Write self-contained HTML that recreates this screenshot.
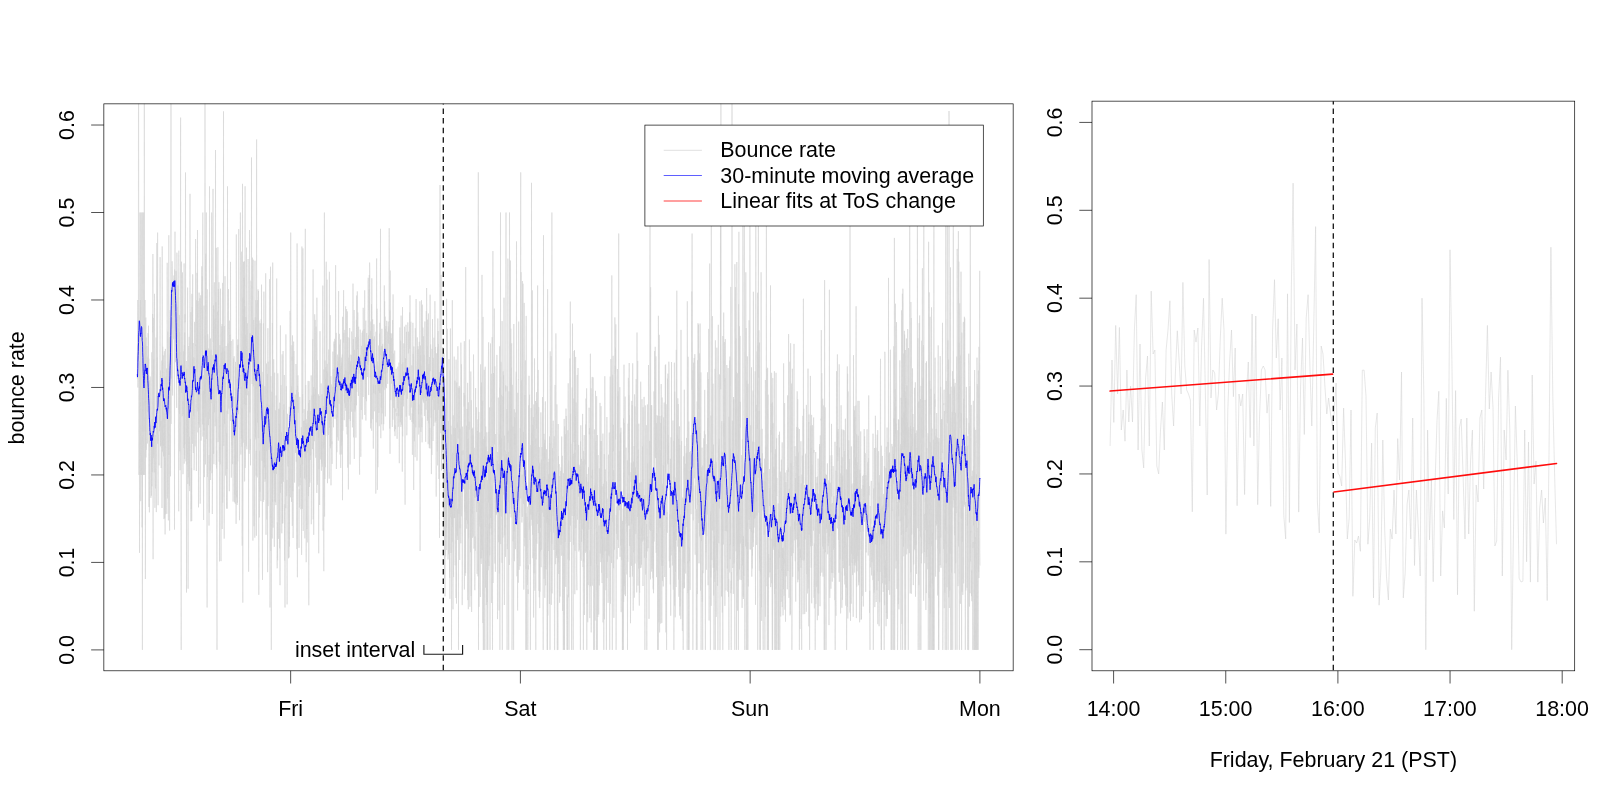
<!DOCTYPE html>
<html><head><meta charset="utf-8"><title>Bounce rate</title>
<style>
html,body{margin:0;padding:0;background:#fff;}
body{width:1600px;height:800px;overflow:hidden;}
svg{display:block;font-family:"Liberation Sans",sans-serif;fill:#000;will-change:transform;}
</style></head><body>
<svg width="1600" height="800" viewBox="0 0 1600 800">
<clipPath id="cl"><rect x="103.85" y="103.85" width="909.31" height="566.9499999999999"/></clipPath>
<clipPath id="cr"><rect x="1092.0" y="101.15" width="482.70000000000005" height="569.65"/></clipPath>
<g clip-path="url(#cl)">
<path d="M137.3 378.7L137.5 343.7L137.6 361.2L137.8 300.0L137.9 387.5L138.1 335.0L138.3 361.2L138.4 300.0L138.6 -224.9L138.7 212.5L138.9 474.9L139.1 431.2L139.2 387.5L139.4 361.2L139.5 552.8L139.7 387.5L139.9 212.5L140.0 431.2L140.2 474.9L140.3 387.5L140.5 300.0L140.7 501.2L140.8 212.5L141.0 361.2L141.1 387.5L141.3 431.2L141.5 474.9L141.6 431.2L141.8 212.5L141.9 361.2L142.1 527.4L142.2 387.5L142.4 649.9L142.6 387.5L142.7 212.5L142.9 431.2L143.0 361.2L143.2 387.5L143.4 474.9L143.5 387.5L143.7 212.5L143.8 431.2L144.0 474.9L144.2 300.0L144.3 -224.9L144.5 300.0L144.6 387.5L144.8 474.9L145.0 300.0L145.1 431.2L145.3 343.7L145.4 579.0L145.6 387.5L145.8 317.5L145.9 457.4L146.1 337.4L146.2 449.8L146.4 411.3L146.6 366.8L146.7 374.5L146.9 346.0L147.0 398.4L147.2 408.7L147.4 443.5L147.5 430.1L147.7 356.4L147.8 412.3L148.0 333.1L148.2 334.5L148.3 385.5L148.5 325.7L148.6 401.1L148.8 358.7L149.0 507.0L149.1 388.2L149.3 479.3L149.4 512.4L149.6 380.2L149.8 394.4L149.9 446.7L150.1 436.7L150.2 376.5L150.4 412.2L150.6 413.7L150.7 479.8L150.9 497.8L151.0 480.1L151.2 439.7L151.4 490.3L151.5 495.7L151.7 430.0L151.8 352.3L152.0 486.3L152.1 419.1L152.3 472.3L152.5 369.8L152.6 314.1L152.8 332.3L152.9 254.0L153.1 559.2L153.3 317.9L153.4 431.7L153.6 458.1L153.7 359.3L153.9 434.7L154.1 446.9L154.2 472.4L154.4 313.6L154.5 293.8L154.7 431.2L154.9 507.8L155.0 491.6L155.2 434.9L155.3 485.0L155.5 488.4L155.7 453.2L155.8 444.7L156.0 416.1L156.1 337.5L156.3 512.1L156.5 423.3L156.6 409.4L156.8 243.0L156.9 429.7L157.1 405.6L157.3 357.4L157.4 434.9L157.6 232.6L157.7 443.7L157.9 434.8L158.1 505.2L158.2 413.4L158.4 392.5L158.5 404.5L158.7 392.6L158.9 397.4L159.0 465.4L159.2 398.9L159.3 398.8L159.5 431.2L159.7 429.2L159.8 379.1L160.0 295.6L160.1 257.1L160.3 426.6L160.5 370.5L160.6 446.4L160.8 421.0L160.9 445.6L161.1 420.4L161.2 468.0L161.4 388.8L161.6 391.8L161.7 369.6L161.9 360.6L162.0 508.0L162.2 246.4L162.4 334.6L162.5 451.5L162.7 346.7L162.8 437.6L163.0 446.1L163.2 355.5L163.3 452.9L163.5 452.6L163.6 456.4L163.8 407.1L164.0 519.1L164.1 417.1L164.3 351.2L164.4 375.2L164.6 518.2L164.8 413.7L164.9 451.0L165.1 534.4L165.2 356.9L165.4 348.9L165.6 514.4L165.7 480.6L165.9 417.1L166.0 376.6L166.2 407.8L166.4 418.9L166.5 368.5L166.7 417.2L166.8 513.8L167.0 446.2L167.2 262.8L167.3 328.6L167.5 455.1L167.6 498.4L167.8 331.6L168.0 413.3L168.1 415.5L168.3 402.5L168.4 520.4L168.6 433.2L168.8 235.2L168.9 455.0L169.1 364.4L169.2 373.9L169.4 441.2L169.6 530.6L169.7 337.1L169.9 414.2L170.0 356.4L170.2 310.1L170.4 363.9L170.5 476.3L170.7 341.9L170.8 365.2L171.0 -224.9L171.1 423.9L171.3 323.0L171.5 378.6L171.6 317.6L171.8 326.6L171.9 327.4L172.1 261.3L172.3 268.4L172.4 291.2L172.6 395.5L172.7 289.5L172.9 295.4L173.1 307.3L173.2 286.9L173.4 280.5L173.5 279.8L173.7 339.4L173.9 275.5L174.0 276.8L174.2 309.4L174.3 289.2L174.5 529.6L174.7 269.5L174.8 316.6L175.0 231.7L175.1 312.4L175.3 339.7L175.5 362.2L175.6 319.7L175.8 338.9L175.9 297.8L176.1 270.9L176.3 278.5L176.4 314.0L176.6 404.0L176.7 407.9L176.9 252.7L177.1 282.5L177.2 332.8L177.4 337.1L177.5 306.8L177.7 379.1L177.9 307.4L178.0 285.4L178.2 363.0L178.3 328.6L178.5 448.5L178.7 511.3L178.8 250.7L179.0 351.7L179.1 409.8L179.3 315.2L179.5 414.1L179.6 332.2L179.8 451.5L179.9 352.0L180.1 470.2L180.2 406.2L180.4 300.4L180.6 117.6L180.7 279.6L180.9 325.0L181.0 522.4L181.2 649.9L181.4 336.2L181.5 261.7L181.7 393.0L181.8 363.6L182.0 383.4L182.2 416.3L182.3 406.1L182.5 272.4L182.6 343.9L182.8 458.9L183.0 474.2L183.1 400.9L183.3 414.3L183.4 380.4L183.6 351.5L183.8 363.3L183.9 447.9L184.1 263.4L184.2 463.6L184.4 344.9L184.6 458.8L184.7 332.6L184.9 444.1L185.0 314.3L185.2 322.3L185.4 315.7L185.5 172.5L185.7 358.0L185.8 453.7L186.0 461.3L186.2 395.6L186.3 361.0L186.5 592.5L186.6 391.2L186.8 368.9L187.0 464.6L187.1 403.8L187.3 432.7L187.4 419.7L187.6 287.6L187.8 484.0L187.9 388.3L188.1 588.7L188.2 419.3L188.4 477.4L188.6 396.0L188.7 346.1L188.9 370.1L189.0 407.1L189.2 336.8L189.4 485.9L189.5 436.7L189.7 491.1L189.8 363.9L190.0 193.8L190.1 284.2L190.3 338.8L190.5 408.9L190.6 368.1L190.8 312.2L190.9 521.3L191.1 449.5L191.3 401.8L191.4 509.0L191.6 467.9L191.7 521.1L191.9 293.8L192.1 403.2L192.2 307.1L192.4 443.9L192.5 325.4L192.7 274.3L192.9 390.0L193.0 348.8L193.2 343.1L193.3 453.0L193.5 384.5L193.7 416.1L193.8 357.1L194.0 367.7L194.1 470.2L194.3 459.1L194.5 409.0L194.6 321.9L194.8 356.8L194.9 383.5L195.1 446.4L195.3 444.1L195.4 425.8L195.6 239.0L195.7 346.0L195.9 344.5L196.1 378.6L196.2 403.9L196.4 471.0L196.5 382.8L196.7 300.2L196.9 371.9L197.0 272.8L197.2 411.4L197.3 396.3L197.5 230.0L197.7 395.0L197.8 432.4L198.0 416.5L198.1 301.2L198.3 322.5L198.5 507.3L198.6 380.4L198.8 424.3L198.9 420.3L199.1 292.7L199.2 335.1L199.4 427.6L199.6 397.8L199.7 368.3L199.9 298.2L200.0 307.3L200.2 503.6L200.4 404.1L200.5 367.1L200.7 295.3L200.8 416.6L201.0 440.6L201.2 432.4L201.3 352.8L201.5 307.4L201.6 291.5L201.8 266.3L202.0 334.3L202.1 355.2L202.3 276.3L202.4 424.5L202.6 323.7L202.8 212.5L202.9 436.6L203.1 391.3L203.2 408.9L203.4 375.2L203.6 520.0L203.7 390.7L203.9 430.8L204.0 305.6L204.2 340.6L204.4 477.1L204.5 411.1L204.7 364.6L204.8 403.2L205.0 -224.9L205.2 417.3L205.3 335.6L205.5 464.4L205.6 258.2L205.8 253.8L206.0 379.8L206.1 310.6L206.3 212.5L206.4 352.1L206.6 439.0L206.8 348.5L206.9 473.5L207.1 607.5L207.2 289.3L207.4 431.6L207.6 476.9L207.7 334.2L207.9 342.2L208.0 364.6L208.2 385.7L208.3 358.2L208.5 425.1L208.7 348.4L208.8 382.7L209.0 525.6L209.1 454.9L209.3 512.7L209.5 186.3L209.6 330.4L209.8 418.9L209.9 350.2L210.1 394.0L210.3 470.6L210.4 338.5L210.6 480.0L210.7 390.0L210.9 360.6L211.1 403.1L211.2 349.6L211.4 386.5L211.5 374.5L211.7 212.5L211.9 331.0L212.0 473.2L212.2 355.2L212.3 514.0L212.5 485.6L212.7 389.5L212.8 393.8L213.0 188.9L213.1 326.1L213.3 342.1L213.5 305.3L213.6 454.1L213.8 309.1L213.9 464.2L214.1 362.2L214.3 282.3L214.4 410.0L214.6 412.4L214.7 390.9L214.9 357.9L215.1 319.0L215.2 426.2L215.4 308.6L215.5 150.0L215.7 366.4L215.9 302.1L216.0 358.7L216.2 465.0L216.3 247.8L216.5 468.6L216.7 450.4L216.8 522.2L217.0 649.9L217.1 400.4L217.3 315.9L217.5 311.6L217.6 335.5L217.8 392.2L217.9 247.2L218.1 442.1L218.2 315.7L218.4 289.1L218.6 372.8L218.7 365.6L218.9 282.2L219.0 411.3L219.2 461.7L219.4 365.7L219.5 561.4L219.7 446.9L219.8 373.5L220.0 345.1L220.2 464.3L220.3 305.1L220.5 288.7L220.6 366.4L220.8 462.4L221.0 561.1L221.1 444.0L221.3 352.7L221.4 379.8L221.6 384.8L221.8 326.4L221.9 388.4L222.1 324.0L222.2 529.0L222.4 306.0L222.6 282.9L222.7 502.7L222.9 432.8L223.0 347.5L223.2 360.4L223.4 386.2L223.5 111.3L223.7 406.2L223.8 445.9L224.0 382.4L224.2 538.6L224.3 326.1L224.5 423.7L224.6 351.3L224.8 396.5L225.0 276.2L225.1 393.5L225.3 398.7L225.4 382.4L225.6 475.6L225.8 365.3L225.9 380.0L226.1 346.0L226.2 351.0L226.4 477.0L226.6 508.5L226.7 433.1L226.9 468.9L227.0 410.7L227.2 508.7L227.3 444.0L227.5 186.3L227.7 372.9L227.8 414.0L228.0 343.5L228.1 346.8L228.3 390.0L228.5 289.1L228.6 362.4L228.8 408.6L228.9 370.4L229.1 399.4L229.3 491.2L229.4 320.6L229.6 365.5L229.7 376.9L229.9 381.2L230.1 334.9L230.2 356.2L230.4 420.9L230.5 261.9L230.7 336.4L230.9 380.8L231.0 354.1L231.2 341.0L231.3 477.6L231.5 422.9L231.7 438.2L231.8 414.8L232.0 445.3L232.1 445.1L232.3 411.1L232.5 464.2L232.6 456.9L232.8 382.3L232.9 339.4L233.1 501.6L233.3 368.5L233.4 358.4L233.6 368.4L233.7 437.8L233.9 379.9L234.1 356.2L234.2 414.1L234.4 415.0L234.5 502.2L234.7 474.7L234.9 419.8L235.0 494.8L235.2 397.0L235.3 503.7L235.5 361.9L235.7 464.7L235.8 367.4L236.0 427.5L236.1 523.8L236.3 234.4L236.5 339.4L236.6 351.2L236.8 497.3L236.9 490.5L237.1 505.0L237.2 379.0L237.4 502.8L237.6 345.3L237.7 461.4L237.9 339.4L238.0 365.7L238.2 344.8L238.4 365.4L238.5 414.1L238.7 229.1L238.8 382.5L239.0 427.6L239.2 427.7L239.3 443.2L239.5 520.2L239.6 511.3L239.8 442.5L240.0 374.8L240.1 389.1L240.3 249.0L240.4 212.5L240.6 338.6L240.8 358.6L240.9 454.5L241.1 386.9L241.2 409.8L241.4 438.5L241.6 251.7L241.7 359.9L241.9 446.6L242.0 408.2L242.2 545.7L242.4 364.1L242.5 183.8L242.7 314.4L242.8 602.7L243.0 297.7L243.2 442.7L243.3 398.4L243.5 261.9L243.6 279.4L243.8 374.0L244.0 277.5L244.1 370.1L244.3 404.1L244.4 261.3L244.6 481.4L244.8 305.9L244.9 390.5L245.1 186.3L245.2 467.9L245.4 464.8L245.6 395.7L245.7 334.8L245.9 405.1L246.0 317.2L246.2 446.3L246.3 442.1L246.5 247.6L246.7 364.8L246.8 449.3L247.0 350.0L247.1 364.1L247.3 323.3L247.5 362.0L247.6 392.5L247.8 395.2L247.9 307.9L248.1 259.0L248.3 274.8L248.4 319.4L248.6 571.7L248.7 391.6L248.9 391.3L249.1 453.7L249.2 365.8L249.4 288.4L249.5 230.0L249.7 305.9L249.9 412.5L250.0 333.1L250.2 449.9L250.3 439.0L250.5 465.3L250.7 439.6L250.8 299.5L251.0 280.6L251.1 345.3L251.3 344.8L251.5 157.5L251.6 355.6L251.8 356.1L251.9 343.9L252.1 384.0L252.3 363.7L252.4 257.6L252.6 371.6L252.7 335.1L252.9 540.6L253.1 265.6L253.2 259.7L253.4 386.4L253.5 350.6L253.7 319.9L253.9 326.7L254.0 526.2L254.2 393.9L254.3 350.4L254.5 379.9L254.7 442.0L254.8 537.7L255.0 260.7L255.1 379.6L255.3 317.2L255.5 437.3L255.6 328.0L255.8 439.4L255.9 300.1L256.1 475.6L256.2 450.9L256.4 535.7L256.6 139.5L256.7 389.1L256.9 324.0L257.0 406.4L257.2 477.4L257.4 300.1L257.5 422.7L257.7 336.0L257.8 387.6L258.0 289.3L258.2 400.3L258.3 438.1L258.5 291.0L258.6 433.5L258.8 594.8L259.0 320.5L259.1 385.6L259.3 392.4L259.4 517.4L259.6 450.7L259.8 491.9L259.9 472.1L260.1 429.3L260.2 323.2L260.4 377.3L260.6 390.9L260.7 493.7L260.9 501.1L261.0 419.4L261.2 319.3L261.4 387.2L261.5 284.6L261.7 382.6L261.8 404.4L262.0 460.7L262.2 384.7L262.3 553.0L262.5 579.9L262.6 414.0L262.8 449.6L263.0 371.9L263.1 441.5L263.3 501.9L263.4 323.4L263.6 415.9L263.8 499.9L263.9 291.6L264.1 460.7L264.2 463.2L264.4 420.3L264.6 467.5L264.7 411.4L264.9 386.2L265.0 481.7L265.2 435.0L265.3 478.8L265.5 393.1L265.7 273.3L265.8 457.2L266.0 534.8L266.1 467.0L266.3 443.3L266.5 363.5L266.6 451.0L266.8 403.7L266.9 519.5L267.1 404.3L267.3 386.7L267.4 374.1L267.6 572.2L267.7 395.4L267.9 328.2L268.1 506.2L268.2 361.6L268.4 437.8L268.5 437.8L268.7 444.0L268.9 449.8L269.0 405.2L269.2 439.6L269.3 447.3L269.5 279.2L269.7 296.1L269.8 433.8L270.0 607.5L270.1 530.9L270.3 343.8L270.5 266.7L270.6 347.4L270.8 550.9L270.9 376.1L271.1 478.7L271.3 649.9L271.4 535.8L271.6 510.2L271.7 499.7L271.9 391.7L272.1 501.8L272.2 538.5L272.4 323.0L272.5 502.1L272.7 262.6L272.9 514.2L273.0 527.7L273.2 496.7L273.3 484.9L273.5 466.9L273.7 359.4L273.8 396.4L274.0 473.4L274.1 452.4L274.3 546.8L274.5 469.1L274.6 372.7L274.8 501.4L274.9 480.3L275.1 455.7L275.2 442.8L275.4 502.4L275.6 410.3L275.7 440.5L275.9 505.1L276.0 446.2L276.2 395.5L276.4 469.9L276.5 473.9L276.7 278.5L276.8 398.0L277.0 436.7L277.2 568.3L277.3 522.4L277.5 524.1L277.6 560.3L277.8 373.3L278.0 386.3L278.1 413.8L278.3 481.1L278.4 538.9L278.6 484.4L278.8 409.3L278.9 457.8L279.1 408.6L279.2 461.9L279.4 423.8L279.6 548.3L279.7 402.7L279.9 404.5L280.0 585.2L280.2 514.3L280.4 325.4L280.5 492.8L280.7 487.9L280.8 425.5L281.0 385.2L281.2 455.8L281.3 454.1L281.5 483.7L281.6 432.3L281.8 533.3L282.0 429.8L282.1 354.4L282.3 462.8L282.4 523.5L282.6 451.1L282.8 523.2L282.9 463.9L283.1 351.0L283.2 406.5L283.4 481.8L283.6 410.2L283.7 419.3L283.9 444.3L284.0 404.4L284.2 437.5L284.3 375.0L284.5 463.2L284.7 560.6L284.8 504.3L285.0 607.5L285.1 532.0L285.3 497.7L285.5 434.1L285.6 434.5L285.8 508.1L285.9 334.4L286.1 435.6L286.3 386.1L286.4 386.5L286.6 440.6L286.7 496.2L286.9 480.0L287.1 604.4L287.2 504.6L287.4 445.0L287.5 413.8L287.7 463.1L287.9 466.4L288.0 433.7L288.2 450.6L288.3 442.6L288.5 558.3L288.7 534.0L288.8 437.4L289.0 557.5L289.1 486.4L289.3 406.8L289.5 546.5L289.6 495.7L289.8 485.6L289.9 487.7L290.1 310.9L290.3 410.3L290.4 497.3L290.6 451.4L290.7 232.6L290.9 332.0L291.1 413.8L291.2 432.2L291.4 386.3L291.5 501.9L291.7 361.6L291.9 345.2L292.0 360.7L292.2 356.8L292.3 525.9L292.5 335.4L292.7 425.7L292.8 491.2L293.0 410.5L293.1 538.0L293.3 467.2L293.5 444.5L293.6 341.6L293.8 421.8L293.9 350.9L294.1 414.1L294.2 399.5L294.4 448.9L294.6 482.6L294.7 461.9L294.9 429.2L295.0 437.9L295.2 394.6L295.4 396.3L295.5 452.9L295.7 429.9L295.8 423.4L296.0 364.0L296.2 377.7L296.3 461.7L296.5 389.9L296.6 417.0L296.8 549.1L297.0 370.5L297.1 243.4L297.3 323.6L297.4 577.3L297.6 385.9L297.8 409.2L297.9 375.3L298.1 412.8L298.2 392.1L298.4 401.2L298.6 440.7L298.7 486.4L298.9 456.7L299.0 547.9L299.2 489.2L299.4 507.6L299.5 467.4L299.7 455.9L299.8 396.9L300.0 485.2L300.2 449.7L300.3 451.2L300.5 477.8L300.6 464.5L300.8 509.2L301.0 508.6L301.1 482.7L301.3 427.2L301.4 484.3L301.6 554.9L301.8 440.4L301.9 246.5L302.1 464.3L302.2 444.7L302.4 508.9L302.6 394.0L302.7 412.9L302.9 248.4L303.0 466.6L303.2 530.9L303.3 452.1L303.5 420.9L303.7 434.9L303.8 432.9L304.0 449.1L304.1 409.2L304.3 460.0L304.5 478.4L304.6 420.5L304.8 462.7L304.9 538.3L305.1 424.1L305.3 228.8L305.4 420.4L305.6 458.3L305.7 385.0L305.9 479.6L306.1 426.3L306.2 562.2L306.4 419.4L306.5 455.5L306.7 477.5L306.9 529.0L307.0 423.3L307.2 542.4L307.3 450.2L307.5 410.8L307.7 439.3L307.8 452.9L308.0 434.1L308.1 380.9L308.3 482.8L308.5 496.1L308.6 403.2L308.8 605.3L308.9 431.5L309.1 381.2L309.3 487.0L309.4 449.2L309.6 430.9L309.7 400.0L309.9 482.5L310.1 411.0L310.2 459.9L310.4 459.6L310.5 433.9L310.7 455.1L310.9 410.8L311.0 399.8L311.2 375.4L311.3 524.2L311.5 479.7L311.7 434.6L311.8 432.0L312.0 395.3L312.1 435.4L312.3 409.2L312.5 449.1L312.6 343.9L312.8 339.2L312.9 423.2L313.1 269.4L313.2 519.3L313.4 462.4L313.6 387.0L313.7 534.8L313.9 394.8L314.0 419.0L314.2 433.3L314.4 441.2L314.5 394.1L314.7 314.3L314.8 424.9L315.0 359.2L315.2 319.9L315.3 413.5L315.5 388.7L315.6 417.9L315.8 457.7L316.0 394.4L316.1 326.6L316.3 353.2L316.4 454.6L316.6 466.4L316.8 492.9L316.9 297.7L317.1 421.0L317.2 360.1L317.4 484.8L317.6 434.0L317.7 418.6L317.9 423.5L318.0 425.8L318.2 433.5L318.4 438.0L318.5 394.3L318.7 553.3L318.8 426.1L319.0 469.1L319.2 395.9L319.3 421.3L319.5 437.9L319.6 505.0L319.8 430.2L320.0 331.2L320.1 426.7L320.3 407.0L320.4 459.4L320.6 423.1L320.8 433.4L320.9 406.4L321.1 383.4L321.2 397.5L321.4 470.7L321.6 420.6L321.7 463.4L321.9 449.1L322.0 394.3L322.2 466.6L322.3 426.5L322.5 424.4L322.7 380.8L322.8 285.6L323.0 530.6L323.1 460.8L323.3 406.0L323.5 448.3L323.6 443.9L323.8 571.2L323.9 369.4L324.1 445.1L324.3 345.2L324.4 212.5L324.6 516.6L324.7 397.3L324.9 479.1L325.1 360.5L325.2 398.6L325.4 467.2L325.5 379.3L325.7 436.2L325.9 367.1L326.0 396.7L326.2 261.7L326.3 412.9L326.5 394.9L326.7 370.6L326.8 396.8L327.0 279.7L327.1 414.2L327.3 363.9L327.5 483.2L327.6 372.5L327.8 400.0L327.9 386.3L328.1 389.5L328.3 433.8L328.4 435.0L328.6 361.6L328.7 349.6L328.9 366.7L329.1 383.9L329.2 478.6L329.4 271.8L329.5 424.9L329.7 427.9L329.9 412.8L330.0 410.2L330.2 315.2L330.3 446.2L330.5 380.3L330.7 448.3L330.8 376.2L331.0 485.3L331.1 441.1L331.3 406.3L331.4 384.4L331.6 438.0L331.8 444.2L331.9 441.5L332.1 463.9L332.2 434.0L332.4 414.3L332.6 386.8L332.7 413.5L332.9 351.6L333.0 395.9L333.2 373.4L333.4 369.3L333.5 427.3L333.7 406.4L333.8 393.7L334.0 341.6L334.2 400.9L334.3 343.8L334.5 349.1L334.6 381.4L334.8 338.8L335.0 359.0L335.1 419.1L335.3 340.1L335.4 392.6L335.6 265.2L335.8 335.5L335.9 369.6L336.1 407.9L336.2 332.9L336.4 469.0L336.6 415.1L336.7 414.3L336.9 452.2L337.0 378.2L337.2 437.3L337.4 354.6L337.5 417.4L337.7 371.5L337.8 363.4L338.0 361.1L338.2 408.5L338.3 440.6L338.5 404.8L338.6 291.1L338.8 389.6L339.0 356.8L339.1 403.7L339.3 333.9L339.4 387.1L339.6 344.6L339.8 417.0L339.9 425.8L340.1 454.6L340.2 399.9L340.4 391.5L340.6 339.5L340.7 467.9L340.9 366.0L341.0 381.8L341.2 445.7L341.3 357.6L341.5 393.7L341.7 454.4L341.8 362.7L342.0 441.4L342.1 390.6L342.3 354.5L342.5 500.2L342.6 316.8L342.8 430.7L342.9 405.9L343.1 390.6L343.3 362.5L343.4 331.5L343.6 290.2L343.7 342.5L343.9 332.9L344.1 373.4L344.2 420.2L344.4 374.4L344.5 403.2L344.7 363.2L344.9 329.9L345.0 359.5L345.2 401.3L345.3 407.9L345.5 308.5L345.7 306.3L345.8 410.8L346.0 370.6L346.1 385.6L346.3 426.9L346.5 334.3L346.6 309.1L346.8 384.7L346.9 379.7L347.1 434.4L347.3 311.4L347.4 325.0L347.6 369.2L347.7 467.7L347.9 337.0L348.1 401.9L348.2 371.9L348.4 489.4L348.5 392.7L348.7 357.6L348.9 417.3L349.0 419.1L349.2 338.0L349.3 374.1L349.5 348.8L349.7 328.0L349.8 399.1L350.0 354.5L350.1 464.5L350.3 394.7L350.4 421.0L350.6 361.4L350.8 384.5L350.9 364.2L351.1 401.5L351.2 396.2L351.4 354.9L351.6 411.7L351.7 331.6L351.9 335.7L352.0 344.1L352.2 345.8L352.4 427.4L352.5 425.3L352.7 349.8L352.8 332.9L353.0 283.6L353.2 372.3L353.3 339.0L353.5 436.3L353.6 437.4L353.8 364.4L354.0 377.2L354.1 310.0L354.3 458.9L354.4 356.5L354.6 349.8L354.8 357.5L354.9 411.7L355.1 374.4L355.2 409.5L355.4 393.6L355.6 337.2L355.7 395.6L355.9 437.6L356.0 369.0L356.2 372.0L356.4 319.9L356.5 405.3L356.7 295.5L356.8 391.9L357.0 374.2L357.2 330.4L357.3 291.4L357.5 349.2L357.6 339.5L357.8 312.5L358.0 370.1L358.1 336.7L358.3 370.1L358.4 396.0L358.6 326.7L358.8 347.8L358.9 373.5L359.1 364.1L359.2 373.1L359.4 459.9L359.6 474.7L359.7 405.8L359.9 389.3L360.0 375.0L360.2 329.6L360.3 332.3L360.5 369.2L360.7 358.1L360.8 456.8L361.0 354.8L361.1 404.3L361.3 410.0L361.5 382.1L361.6 345.9L361.8 354.6L361.9 340.5L362.1 332.7L362.3 419.4L362.4 406.6L362.6 406.5L362.7 330.7L362.9 354.0L363.1 397.0L363.2 307.8L363.4 328.5L363.5 369.8L363.7 350.4L363.9 378.3L364.0 373.8L364.2 328.9L364.3 358.8L364.5 337.3L364.7 290.3L364.8 414.9L365.0 343.4L365.1 366.5L365.3 362.6L365.5 347.0L365.6 398.8L365.8 320.6L365.9 420.5L366.1 365.3L366.3 365.6L366.4 401.3L366.6 344.4L366.7 333.0L366.9 341.1L367.1 364.1L367.2 355.0L367.4 377.0L367.5 348.4L367.7 360.7L367.9 347.1L368.0 364.9L368.2 277.8L368.3 361.9L368.5 335.3L368.7 395.1L368.8 360.0L369.0 289.5L369.1 310.0L369.3 275.0L369.4 347.8L369.6 262.6L369.8 271.4L369.9 325.2L370.1 340.6L370.2 377.6L370.4 331.2L370.6 428.4L370.7 338.5L370.9 321.5L371.0 383.2L371.2 423.2L371.4 352.1L371.5 304.2L371.7 430.7L371.8 278.3L372.0 344.7L372.2 336.6L372.3 355.7L372.5 355.2L372.6 319.4L372.8 419.2L373.0 338.9L373.1 339.8L373.3 448.6L373.4 384.6L373.6 393.3L373.8 346.8L373.9 324.3L374.1 356.0L374.2 372.3L374.4 336.4L374.6 364.2L374.7 411.3L374.9 365.5L375.0 392.2L375.2 394.1L375.4 394.4L375.5 384.9L375.7 388.9L375.8 493.6L376.0 331.7L376.2 422.4L376.3 404.7L376.5 336.7L376.6 258.5L376.8 369.1L377.0 308.7L377.1 329.6L377.3 371.0L377.4 489.8L377.6 361.4L377.8 410.8L377.9 467.2L378.1 365.6L378.2 381.0L378.4 378.8L378.6 390.9L378.7 345.5L378.9 412.9L379.0 370.9L379.2 426.2L379.3 381.7L379.5 333.7L379.7 392.5L379.8 322.8L380.0 392.9L380.1 348.6L380.3 355.0L380.5 228.8L380.6 331.3L380.8 438.2L380.9 389.8L381.1 371.3L381.3 407.9L381.4 366.5L381.6 346.3L381.7 424.3L381.9 328.8L382.1 357.2L382.2 413.4L382.4 346.0L382.5 387.2L382.7 343.9L382.9 377.2L383.0 371.7L383.2 430.5L383.3 360.4L383.5 375.8L383.7 424.2L383.8 353.7L384.0 374.3L384.1 371.9L384.3 285.4L384.5 352.7L384.6 301.3L384.8 389.8L384.9 323.5L385.1 316.6L385.3 416.4L385.4 328.8L385.6 386.7L385.7 338.6L385.9 326.0L386.1 330.5L386.2 375.3L386.4 388.2L386.5 357.7L386.7 320.8L386.9 335.2L387.0 355.0L387.2 372.7L387.3 331.7L387.5 338.3L387.7 383.9L387.8 371.7L388.0 366.5L388.1 363.3L388.3 321.6L388.4 343.6L388.6 326.5L388.8 331.0L388.9 359.6L389.1 367.3L389.2 228.2L389.4 321.9L389.6 321.8L389.7 428.5L389.9 310.4L390.0 453.8L390.2 270.5L390.4 378.2L390.5 333.2L390.7 371.7L390.8 400.1L391.0 333.8L391.2 375.2L391.3 337.9L391.5 377.5L391.6 383.6L391.8 372.8L392.0 376.7L392.1 333.1L392.3 426.9L392.4 375.2L392.6 320.2L392.8 389.7L392.9 419.8L393.1 294.4L393.2 364.6L393.4 353.6L393.6 373.2L393.7 407.8L393.9 374.7L394.0 372.8L394.2 387.3L394.4 422.4L394.5 431.4L394.7 350.6L394.8 402.4L395.0 436.1L395.2 425.4L395.3 428.1L395.5 429.2L395.6 408.6L395.8 411.7L396.0 411.7L396.1 368.7L396.3 398.1L396.4 393.3L396.6 390.7L396.8 416.1L396.9 412.8L397.1 438.8L397.2 430.9L397.4 393.9L397.6 408.4L397.7 387.8L397.9 366.7L398.0 401.1L398.2 401.8L398.3 426.8L398.5 388.9L398.7 416.2L398.8 403.2L399.0 362.6L399.1 390.2L399.3 463.2L399.5 391.7L399.6 391.2L399.8 364.8L399.9 327.5L400.1 403.8L400.3 422.1L400.4 419.2L400.6 340.7L400.7 372.9L400.9 426.9L401.1 315.6L401.2 416.8L401.4 424.6L401.5 378.6L401.7 384.0L401.9 417.8L402.0 364.1L402.2 383.3L402.3 471.7L402.5 307.1L402.7 436.4L402.8 362.4L403.0 400.0L403.1 394.9L403.3 371.3L403.5 393.5L403.6 406.4L403.8 344.4L403.9 343.3L404.1 395.2L404.3 383.8L404.4 326.7L404.6 327.8L404.7 347.3L404.9 467.7L405.1 504.7L405.2 376.1L405.4 358.2L405.5 392.3L405.7 358.7L405.9 360.1L406.0 324.8L406.2 416.6L406.3 355.3L406.5 331.8L406.7 350.8L406.8 435.3L407.0 420.6L407.1 369.3L407.3 385.6L407.4 398.8L407.6 390.3L407.8 322.4L407.9 345.5L408.1 345.7L408.2 348.5L408.4 353.4L408.6 331.7L408.7 350.0L408.9 377.3L409.0 367.1L409.2 415.7L409.4 343.9L409.5 341.2L409.7 312.3L409.8 348.7L410.0 295.3L410.2 368.3L410.3 419.9L410.5 410.7L410.6 397.1L410.8 321.7L411.0 392.7L411.1 407.5L411.3 406.2L411.4 395.1L411.6 399.2L411.8 365.4L411.9 380.6L412.1 422.0L412.2 413.3L412.4 454.8L412.6 415.1L412.7 390.7L412.9 322.8L413.0 422.3L413.2 353.9L413.4 423.8L413.5 382.5L413.7 490.0L413.8 346.4L414.0 389.7L414.2 386.2L414.3 441.4L414.5 379.6L414.6 380.9L414.8 409.9L415.0 392.3L415.1 457.1L415.3 328.2L415.4 385.7L415.6 392.3L415.8 427.4L415.9 360.7L416.1 299.0L416.2 360.3L416.4 365.8L416.6 381.6L416.7 380.3L416.9 384.5L417.0 460.7L417.2 449.4L417.3 337.4L417.5 352.3L417.7 377.5L417.8 375.5L418.0 346.3L418.1 387.6L418.3 349.2L418.5 414.3L418.6 389.2L418.8 434.5L418.9 404.7L419.1 427.7L419.3 341.8L419.4 384.5L419.6 375.4L419.7 370.4L419.9 301.3L420.1 551.0L420.2 355.2L420.4 392.2L420.5 345.5L420.7 355.3L420.9 432.0L421.0 365.6L421.2 414.5L421.3 403.1L421.5 300.2L421.7 376.4L421.8 427.2L422.0 417.7L422.1 442.3L422.3 304.6L422.5 385.8L422.6 399.5L422.8 365.4L422.9 327.6L423.1 384.0L423.3 401.5L423.4 396.0L423.6 336.3L423.7 374.9L423.9 403.1L424.1 354.8L424.2 396.2L424.4 416.1L424.5 378.8L424.7 346.9L424.9 321.5L425.0 381.2L425.2 398.0L425.3 390.3L425.5 397.1L425.7 441.8L425.8 425.7L426.0 379.3L426.1 409.7L426.3 311.0L426.4 401.0L426.6 288.0L426.8 317.4L426.9 392.7L427.1 346.1L427.2 353.5L427.4 420.8L427.6 319.6L427.7 418.8L427.9 409.7L428.0 412.3L428.2 444.2L428.4 313.5L428.5 348.1L428.7 423.3L428.8 364.4L429.0 400.1L429.2 398.9L429.3 447.9L429.5 357.0L429.6 444.6L429.8 427.9L430.0 448.5L430.1 294.7L430.3 371.1L430.4 362.9L430.6 344.4L430.8 349.3L430.9 399.9L431.1 417.8L431.2 388.1L431.4 474.1L431.6 420.6L431.7 394.0L431.9 455.0L432.0 348.9L432.2 372.5L432.4 399.9L432.5 319.1L432.7 353.3L432.8 407.2L433.0 441.0L433.2 430.2L433.3 357.9L433.5 400.0L433.6 415.1L433.8 426.1L434.0 337.7L434.1 398.0L434.3 381.1L434.4 394.6L434.6 409.9L434.8 393.0L434.9 301.2L435.1 422.5L435.2 413.5L435.4 349.5L435.6 346.9L435.7 392.5L435.9 420.8L436.0 390.9L436.2 496.6L436.3 388.5L436.5 383.1L436.7 353.4L436.8 381.3L437.0 423.3L437.1 423.9L437.3 451.5L437.5 347.5L437.6 465.4L437.8 318.5L437.9 388.1L438.1 331.1L438.3 403.5L438.4 343.9L438.6 409.9L438.7 389.1L438.9 479.0L439.1 416.3L439.2 379.5L439.4 372.0L439.5 537.9L439.7 408.0L439.9 320.6L440.0 185.0L440.2 406.3L440.3 408.9L440.5 418.7L440.7 377.4L440.8 433.2L441.0 410.2L441.1 274.9L441.3 423.3L441.5 470.4L441.6 402.3L441.8 404.1L441.9 389.6L442.1 405.7L442.3 379.7L442.4 452.3L442.6 387.4L442.7 347.0L442.9 386.7L443.1 438.9L443.2 380.9L443.4 457.9L443.5 536.9L443.7 504.3L443.9 353.2L444.0 509.1L444.2 500.4L444.3 557.3L444.5 578.5L444.7 378.6L444.8 525.1L445.0 596.3L445.1 549.3L445.3 525.1L445.4 451.2L445.6 556.5L445.8 483.1L445.9 537.3L446.1 511.4L446.2 398.4L446.4 527.4L446.6 298.8L446.7 550.0L446.9 463.6L447.0 504.8L447.2 421.9L447.4 328.8L447.5 489.2L447.7 429.3L447.8 496.8L448.0 559.4L448.2 554.0L448.3 421.1L448.5 554.3L448.6 491.5L448.8 508.7L449.0 359.2L449.1 478.3L449.3 507.4L449.4 472.4L449.6 577.6L449.8 472.3L449.9 598.8L450.1 370.5L450.2 484.0L450.4 328.5L450.6 412.8L450.7 517.3L450.9 425.9L451.0 553.0L451.2 502.5L451.4 434.5L451.5 649.9L451.7 568.5L451.8 477.4L452.0 535.6L452.2 542.2L452.3 300.2L452.5 526.8L452.6 452.5L452.8 544.2L453.0 609.3L453.1 438.0L453.3 415.3L453.4 564.1L453.6 577.1L453.8 455.5L453.9 427.9L454.1 518.2L454.2 356.6L454.4 477.7L454.5 502.1L454.7 517.9L454.9 451.1L455.0 380.7L455.2 565.4L455.3 526.2L455.5 428.0L455.7 456.9L455.8 439.8L456.0 598.0L456.1 359.7L456.3 477.5L456.5 603.6L456.6 440.5L456.8 382.4L456.9 403.7L457.1 427.9L457.3 422.4L457.4 535.7L457.6 508.5L457.7 540.0L457.9 346.3L458.1 438.6L458.2 387.7L458.4 496.3L458.5 649.9L458.7 445.0L458.9 453.6L459.0 513.7L459.2 385.9L459.3 421.2L459.5 518.0L459.7 560.0L459.8 387.5L460.0 528.1L460.1 428.5L460.3 469.2L460.5 465.8L460.6 487.8L460.8 543.3L460.9 342.6L461.1 459.2L461.3 471.1L461.4 364.3L461.6 434.7L461.7 516.3L461.9 450.9L462.1 497.7L462.2 605.1L462.4 575.2L462.5 467.1L462.7 426.6L462.9 453.1L463.0 455.0L463.2 450.3L463.3 465.4L463.5 489.2L463.7 449.3L463.8 416.9L464.0 392.9L464.1 406.6L464.3 341.2L464.4 589.5L464.6 540.3L464.8 395.4L464.9 511.9L465.1 461.5L465.2 575.8L465.4 494.2L465.6 573.1L465.7 267.1L465.9 450.1L466.0 515.2L466.2 470.3L466.4 520.0L466.5 425.7L466.7 528.7L466.8 523.4L467.0 408.9L467.2 508.7L467.3 511.6L467.5 524.1L467.6 382.9L467.8 600.1L468.0 557.4L468.1 438.6L468.3 609.2L468.4 402.3L468.6 538.4L468.8 477.2L468.9 489.4L469.1 421.7L469.2 429.7L469.4 339.5L469.6 403.7L469.7 490.2L469.9 606.8L470.0 497.7L470.2 497.7L470.4 453.3L470.5 552.2L470.7 454.6L470.8 371.5L471.0 491.3L471.2 595.9L471.3 400.2L471.5 446.0L471.6 612.0L471.8 484.2L472.0 513.8L472.1 428.9L472.3 491.8L472.4 529.2L472.6 537.9L472.8 427.7L472.9 470.3L473.1 434.6L473.2 536.6L473.4 473.1L473.5 354.5L473.7 386.5L473.9 464.0L474.0 548.7L474.2 483.7L474.3 473.2L474.5 497.6L474.7 447.8L474.8 590.2L475.0 543.0L475.1 536.4L475.3 550.7L475.5 492.9L475.6 388.1L475.8 497.8L475.9 466.3L476.1 468.8L476.3 491.7L476.4 407.3L476.6 486.6L476.7 512.1L476.9 497.4L477.1 573.9L477.2 525.5L477.4 431.0L477.5 503.2L477.7 482.9L477.9 419.3L478.0 576.3L478.2 431.5L478.3 172.3L478.5 649.9L478.7 425.7L478.8 411.9L479.0 606.9L479.1 532.1L479.3 510.7L479.5 506.4L479.6 502.4L479.8 526.4L479.9 432.5L480.1 582.3L480.3 597.0L480.4 465.3L480.6 364.4L480.7 558.6L480.9 457.9L481.1 486.6L481.2 563.9L481.4 513.0L481.5 382.4L481.7 558.3L481.9 308.8L482.0 274.9L482.2 550.2L482.3 495.7L482.5 406.9L482.7 400.7L482.8 623.0L483.0 316.9L483.1 553.2L483.3 649.9L483.4 439.1L483.6 475.3L483.8 614.1L483.9 649.9L484.1 649.9L484.2 369.8L484.4 488.9L484.6 436.5L484.7 533.7L484.9 649.9L485.0 435.4L485.2 366.7L485.4 455.9L485.5 587.6L485.7 426.6L485.8 470.6L486.0 446.7L486.2 456.0L486.3 605.0L486.5 602.2L486.6 510.1L486.8 432.3L487.0 649.9L487.1 551.3L487.3 480.1L487.4 602.0L487.6 530.6L487.8 649.9L487.9 451.3L488.1 461.6L488.2 570.3L488.4 359.0L488.6 342.3L488.7 502.7L488.9 431.8L489.0 566.0L489.2 523.3L489.4 533.5L489.5 407.4L489.7 555.4L489.8 455.6L490.0 649.9L490.2 483.4L490.3 353.4L490.5 343.5L490.6 518.0L490.8 446.1L491.0 515.6L491.1 528.1L491.3 373.7L491.4 389.2L491.6 603.0L491.8 486.6L491.9 534.6L492.1 415.3L492.2 337.1L492.4 614.6L492.5 649.9L492.7 497.4L492.9 251.1L493.0 583.0L493.2 517.0L493.3 493.7L493.5 373.0L493.7 440.9L493.8 458.9L494.0 482.8L494.1 457.0L494.3 308.6L494.5 444.4L494.6 427.3L494.8 366.3L494.9 563.5L495.1 483.6L495.3 555.9L495.4 571.7L495.6 488.6L495.7 434.0L495.9 456.3L496.1 515.1L496.2 484.7L496.4 513.6L496.5 448.2L496.7 395.1L496.9 354.9L497.0 483.2L497.2 461.0L497.3 514.8L497.5 619.1L497.7 452.1L497.8 502.0L498.0 512.4L498.1 509.7L498.3 397.6L498.5 462.6L498.6 542.2L498.8 464.1L498.9 497.3L499.1 610.5L499.3 434.3L499.4 573.4L499.6 382.4L499.7 346.3L499.9 649.9L500.1 387.8L500.2 392.0L500.4 512.0L500.5 212.5L500.7 544.1L500.9 361.8L501.0 509.4L501.2 395.1L501.3 516.7L501.5 438.1L501.7 492.5L501.8 470.6L502.0 562.8L502.1 321.1L502.3 649.9L502.4 579.7L502.6 464.7L502.8 537.7L502.9 396.5L503.1 456.5L503.2 371.3L503.4 421.6L503.6 375.1L503.7 470.5L503.9 494.8L504.0 297.7L504.2 565.2L504.4 605.0L504.5 435.7L504.7 535.4L504.8 477.0L505.0 504.1L505.2 527.5L505.3 450.5L505.5 556.8L505.6 385.4L505.8 391.4L506.0 212.5L506.1 499.4L506.3 506.1L506.4 454.4L506.6 463.4L506.8 451.6L506.9 409.2L507.1 649.9L507.2 386.3L507.4 549.1L507.6 455.8L507.7 388.5L507.9 258.6L508.0 442.8L508.2 430.6L508.4 502.0L508.5 451.8L508.7 649.9L508.8 465.1L509.0 391.2L509.2 392.1L509.3 565.0L509.5 212.5L509.6 430.0L509.8 513.8L510.0 472.0L510.1 487.7L510.3 449.7L510.4 260.5L510.6 479.5L510.8 328.7L510.9 401.7L511.1 517.4L511.2 367.6L511.4 508.7L511.5 346.7L511.7 343.3L511.9 366.9L512.0 649.9L512.2 628.0L512.3 384.8L512.5 477.1L512.7 460.4L512.8 486.5L513.0 426.7L513.1 541.3L513.3 476.9L513.5 484.7L513.6 649.9L513.8 324.0L513.9 508.0L514.1 531.4L514.3 409.3L514.4 561.3L514.6 483.3L514.7 417.2L514.9 444.6L515.1 433.7L515.2 463.0L515.4 539.9L515.5 549.2L515.7 412.6L515.9 523.1L516.0 502.1L516.2 371.7L516.3 502.6L516.5 241.4L516.7 422.6L516.8 481.3L517.0 576.3L517.1 488.6L517.3 487.2L517.5 565.3L517.6 610.5L517.8 392.8L517.9 490.4L518.1 500.5L518.3 582.7L518.4 379.4L518.6 380.1L518.7 321.6L518.9 405.5L519.1 569.9L519.2 520.0L519.4 507.0L519.5 512.9L519.7 470.6L519.9 550.0L520.0 566.2L520.2 493.1L520.3 427.9L520.5 472.1L520.7 172.3L520.8 498.4L521.0 365.4L521.1 272.2L521.3 448.9L521.4 381.8L521.6 380.3L521.8 420.1L521.9 522.5L522.1 474.6L522.2 516.9L522.4 281.0L522.6 372.3L522.7 453.1L522.9 442.4L523.0 283.7L523.2 457.0L523.4 503.9L523.5 431.9L523.7 485.3L523.8 589.6L524.0 473.5L524.2 302.9L524.3 359.4L524.5 475.2L524.6 508.0L524.8 546.3L525.0 394.9L525.1 537.9L525.3 360.4L525.4 432.7L525.6 432.8L525.8 649.9L525.9 513.2L526.1 568.8L526.2 315.9L526.4 572.2L526.6 649.9L526.7 522.5L526.9 520.6L527.0 516.8L527.2 563.2L527.4 584.9L527.5 564.7L527.7 506.7L527.8 649.9L528.0 589.5L528.2 593.9L528.3 565.4L528.5 569.3L528.6 405.4L528.8 506.9L529.0 375.8L529.1 421.1L529.3 529.5L529.4 400.1L529.6 394.7L529.8 539.9L529.9 482.2L530.1 564.3L530.2 539.8L530.4 649.9L530.5 574.2L530.7 462.5L530.9 444.9L531.0 514.8L531.2 408.0L531.3 519.8L531.5 182.8L531.7 504.0L531.8 432.6L532.0 487.3L532.1 525.7L532.3 290.3L532.5 473.0L532.6 534.7L532.8 424.8L532.9 558.2L533.1 486.4L533.3 417.1L533.4 546.6L533.6 617.5L533.7 577.6L533.9 404.4L534.1 573.4L534.2 519.0L534.4 470.8L534.5 358.4L534.7 527.8L534.9 590.7L535.0 476.1L535.2 461.7L535.3 456.4L535.5 401.0L535.7 469.9L535.8 649.9L536.0 438.4L536.1 559.4L536.3 512.0L536.5 392.2L536.6 428.7L536.8 403.2L536.9 543.7L537.1 473.3L537.3 524.2L537.4 469.6L537.6 285.5L537.7 499.8L537.9 511.3L538.1 504.2L538.2 369.9L538.4 533.0L538.5 510.5L538.7 407.1L538.9 522.0L539.0 590.9L539.2 447.1L539.3 597.3L539.5 463.7L539.7 608.1L539.8 462.6L540.0 591.7L540.1 531.8L540.3 551.4L540.4 486.5L540.6 528.0L540.8 469.0L540.9 412.4L541.1 567.2L541.2 466.7L541.4 459.6L541.6 503.2L541.7 549.9L541.9 537.6L542.0 447.0L542.2 512.6L542.4 484.4L542.5 397.1L542.7 508.4L542.8 514.1L543.0 549.7L543.2 649.9L543.3 456.0L543.5 235.2L543.6 504.9L543.8 516.7L544.0 433.8L544.1 578.8L544.3 450.6L544.4 442.6L544.6 525.5L544.8 597.8L544.9 439.9L545.1 441.3L545.2 568.8L545.4 401.4L545.6 585.4L545.7 566.6L545.9 536.6L546.0 509.3L546.2 569.5L546.4 505.3L546.5 449.3L546.7 522.6L546.8 514.5L547.0 479.3L547.2 649.9L547.3 498.0L547.5 649.9L547.6 289.2L547.8 615.6L548.0 461.8L548.1 478.6L548.3 550.9L548.4 532.3L548.6 474.3L548.8 542.0L548.9 503.7L549.1 458.7L549.2 509.9L549.4 604.0L549.5 436.5L549.7 564.3L549.9 443.5L550.0 649.9L550.2 351.4L550.3 399.0L550.5 504.9L550.7 503.8L550.8 531.6L551.0 433.3L551.1 356.1L551.3 604.9L551.5 531.6L551.6 496.9L551.8 543.9L551.9 212.5L552.1 593.4L552.3 542.2L552.4 495.6L552.6 448.2L552.7 478.7L552.9 472.6L553.1 515.9L553.2 420.7L553.4 511.9L553.5 498.4L553.7 532.6L553.9 501.1L554.0 550.0L554.2 436.3L554.3 544.3L554.5 649.9L554.7 649.9L554.8 606.6L555.0 395.0L555.1 384.9L555.3 509.3L555.5 526.2L555.6 564.2L555.8 459.4L555.9 333.4L556.1 486.0L556.3 546.8L556.4 555.7L556.6 487.1L556.7 558.0L556.9 404.4L557.1 571.8L557.2 649.9L557.4 649.9L557.5 527.8L557.7 589.3L557.9 649.9L558.0 504.5L558.2 424.0L558.3 562.5L558.5 456.0L558.7 574.0L558.8 562.2L559.0 518.5L559.1 464.1L559.3 563.0L559.4 589.8L559.6 602.8L559.8 476.0L559.9 590.8L560.1 596.5L560.2 568.8L560.4 550.2L560.6 503.6L560.7 471.1L560.9 477.7L561.0 544.9L561.2 467.3L561.4 555.7L561.5 473.0L561.7 436.5L561.8 535.9L562.0 530.2L562.2 463.1L562.3 455.8L562.5 544.6L562.6 611.0L562.8 575.8L563.0 496.3L563.1 559.8L563.3 649.9L563.4 473.3L563.6 489.3L563.8 497.8L563.9 536.8L564.1 649.9L564.2 418.9L564.4 649.9L564.6 476.3L564.7 426.3L564.9 498.9L565.0 542.0L565.2 474.4L565.4 434.1L565.5 537.5L565.7 586.8L565.8 554.7L566.0 408.6L566.2 493.5L566.3 416.1L566.5 432.6L566.6 575.3L566.8 620.1L567.0 627.1L567.1 649.9L567.3 594.8L567.4 649.9L567.6 522.6L567.8 482.0L567.9 430.2L568.1 559.4L568.2 383.3L568.4 478.8L568.5 597.3L568.7 460.7L568.9 578.1L569.0 649.9L569.2 509.2L569.3 560.4L569.5 506.8L569.7 487.7L569.8 487.2L570.0 358.3L570.1 542.0L570.3 301.6L570.5 525.6L570.6 413.7L570.8 488.6L570.9 443.9L571.1 489.6L571.3 477.0L571.4 468.3L571.6 649.9L571.7 593.3L571.9 471.6L572.1 515.9L572.2 387.5L572.4 489.1L572.5 323.6L572.7 478.2L572.9 469.5L573.0 499.5L573.2 649.9L573.3 453.8L573.5 544.9L573.7 517.5L573.8 398.5L574.0 442.1L574.1 351.0L574.3 516.0L574.5 350.1L574.6 387.7L574.8 594.2L574.9 452.6L575.1 550.7L575.3 415.9L575.4 449.6L575.6 356.9L575.7 486.6L575.9 527.9L576.1 402.5L576.2 430.9L576.4 548.2L576.5 572.6L576.7 577.3L576.9 590.2L577.0 381.1L577.2 375.0L577.3 495.5L577.5 519.6L577.6 444.4L577.8 407.5L578.0 368.0L578.1 445.6L578.3 496.5L578.4 468.9L578.6 444.9L578.8 459.4L578.9 551.5L579.1 464.8L579.2 534.2L579.4 549.8L579.6 479.4L579.7 523.9L579.9 466.6L580.0 523.0L580.2 561.2L580.4 649.9L580.5 441.3L580.7 519.5L580.8 425.3L581.0 477.4L581.2 560.6L581.3 537.1L581.5 458.9L581.6 541.8L581.8 491.3L582.0 480.4L582.1 493.8L582.3 529.3L582.4 447.3L582.6 413.9L582.8 498.0L582.9 461.3L583.1 567.1L583.2 490.7L583.4 649.9L583.6 450.9L583.7 561.4L583.9 508.5L584.0 543.9L584.2 435.1L584.4 521.9L584.5 615.0L584.7 515.3L584.8 459.4L585.0 491.1L585.2 552.9L585.3 480.2L585.5 435.9L585.6 424.5L585.8 464.5L586.0 398.5L586.1 551.5L586.3 477.0L586.4 482.6L586.6 388.4L586.8 649.9L586.9 474.0L587.1 603.9L587.2 566.5L587.4 507.2L587.5 552.3L587.7 622.3L587.9 533.2L588.0 481.7L588.2 585.1L588.3 489.9L588.5 467.3L588.7 491.2L588.8 529.6L589.0 430.8L589.1 407.7L589.3 434.3L589.5 428.1L589.6 539.1L589.8 618.1L589.9 594.0L590.1 550.3L590.3 586.4L590.4 353.7L590.6 509.1L590.7 565.6L590.9 507.0L591.1 388.3L591.2 632.4L591.4 529.5L591.5 486.5L591.7 476.7L591.9 475.5L592.0 477.7L592.2 376.9L592.3 585.6L592.5 469.7L592.7 508.4L592.8 466.7L593.0 448.7L593.1 377.4L593.3 513.6L593.5 594.3L593.6 649.9L593.8 610.2L593.9 540.0L594.1 536.1L594.3 500.9L594.4 429.4L594.6 649.9L594.7 501.0L594.9 485.5L595.1 620.6L595.2 529.0L595.4 518.2L595.5 390.8L595.7 503.6L595.9 441.3L596.0 527.0L596.2 536.6L596.3 566.0L596.5 649.9L596.6 396.2L596.8 564.1L597.0 531.9L597.1 589.7L597.3 435.1L597.4 649.9L597.6 565.3L597.8 617.0L597.9 463.5L598.1 455.1L598.2 486.4L598.4 524.0L598.6 530.1L598.7 614.5L598.9 575.0L599.0 525.6L599.2 585.4L599.4 468.3L599.5 495.9L599.7 509.1L599.8 504.9L600.0 402.9L600.2 490.1L600.3 553.6L600.5 501.7L600.6 441.2L600.8 562.1L601.0 406.1L601.1 477.5L601.3 538.5L601.4 441.0L601.6 572.6L601.8 572.6L601.9 486.4L602.1 583.0L602.2 521.0L602.4 558.5L602.6 543.8L602.7 555.2L602.9 433.6L603.0 622.3L603.2 616.3L603.4 483.7L603.5 515.5L603.7 571.5L603.8 649.9L604.0 514.4L604.2 497.7L604.3 454.1L604.5 619.3L604.6 555.0L604.8 376.2L605.0 551.1L605.1 482.3L605.3 469.5L605.4 522.3L605.6 515.9L605.8 570.9L605.9 590.2L606.1 511.1L606.2 513.1L606.4 649.9L606.5 481.4L606.7 513.4L606.9 417.0L607.0 578.2L607.2 498.6L607.3 530.7L607.5 561.7L607.7 536.4L607.8 539.6L608.0 532.7L608.1 602.8L608.3 583.5L608.5 454.7L608.6 542.6L608.8 554.9L608.9 510.3L609.1 556.2L609.3 432.6L609.4 468.8L609.6 498.9L609.7 649.9L609.9 534.6L610.1 499.9L610.2 376.6L610.4 603.8L610.5 566.5L610.7 562.6L610.9 359.1L611.0 481.2L611.2 514.8L611.3 539.7L611.5 563.0L611.7 482.9L611.8 275.4L612.0 440.4L612.1 468.7L612.3 649.9L612.5 501.8L612.6 374.8L612.8 522.0L612.9 424.4L613.1 355.8L613.3 451.2L613.4 424.8L613.6 568.2L613.7 470.1L613.9 617.8L614.1 514.3L614.2 482.3L614.4 485.5L614.5 549.7L614.7 430.4L614.9 317.4L615.0 487.7L615.2 365.9L615.3 374.0L615.5 347.6L615.6 439.5L615.8 324.3L616.0 571.0L616.1 649.9L616.3 515.2L616.4 534.1L616.6 512.5L616.8 506.6L616.9 518.3L617.1 537.9L617.2 559.3L617.4 369.0L617.6 539.7L617.7 396.3L617.9 482.4L618.0 463.5L618.2 391.3L618.4 548.0L618.5 542.0L618.7 233.5L618.8 457.9L619.0 502.7L619.2 451.1L619.3 510.3L619.5 472.0L619.6 438.0L619.8 387.1L620.0 432.8L620.1 556.9L620.3 434.2L620.4 489.9L620.6 432.5L620.8 545.6L620.9 427.7L621.1 587.1L621.2 612.1L621.4 513.5L621.6 499.5L621.7 560.1L621.9 520.7L622.0 527.7L622.2 554.5L622.4 649.9L622.5 525.2L622.7 521.0L622.8 649.9L623.0 533.5L623.2 508.6L623.3 649.9L623.5 418.4L623.6 602.0L623.8 421.7L624.0 364.7L624.1 586.3L624.3 422.9L624.4 467.2L624.6 577.6L624.8 594.5L624.9 503.4L625.1 396.6L625.2 571.5L625.4 594.8L625.5 596.1L625.7 571.7L625.9 534.2L626.0 447.6L626.2 523.3L626.3 508.1L626.5 518.6L626.7 507.6L626.8 574.5L627.0 497.6L627.1 531.6L627.3 460.4L627.5 649.9L627.6 493.6L627.8 561.7L627.9 477.2L628.1 423.6L628.3 525.5L628.4 377.8L628.6 448.9L628.7 452.9L628.9 395.3L629.1 475.3L629.2 363.0L629.4 525.7L629.5 415.2L629.7 545.9L629.9 529.1L630.0 577.2L630.2 493.6L630.3 518.7L630.5 623.2L630.7 587.2L630.8 517.2L631.0 472.2L631.1 481.7L631.3 462.5L631.5 565.8L631.6 468.9L631.8 400.9L631.9 523.5L632.1 500.2L632.3 405.0L632.4 576.6L632.6 559.8L632.7 363.3L632.9 449.8L633.1 456.3L633.2 610.6L633.4 525.2L633.5 461.7L633.7 552.5L633.9 548.1L634.0 463.5L634.2 446.0L634.3 597.6L634.5 536.1L634.6 394.4L634.8 478.6L635.0 406.4L635.1 563.5L635.3 481.2L635.4 467.4L635.6 474.4L635.8 523.1L635.9 534.1L636.1 489.4L636.2 379.1L636.4 532.8L636.6 533.5L636.7 592.4L636.9 570.0L637.0 332.5L637.2 474.4L637.4 517.1L637.5 453.9L637.7 360.9L637.8 447.7L638.0 585.6L638.2 449.6L638.3 562.7L638.5 486.6L638.6 568.6L638.8 423.7L639.0 489.4L639.1 565.2L639.3 605.6L639.4 482.8L639.6 592.9L639.8 536.3L639.9 483.3L640.1 558.2L640.2 568.0L640.4 531.1L640.6 519.8L640.7 381.7L640.9 467.7L641.0 567.7L641.2 481.9L641.4 504.2L641.5 564.6L641.7 528.5L641.8 533.6L642.0 399.1L642.2 441.5L642.3 510.9L642.5 541.6L642.6 446.6L642.8 488.9L643.0 586.0L643.1 407.3L643.3 505.3L643.4 500.9L643.6 504.7L643.8 540.5L643.9 498.1L644.1 396.9L644.2 516.7L644.4 557.7L644.5 517.0L644.7 495.4L644.9 649.9L645.0 537.1L645.2 496.6L645.3 405.4L645.5 503.4L645.7 574.2L645.8 574.6L646.0 553.9L646.1 532.2L646.3 425.2L646.5 558.0L646.6 524.0L646.8 649.9L646.9 536.5L647.1 551.5L647.3 504.3L647.4 404.5L647.6 508.3L647.7 463.5L647.9 503.2L648.1 548.2L648.2 502.8L648.4 509.9L648.5 365.0L648.7 441.4L648.9 505.6L649.0 618.9L649.2 494.9L649.3 479.5L649.5 495.8L649.7 440.9L649.8 529.8L650.0 212.5L650.1 488.3L650.3 570.5L650.5 579.3L650.6 287.3L650.8 530.9L650.9 523.9L651.1 525.5L651.3 405.1L651.4 465.3L651.6 571.6L651.7 405.3L651.9 475.4L652.1 557.6L652.2 568.8L652.4 480.0L652.5 483.7L652.7 541.3L652.9 578.1L653.0 529.8L653.2 589.3L653.3 487.6L653.5 593.2L653.6 588.3L653.8 470.8L654.0 391.4L654.1 541.5L654.3 499.0L654.4 469.8L654.6 351.2L654.8 384.4L654.9 408.8L655.1 457.5L655.2 346.8L655.4 414.5L655.6 458.1L655.7 432.4L655.9 356.4L656.0 478.0L656.2 552.9L656.4 423.1L656.5 577.1L656.7 533.0L656.8 545.3L657.0 415.2L657.2 434.2L657.3 471.0L657.5 556.7L657.6 649.9L657.8 416.0L658.0 508.0L658.1 503.4L658.3 649.9L658.4 315.8L658.6 356.9L658.8 615.2L658.9 622.1L659.1 488.3L659.2 334.8L659.4 584.8L659.6 632.4L659.7 570.7L659.9 416.0L660.0 527.5L660.2 510.2L660.4 450.0L660.5 502.6L660.7 623.6L660.8 422.9L661.0 449.8L661.2 384.0L661.3 539.5L661.5 565.7L661.6 415.4L661.8 622.9L662.0 485.2L662.1 397.5L662.3 508.5L662.4 580.9L662.6 483.9L662.8 566.0L662.9 498.1L663.1 485.8L663.2 586.4L663.4 465.1L663.5 507.9L663.7 417.3L663.9 515.9L664.0 511.4L664.2 402.6L664.3 512.8L664.5 526.3L664.7 577.0L664.8 573.2L665.0 482.8L665.1 482.2L665.3 365.1L665.5 473.7L665.6 364.5L665.8 587.1L665.9 632.4L666.1 404.3L666.3 535.2L666.4 577.6L666.6 649.9L666.7 517.1L666.9 519.4L667.1 512.0L667.2 532.8L667.4 503.7L667.5 378.6L667.7 463.4L667.9 373.6L668.0 464.5L668.2 434.8L668.3 460.0L668.5 445.8L668.7 473.0L668.8 361.7L669.0 367.2L669.1 394.8L669.3 561.3L669.5 514.1L669.6 567.0L669.8 567.8L669.9 556.4L670.1 489.3L670.3 584.4L670.4 458.8L670.6 515.3L670.7 615.7L670.9 474.5L671.1 437.3L671.2 555.3L671.4 536.5L671.5 362.0L671.7 488.2L671.9 504.2L672.0 527.3L672.2 486.8L672.3 565.5L672.5 547.1L672.6 508.9L672.8 518.6L673.0 420.5L673.1 524.9L673.3 589.7L673.4 504.8L673.6 547.4L673.8 440.8L673.9 649.9L674.1 476.1L674.2 549.3L674.4 362.7L674.6 605.4L674.7 391.7L674.9 513.1L675.0 477.5L675.2 617.3L675.4 481.9L675.5 572.0L675.7 498.0L675.8 505.3L676.0 587.0L676.2 512.5L676.3 349.9L676.5 540.1L676.6 480.0L676.8 290.7L677.0 488.5L677.1 435.4L677.3 495.6L677.4 496.4L677.6 470.5L677.8 398.3L677.9 546.6L678.1 525.3L678.2 404.0L678.4 476.2L678.6 579.6L678.7 438.8L678.9 596.7L679.0 538.6L679.2 551.6L679.4 429.5L679.5 426.4L679.7 615.6L679.8 444.8L680.0 606.5L680.2 597.3L680.3 584.2L680.5 547.9L680.6 514.6L680.8 619.2L681.0 329.9L681.1 545.7L681.3 542.0L681.4 454.5L681.6 441.1L681.7 460.7L681.9 519.7L682.1 522.8L682.2 574.1L682.4 630.9L682.5 614.6L682.7 497.6L682.9 575.9L683.0 591.2L683.2 649.9L683.3 532.6L683.5 499.2L683.7 588.6L683.8 456.3L684.0 520.8L684.1 562.5L684.3 389.7L684.5 587.9L684.6 509.7L684.8 445.9L684.9 534.4L685.1 526.1L685.3 508.5L685.4 505.1L685.6 463.8L685.7 573.5L685.9 491.2L686.1 476.2L686.2 453.3L686.4 494.1L686.5 437.9L686.7 446.6L686.9 527.2L687.0 452.5L687.2 649.9L687.3 301.3L687.5 411.8L687.7 563.3L687.8 561.4L688.0 593.0L688.1 356.8L688.3 493.7L688.5 649.9L688.6 556.9L688.8 421.5L688.9 471.0L689.1 649.9L689.3 547.5L689.4 561.2L689.6 452.1L689.7 490.2L689.9 531.8L690.1 589.9L690.2 508.3L690.4 481.2L690.5 469.5L690.7 451.0L690.9 471.5L691.0 514.1L691.2 494.0L691.3 434.8L691.5 492.6L691.6 491.9L691.8 291.5L692.0 389.7L692.1 233.5L692.3 500.8L692.4 499.8L692.6 420.3L692.8 370.6L692.9 649.9L693.1 431.7L693.2 520.4L693.4 367.1L693.6 362.7L693.7 467.1L693.9 412.4L694.0 394.7L694.2 358.1L694.4 471.6L694.5 476.8L694.7 478.3L694.8 354.2L695.0 480.2L695.2 554.7L695.3 485.6L695.5 508.7L695.6 492.4L695.8 445.5L696.0 419.9L696.1 419.2L696.3 649.9L696.4 649.9L696.6 509.2L696.8 521.4L696.9 588.8L697.1 649.9L697.2 401.5L697.4 594.0L697.6 360.3L697.7 505.0L697.9 502.4L698.0 323.2L698.2 405.4L698.4 409.0L698.5 324.7L698.7 523.1L698.8 373.9L699.0 563.3L699.2 496.8L699.3 421.9L699.5 535.9L699.6 353.4L699.8 517.4L700.0 537.3L700.1 323.5L700.3 530.9L700.4 433.0L700.6 590.7L700.7 527.1L700.9 372.4L701.1 649.9L701.2 618.3L701.4 471.4L701.5 541.1L701.7 467.2L701.9 486.7L702.0 447.6L702.2 601.7L702.3 570.3L702.5 601.1L702.7 649.9L702.8 465.6L703.0 573.2L703.1 479.1L703.3 530.0L703.5 532.1L703.6 450.1L703.8 438.3L703.9 533.6L704.1 481.0L704.3 533.9L704.4 430.7L704.6 488.2L704.7 389.9L704.9 530.7L705.1 485.7L705.2 434.5L705.4 649.9L705.5 480.5L705.7 477.5L705.9 552.4L706.0 512.3L706.2 474.1L706.3 569.7L706.5 522.6L706.7 536.1L706.8 489.9L707.0 444.1L707.1 504.3L707.3 514.6L707.5 372.3L707.6 388.7L707.8 463.1L707.9 418.1L708.1 585.3L708.3 379.0L708.4 482.6L708.6 496.5L708.7 328.9L708.9 404.4L709.1 620.5L709.2 532.6L709.4 501.6L709.5 416.2L709.7 263.5L709.9 419.1L710.0 432.9L710.2 504.8L710.3 649.9L710.5 649.9L710.6 511.4L710.8 577.4L711.0 415.5L711.1 605.9L711.3 212.5L711.4 335.0L711.6 415.3L711.8 560.2L711.9 508.2L712.1 508.1L712.2 424.3L712.4 316.1L712.6 530.4L712.7 522.1L712.9 432.0L713.0 383.7L713.2 567.6L713.4 496.4L713.5 444.6L713.7 595.6L713.8 541.7L714.0 649.9L714.2 464.2L714.3 488.8L714.5 572.1L714.6 535.7L714.8 581.9L715.0 391.8L715.1 368.8L715.3 649.9L715.4 340.3L715.6 454.5L715.8 470.6L715.9 503.7L716.1 461.9L716.2 616.8L716.4 549.7L716.6 485.5L716.7 570.3L716.9 347.7L717.0 379.3L717.2 558.4L717.4 543.9L717.5 585.9L717.7 490.5L717.8 649.9L718.0 649.9L718.2 566.2L718.3 324.8L718.5 459.8L718.6 445.7L718.8 543.2L719.0 452.2L719.1 438.9L719.3 508.4L719.4 374.4L719.6 402.7L719.7 450.2L719.9 649.9L720.1 649.9L720.2 553.1L720.4 327.4L720.5 199.3L720.7 389.4L720.9 63.8L721.0 352.0L721.2 364.5L721.3 438.7L721.5 596.1L721.7 432.9L721.8 421.2L722.0 596.7L722.1 452.3L722.3 612.6L722.5 462.5L722.6 459.0L722.8 649.9L722.9 336.0L723.1 390.4L723.3 435.4L723.4 544.5L723.6 357.8L723.7 312.6L723.9 436.5L724.1 422.9L724.2 481.3L724.4 342.1L724.5 427.9L724.7 561.3L724.9 605.9L725.0 378.2L725.2 531.0L725.3 339.1L725.5 427.4L725.7 489.7L725.8 505.3L726.0 590.4L726.1 513.0L726.3 506.2L726.5 491.8L726.6 531.3L726.8 365.0L726.9 459.3L727.1 548.9L727.3 568.7L727.4 510.9L727.6 505.1L727.7 591.7L727.9 559.1L728.1 368.1L728.2 494.0L728.4 552.1L728.5 596.8L728.7 579.3L728.9 649.9L729.0 416.8L729.2 457.5L729.3 513.2L729.5 471.2L729.6 360.5L729.8 572.5L730.0 356.5L730.1 559.1L730.3 448.7L730.4 544.6L730.6 454.8L730.8 286.9L730.9 593.2L731.1 580.6L731.2 649.9L731.4 572.2L731.6 589.4L731.7 465.0L731.9 431.7L732.0 63.8L732.2 477.7L732.4 420.6L732.5 428.8L732.7 568.0L732.8 565.5L733.0 475.6L733.2 459.7L733.3 593.9L733.5 397.0L733.6 546.3L733.8 399.2L734.0 542.8L734.1 563.5L734.3 515.7L734.4 487.9L734.6 462.5L734.8 649.9L734.9 264.2L735.1 436.4L735.2 484.2L735.4 287.1L735.6 376.6L735.7 445.6L735.9 338.5L736.0 551.3L736.2 371.9L736.4 411.1L736.5 649.9L736.7 339.8L736.8 262.0L737.0 528.3L737.2 575.8L737.3 454.9L737.5 610.6L737.6 373.2L737.8 458.6L738.0 508.5L738.1 580.8L738.3 406.5L738.4 649.9L738.6 304.3L738.7 555.1L738.9 231.8L739.1 497.6L739.2 475.4L739.4 326.3L739.5 569.4L739.7 508.6L739.9 579.6L740.0 335.9L740.2 427.6L740.3 401.8L740.5 529.5L740.7 543.5L740.8 515.9L741.0 488.7L741.1 512.3L741.3 580.0L741.5 543.2L741.6 455.1L741.8 483.5L741.9 499.8L742.1 607.9L742.3 449.6L742.4 439.4L742.6 498.0L742.7 565.3L742.9 212.5L743.1 596.9L743.2 539.5L743.4 599.0L743.5 536.1L743.7 576.0L743.9 523.4L744.0 430.2L744.2 367.2L744.3 168.8L744.5 440.9L744.7 448.5L744.8 649.9L745.0 529.2L745.1 502.3L745.3 481.8L745.5 445.7L745.6 546.5L745.8 272.3L745.9 442.9L746.1 328.0L746.3 649.9L746.4 418.9L746.6 436.8L746.7 548.8L746.9 380.4L747.1 649.9L747.2 392.5L747.4 356.4L747.5 570.0L747.7 541.8L747.9 649.9L748.0 383.8L748.2 586.5L748.3 516.7L748.5 435.8L748.6 452.5L748.8 492.6L749.0 519.8L749.1 320.3L749.3 369.5L749.4 471.3L749.6 446.8L749.8 529.1L749.9 212.5L750.1 549.5L750.2 514.9L750.4 477.0L750.6 516.4L750.7 425.3L750.9 452.4L751.0 549.3L751.2 496.3L751.4 532.0L751.5 367.3L751.7 487.7L751.8 576.7L752.0 530.5L752.2 568.5L752.3 549.5L752.5 555.5L752.6 441.5L752.8 538.1L753.0 542.3L753.1 390.5L753.3 546.9L753.4 291.8L753.6 533.2L753.8 441.9L753.9 480.0L754.1 454.4L754.2 527.4L754.4 494.4L754.6 518.8L754.7 512.6L754.9 494.4L755.0 518.0L755.2 371.3L755.4 569.2L755.5 604.8L755.7 380.3L755.8 202.5L756.0 454.4L756.2 501.6L756.3 404.9L756.5 463.2L756.6 545.0L756.8 472.0L757.0 515.5L757.1 351.5L757.3 429.0L757.4 366.5L757.6 292.8L757.7 649.9L757.9 345.1L758.1 386.4L758.2 477.9L758.4 195.0L758.5 363.3L758.7 377.8L758.9 330.3L759.0 512.7L759.2 410.8L759.3 570.7L759.5 342.6L759.7 562.3L759.8 429.5L760.0 649.9L760.1 517.1L760.3 649.9L760.5 514.6L760.6 479.2L760.8 574.1L760.9 508.7L761.1 272.3L761.3 496.1L761.4 607.2L761.6 462.9L761.7 620.9L761.9 525.4L762.1 428.8L762.2 510.1L762.4 506.1L762.5 453.3L762.7 466.0L762.9 509.4L763.0 630.5L763.2 649.9L763.3 599.6L763.5 553.0L763.7 514.7L763.8 472.8L764.0 506.7L764.1 534.8L764.3 521.1L764.5 458.7L764.6 554.1L764.8 583.2L764.9 649.9L765.1 481.1L765.3 616.8L765.4 380.0L765.6 518.7L765.7 459.9L765.9 446.8L766.1 506.6L766.2 469.1L766.4 219.9L766.5 387.3L766.7 526.9L766.9 369.1L767.0 586.1L767.2 537.1L767.3 649.9L767.5 508.7L767.6 367.8L767.8 480.1L768.0 649.9L768.1 394.7L768.3 649.9L768.4 649.9L768.6 554.0L768.8 566.7L768.9 577.5L769.1 574.9L769.2 488.2L769.4 469.1L769.6 506.1L769.7 504.8L769.9 488.1L770.0 572.4L770.2 558.4L770.4 559.7L770.5 285.4L770.7 587.1L770.8 429.5L771.0 452.4L771.2 403.6L771.3 434.9L771.5 432.7L771.6 372.8L771.8 583.3L772.0 538.6L772.1 592.4L772.3 649.9L772.4 402.4L772.6 649.9L772.8 378.1L772.9 523.8L773.1 423.1L773.2 477.6L773.4 491.2L773.6 549.7L773.7 516.3L773.9 546.4L774.0 466.4L774.2 522.0L774.4 371.2L774.5 594.1L774.7 513.5L774.8 649.9L775.0 573.4L775.2 454.0L775.3 649.9L775.5 449.3L775.6 478.3L775.8 588.9L776.0 372.8L776.1 383.5L776.3 649.9L776.4 609.8L776.6 438.4L776.7 496.0L776.9 477.9L777.1 649.9L777.2 607.3L777.4 537.3L777.5 519.6L777.7 532.2L777.9 548.0L778.0 569.2L778.2 503.4L778.3 583.1L778.5 649.9L778.7 549.6L778.8 649.9L779.0 434.9L779.1 460.1L779.3 557.9L779.5 431.7L779.6 475.7L779.8 649.9L779.9 568.0L780.1 509.0L780.3 522.8L780.4 517.5L780.6 471.6L780.7 616.5L780.9 587.9L781.1 520.0L781.2 601.7L781.4 459.6L781.5 519.4L781.7 520.3L781.9 570.3L782.0 528.5L782.2 442.4L782.3 607.1L782.5 548.1L782.7 558.1L782.8 553.4L783.0 615.3L783.1 613.5L783.3 547.7L783.5 589.1L783.6 363.4L783.8 479.1L783.9 561.2L784.1 595.8L784.3 558.9L784.4 563.2L784.6 403.1L784.7 558.6L784.9 609.7L785.1 570.6L785.2 472.6L785.4 552.8L785.5 621.7L785.7 515.7L785.9 482.0L786.0 502.4L786.2 545.7L786.3 576.2L786.5 504.2L786.6 522.4L786.8 489.4L787.0 470.1L787.1 537.1L787.3 589.3L787.4 481.7L787.6 395.4L787.8 474.1L787.9 571.0L788.1 537.8L788.2 467.5L788.4 472.2L788.6 334.1L788.7 386.3L788.9 536.6L789.0 597.9L789.2 518.9L789.4 488.8L789.5 510.2L789.7 498.6L789.8 361.7L790.0 615.4L790.2 569.2L790.3 526.6L790.5 614.2L790.6 343.3L790.8 506.9L791.0 463.2L791.1 483.7L791.3 539.5L791.4 556.1L791.6 383.6L791.8 520.1L791.9 649.9L792.1 579.4L792.2 455.6L792.4 368.8L792.6 516.2L792.7 576.8L792.9 515.3L793.0 511.6L793.2 553.2L793.4 470.6L793.5 466.1L793.7 466.4L793.8 466.2L794.0 343.9L794.2 462.8L794.3 540.4L794.5 521.3L794.6 529.5L794.8 493.3L795.0 446.2L795.1 543.6L795.3 561.3L795.4 478.0L795.6 488.7L795.7 601.6L795.9 456.4L796.1 526.0L796.2 523.4L796.4 539.5L796.5 452.5L796.7 426.9L796.9 499.7L797.0 514.1L797.2 391.3L797.3 474.3L797.5 547.6L797.7 399.1L797.8 582.3L798.0 427.6L798.1 579.5L798.3 452.5L798.5 571.4L798.6 527.7L798.8 475.9L798.9 546.1L799.1 512.1L799.3 429.0L799.4 649.9L799.6 541.9L799.7 513.8L799.9 629.0L800.1 577.3L800.2 549.4L800.4 557.6L800.5 508.9L800.7 473.3L800.9 441.3L801.0 567.9L801.2 483.5L801.3 580.5L801.5 619.2L801.7 649.9L801.8 509.7L802.0 474.6L802.1 560.3L802.3 455.5L802.5 462.9L802.6 510.3L802.8 422.7L802.9 415.8L803.1 614.2L803.3 528.6L803.4 298.7L803.6 483.3L803.7 408.7L803.9 560.7L804.1 505.0L804.2 524.9L804.4 559.4L804.5 485.0L804.7 614.1L804.8 577.4L805.0 505.4L805.2 539.4L805.3 527.5L805.5 469.8L805.6 453.7L805.8 513.4L806.0 540.0L806.1 555.6L806.3 611.8L806.4 404.9L806.6 421.5L806.8 549.6L806.9 574.2L807.1 509.6L807.2 492.4L807.4 523.7L807.6 593.4L807.7 488.5L807.9 502.2L808.0 368.6L808.2 588.4L808.4 438.0L808.5 482.9L808.7 421.8L808.8 626.3L809.0 414.4L809.2 534.4L809.3 489.8L809.5 578.6L809.6 649.9L809.8 552.3L810.0 541.3L810.1 511.6L810.3 538.6L810.4 375.9L810.6 546.3L810.8 425.6L810.9 542.1L811.1 447.9L811.2 567.6L811.4 512.6L811.6 414.9L811.7 603.3L811.9 464.4L812.0 522.7L812.2 545.8L812.4 507.1L812.5 425.2L812.7 451.5L812.8 493.9L813.0 505.2L813.2 509.7L813.3 525.3L813.5 530.6L813.6 417.5L813.8 452.7L814.0 450.0L814.1 597.7L814.3 543.4L814.4 608.4L814.6 556.5L814.7 553.3L814.9 509.6L815.1 545.8L815.2 649.9L815.4 570.6L815.5 481.0L815.7 452.0L815.9 603.9L816.0 477.0L816.2 509.7L816.3 521.9L816.5 507.5L816.7 587.2L816.8 570.3L817.0 482.7L817.1 501.5L817.3 620.2L817.5 476.6L817.6 524.7L817.8 554.3L817.9 592.8L818.1 458.6L818.3 527.6L818.4 615.6L818.6 493.8L818.7 593.5L818.9 515.5L819.1 517.2L819.2 505.3L819.4 533.9L819.5 444.1L819.7 527.2L819.9 446.7L820.0 606.2L820.2 546.0L820.3 435.4L820.5 575.9L820.7 567.3L820.8 494.6L821.0 418.7L821.1 420.4L821.3 330.1L821.5 489.7L821.6 502.9L821.8 373.1L821.9 572.6L822.1 496.5L822.3 516.8L822.4 508.2L822.6 546.3L822.7 398.7L822.9 424.0L823.1 576.7L823.2 499.9L823.4 522.7L823.5 497.2L823.7 405.4L823.8 549.1L824.0 520.4L824.2 649.9L824.3 473.8L824.5 437.6L824.6 280.1L824.8 649.9L825.0 414.4L825.1 407.4L825.3 490.8L825.4 552.2L825.6 544.5L825.8 473.9L825.9 479.4L826.1 649.9L826.2 477.0L826.4 475.0L826.6 528.9L826.7 490.7L826.9 520.2L827.0 533.0L827.2 492.2L827.4 463.4L827.5 484.7L827.7 554.3L827.8 518.0L828.0 527.5L828.2 546.2L828.3 481.6L828.5 480.4L828.6 543.1L828.8 523.2L829.0 625.1L829.1 482.8L829.3 536.5L829.4 289.7L829.6 557.7L829.8 597.9L829.9 455.4L830.1 520.5L830.2 531.8L830.4 482.8L830.6 520.1L830.7 559.6L830.9 588.7L831.0 504.2L831.2 505.0L831.4 572.7L831.5 423.9L831.7 496.7L831.8 455.2L832.0 526.9L832.2 581.7L832.3 503.0L832.5 538.1L832.6 554.7L832.8 573.0L833.0 557.6L833.1 466.1L833.3 503.6L833.4 549.9L833.6 527.5L833.7 524.7L833.9 496.0L834.1 577.7L834.2 537.6L834.4 522.4L834.5 547.5L834.7 519.3L834.9 600.1L835.0 441.8L835.2 649.9L835.3 567.5L835.5 520.6L835.7 523.6L835.8 599.5L836.0 615.8L836.1 470.9L836.3 519.0L836.5 374.5L836.6 371.2L836.8 493.3L836.9 446.1L837.1 497.4L837.3 528.4L837.4 354.4L837.6 456.6L837.7 431.6L837.9 461.1L838.1 429.0L838.2 499.3L838.4 495.2L838.5 539.7L838.7 539.5L838.9 515.7L839.0 572.9L839.2 364.3L839.3 581.8L839.5 447.6L839.7 533.7L839.8 542.0L840.0 559.3L840.1 511.9L840.3 473.4L840.5 566.2L840.6 613.4L840.8 537.4L840.9 517.9L841.1 405.3L841.3 509.3L841.4 465.2L841.6 517.9L841.7 429.3L841.9 607.8L842.1 494.4L842.2 457.2L842.4 569.0L842.5 599.9L842.7 475.7L842.8 560.6L843.0 478.4L843.2 429.7L843.3 492.7L843.5 568.2L843.6 529.8L843.8 526.6L844.0 518.1L844.1 430.3L844.3 503.8L844.4 575.6L844.6 451.3L844.8 584.4L844.9 489.1L845.1 547.2L845.2 548.2L845.4 418.7L845.6 595.5L845.7 605.7L845.9 555.0L846.0 543.8L846.2 587.8L846.4 469.4L846.5 649.9L846.7 649.9L846.8 580.1L847.0 525.6L847.2 532.5L847.3 366.4L847.5 606.9L847.6 373.8L847.8 618.5L848.0 391.4L848.1 520.0L848.3 450.1L848.4 473.4L848.6 536.6L848.8 440.2L848.9 472.1L849.1 532.2L849.2 507.5L849.4 565.6L849.6 459.0L849.7 538.3L849.9 612.5L850.0 208.7L850.2 509.5L850.4 567.1L850.5 620.8L850.7 547.1L850.8 534.8L851.0 538.6L851.2 603.7L851.3 446.4L851.5 553.7L851.6 522.2L851.8 484.4L852.0 562.9L852.1 527.8L852.3 531.8L852.4 518.2L852.6 575.1L852.7 493.8L852.9 508.4L853.1 483.3L853.2 616.8L853.4 438.6L853.5 355.1L853.7 559.0L853.9 551.5L854.0 406.2L854.2 484.1L854.3 564.6L854.5 410.4L854.7 572.6L854.8 417.0L855.0 536.7L855.1 565.7L855.3 556.1L855.5 457.1L855.6 562.6L855.8 405.5L855.9 486.8L856.1 306.3L856.3 471.4L856.4 618.1L856.6 434.4L856.7 586.7L856.9 462.0L857.1 571.3L857.2 464.8L857.4 515.9L857.5 545.2L857.7 555.8L857.9 400.8L858.0 560.7L858.2 435.8L858.3 451.0L858.5 492.7L858.7 585.3L858.8 487.3L859.0 582.1L859.1 400.9L859.3 425.0L859.5 473.0L859.6 622.3L859.8 469.8L859.9 549.8L860.1 490.0L860.3 473.6L860.4 532.1L860.6 463.5L860.7 431.4L860.9 526.8L861.1 619.9L861.2 488.8L861.4 540.5L861.5 619.0L861.7 553.7L861.8 550.9L862.0 515.8L862.2 571.8L862.3 596.1L862.5 549.8L862.6 549.4L862.8 475.9L863.0 531.8L863.1 485.0L863.3 606.5L863.4 514.2L863.6 518.2L863.8 474.8L863.9 496.8L864.1 484.6L864.2 429.1L864.4 521.9L864.6 436.4L864.7 453.8L864.9 513.9L865.0 490.1L865.2 453.2L865.4 496.8L865.5 507.1L865.7 591.9L865.8 544.2L866.0 475.2L866.2 552.4L866.3 510.9L866.5 529.2L866.6 527.6L866.8 453.3L867.0 431.0L867.1 429.3L867.3 529.1L867.4 505.5L867.6 520.8L867.8 462.1L867.9 510.7L868.1 523.2L868.2 555.5L868.4 458.1L868.6 520.2L868.7 395.4L868.9 467.8L869.0 495.3L869.2 486.2L869.4 550.2L869.5 612.8L869.7 590.7L869.8 619.0L870.0 649.9L870.2 506.0L870.3 567.3L870.5 542.7L870.6 518.7L870.8 523.7L871.0 523.4L871.1 486.7L871.3 480.9L871.4 533.7L871.6 575.4L871.7 549.4L871.9 527.5L872.1 562.3L872.2 557.1L872.4 527.0L872.5 545.0L872.7 530.4L872.9 580.2L873.0 433.7L873.2 500.1L873.3 649.9L873.5 566.3L873.7 488.5L873.8 511.9L874.0 592.6L874.1 570.4L874.3 589.7L874.5 448.0L874.6 595.3L874.8 607.1L874.9 604.0L875.1 573.0L875.3 510.1L875.4 415.8L875.6 471.3L875.7 544.3L875.9 447.7L876.1 582.0L876.2 602.0L876.4 532.8L876.5 545.2L876.7 583.5L876.9 590.3L877.0 584.6L877.2 434.7L877.3 572.3L877.5 547.8L877.7 430.1L877.8 624.2L878.0 514.8L878.1 576.2L878.3 581.1L878.5 540.0L878.6 451.2L878.8 535.7L878.9 482.6L879.1 626.2L879.3 590.1L879.4 585.5L879.6 475.2L879.7 602.2L879.9 496.8L880.1 571.8L880.2 500.2L880.4 379.7L880.5 358.8L880.7 478.6L880.8 520.2L881.0 508.9L881.2 649.9L881.3 445.7L881.5 649.9L881.6 522.4L881.8 544.7L882.0 506.4L882.1 529.4L882.3 455.9L882.4 567.4L882.6 583.2L882.8 528.5L882.9 543.8L883.1 504.6L883.2 592.0L883.4 493.9L883.6 514.2L883.7 566.3L883.9 569.2L884.0 589.6L884.2 649.9L884.4 466.0L884.5 605.2L884.7 452.4L884.8 351.8L885.0 355.2L885.2 578.0L885.3 560.7L885.5 573.0L885.6 584.6L885.8 571.7L886.0 467.8L886.1 626.3L886.3 446.7L886.4 613.3L886.6 493.3L886.8 525.9L886.9 618.9L887.1 427.5L887.2 502.4L887.4 618.8L887.6 549.9L887.7 490.6L887.9 539.3L888.0 442.2L888.2 507.1L888.4 500.9L888.5 277.9L888.7 590.1L888.8 553.2L889.0 453.1L889.2 476.0L889.3 581.3L889.5 452.5L889.6 594.8L889.8 594.7L890.0 520.6L890.1 448.6L890.3 421.8L890.4 349.7L890.6 418.9L890.7 446.1L890.9 507.2L891.1 649.9L891.2 564.2L891.4 499.3L891.5 473.5L891.7 649.9L891.9 443.9L892.0 511.1L892.2 468.6L892.3 499.0L892.5 481.1L892.7 446.5L892.8 585.4L893.0 649.9L893.1 478.4L893.3 481.8L893.5 454.0L893.6 484.2L893.8 346.3L893.9 649.9L894.1 418.5L894.3 459.2L894.4 237.9L894.6 649.9L894.7 649.9L894.9 566.9L895.1 389.1L895.2 446.8L895.4 303.7L895.5 433.8L895.7 406.5L895.9 561.0L896.0 568.5L896.2 423.6L896.3 560.7L896.5 322.1L896.7 344.3L896.8 502.7L897.0 588.9L897.1 535.0L897.3 502.1L897.5 649.9L897.6 649.9L897.8 626.5L897.9 430.1L898.1 478.6L898.3 604.1L898.4 419.3L898.6 516.2L898.7 420.1L898.9 609.3L899.1 521.6L899.2 484.0L899.4 471.9L899.5 502.4L899.7 423.6L899.8 360.3L900.0 521.1L900.2 479.1L900.3 461.3L900.5 491.5L900.6 444.2L900.8 649.9L901.0 444.1L901.1 397.8L901.3 401.4L901.4 535.0L901.6 310.4L901.8 623.8L901.9 417.6L902.1 449.9L902.2 392.1L902.4 293.8L902.6 649.9L902.7 601.0L902.9 288.7L903.0 302.7L903.2 533.8L903.4 353.5L903.5 546.7L903.7 531.4L903.8 556.3L904.0 412.9L904.2 461.7L904.3 330.8L904.5 449.2L904.6 334.6L904.8 649.9L905.0 391.6L905.1 515.6L905.3 453.7L905.4 350.0L905.6 649.9L905.8 397.9L905.9 456.7L906.1 531.8L906.2 389.6L906.4 338.5L906.6 463.2L906.7 554.4L906.9 385.5L907.0 527.7L907.2 422.3L907.4 505.1L907.5 442.7L907.7 329.1L907.8 548.7L908.0 476.6L908.2 491.6L908.3 649.9L908.5 348.0L908.6 481.7L908.8 427.1L909.0 459.7L909.1 477.0L909.3 502.2L909.4 553.2L909.6 329.2L909.7 212.5L909.9 380.5L910.1 470.4L910.2 593.3L910.4 432.6L910.5 425.9L910.7 572.3L910.9 302.0L911.0 496.2L911.2 318.0L911.3 593.8L911.5 446.2L911.7 534.5L911.8 434.4L912.0 458.4L912.1 428.7L912.3 446.0L912.5 368.4L912.6 470.2L912.8 447.6L912.9 414.0L913.1 496.6L913.3 585.1L913.4 464.3L913.6 505.0L913.7 564.4L913.9 427.1L914.1 433.7L914.2 537.7L914.4 470.6L914.5 387.8L914.7 548.9L914.9 434.0L915.0 550.3L915.2 477.0L915.3 382.3L915.5 596.7L915.7 433.0L915.8 469.8L916.0 544.6L916.1 459.6L916.3 514.7L916.5 573.9L916.6 474.2L916.8 430.4L916.9 455.2L917.1 448.1L917.3 478.8L917.4 180.4L917.6 475.3L917.7 528.2L917.9 338.2L918.1 559.2L918.2 649.9L918.4 578.9L918.5 541.5L918.7 401.4L918.8 585.2L919.0 389.2L919.2 323.1L919.3 491.4L919.5 422.3L919.6 315.5L919.8 649.9L920.0 458.5L920.1 502.9L920.3 512.1L920.4 536.7L920.6 399.1L920.8 409.6L920.9 649.9L921.1 385.8L921.2 514.0L921.4 563.4L921.6 433.9L921.7 340.7L921.9 553.3L922.0 547.7L922.2 524.6L922.4 268.2L922.5 468.0L922.7 489.3L922.8 493.7L923.0 378.6L923.2 406.6L923.3 437.6L923.5 345.0L923.6 600.7L923.8 195.0L924.0 459.5L924.1 476.7L924.3 552.0L924.4 513.9L924.6 552.4L924.8 563.2L924.9 432.5L925.1 400.0L925.2 501.5L925.4 498.1L925.6 530.1L925.7 465.4L925.9 610.0L926.0 362.9L926.2 456.7L926.4 593.1L926.5 361.3L926.7 557.0L926.8 448.0L927.0 490.9L927.2 507.4L927.3 549.3L927.5 545.5L927.6 491.4L927.8 569.3L927.9 498.9L928.1 433.2L928.3 649.9L928.4 590.2L928.6 241.8L928.7 372.2L928.9 598.0L929.1 542.7L929.2 292.4L929.4 481.5L929.5 649.9L929.7 380.8L929.9 414.3L930.0 316.8L930.2 613.6L930.3 442.5L930.5 545.8L930.7 649.9L930.8 436.3L931.0 388.7L931.1 496.1L931.3 649.9L931.5 307.3L931.6 346.1L931.8 441.7L931.9 546.1L932.1 428.7L932.3 583.6L932.4 532.3L932.6 649.9L932.7 457.4L932.9 464.8L933.1 649.9L933.2 597.6L933.4 439.7L933.5 649.9L933.7 485.3L933.9 205.3L934.0 547.6L934.2 649.9L934.3 399.5L934.5 393.8L934.7 498.2L934.8 399.1L935.0 406.6L935.1 357.7L935.3 505.5L935.5 521.5L935.6 576.6L935.8 435.8L935.9 539.7L936.1 428.8L936.3 464.7L936.4 525.5L936.6 507.2L936.7 413.0L936.9 474.8L937.1 524.2L937.2 479.5L937.4 437.6L937.5 583.2L937.7 595.5L937.8 492.2L938.0 548.5L938.2 345.4L938.3 455.6L938.5 649.9L938.6 441.8L938.8 649.9L939.0 438.1L939.1 571.9L939.3 488.9L939.4 531.1L939.6 552.1L939.8 553.4L939.9 483.3L940.1 565.2L940.2 356.1L940.4 524.8L940.6 386.8L940.7 537.7L940.9 458.0L941.0 567.8L941.2 483.9L941.4 455.5L941.5 419.3L941.7 486.4L941.8 491.0L942.0 419.2L942.2 453.1L942.3 380.4L942.5 322.8L942.6 444.8L942.8 649.9L943.0 616.0L943.1 570.1L943.3 483.1L943.4 539.9L943.6 549.1L943.8 403.4L943.9 404.8L944.1 389.7L944.2 608.1L944.4 411.0L944.6 492.4L944.7 576.7L944.9 592.6L945.0 509.6L945.2 649.9L945.4 477.0L945.5 530.6L945.7 365.4L945.8 212.2L946.0 563.3L946.2 381.0L946.3 649.9L946.5 649.9L946.6 598.6L946.8 512.1L946.9 497.8L947.1 587.2L947.3 212.5L947.4 423.3L947.6 400.0L947.7 372.7L947.9 340.4L948.1 649.9L948.2 413.4L948.4 403.4L948.5 359.7L948.7 597.4L948.9 444.7L949.0 111.0L949.2 319.7L949.3 608.0L949.5 475.1L949.7 590.8L949.8 546.5L950.0 394.1L950.1 553.9L950.3 319.4L950.5 267.4L950.6 420.1L950.8 649.9L950.9 474.2L951.1 386.7L951.3 649.9L951.4 438.5L951.6 572.6L951.7 567.4L951.9 423.5L952.1 412.3L952.2 450.4L952.4 432.5L952.5 371.2L952.7 649.9L952.9 453.9L953.0 507.7L953.2 494.0L953.3 192.1L953.5 489.4L953.7 500.4L953.8 378.8L954.0 435.5L954.1 459.2L954.3 461.3L954.5 535.2L954.6 386.5L954.8 524.6L954.9 573.3L955.1 382.9L955.3 649.9L955.4 412.8L955.6 529.8L955.7 563.2L955.9 438.3L956.1 513.1L956.2 442.1L956.4 458.8L956.5 442.0L956.7 446.3L956.8 356.5L957.0 649.9L957.2 248.9L957.3 328.4L957.5 466.7L957.6 474.7L957.8 485.2L958.0 586.1L958.1 551.5L958.3 483.8L958.4 231.1L958.6 546.3L958.8 261.6L958.9 410.5L959.1 342.7L959.2 565.8L959.4 649.9L959.6 392.4L959.7 303.3L959.9 361.5L960.0 428.1L960.2 355.4L960.4 603.8L960.5 467.4L960.7 454.3L960.8 474.6L961.0 271.7L961.2 518.5L961.3 413.3L961.5 497.6L961.6 649.9L961.8 332.6L962.0 591.8L962.1 459.0L962.3 541.8L962.4 524.1L962.6 500.9L962.8 594.8L962.9 450.9L963.1 442.9L963.2 324.2L963.4 321.9L963.6 583.4L963.7 398.6L963.9 487.3L964.0 506.7L964.2 383.3L964.4 316.8L964.5 504.7L964.7 318.3L964.8 363.8L965.0 390.5L965.2 436.6L965.3 649.9L965.5 571.6L965.6 501.9L965.8 531.0L965.9 590.4L966.1 518.8L966.3 477.9L966.4 386.9L966.6 494.1L966.7 418.1L966.9 474.2L967.1 587.7L967.2 454.8L967.4 525.9L967.5 445.9L967.7 649.9L967.9 435.9L968.0 463.3L968.2 562.8L968.3 581.9L968.5 649.9L968.7 649.9L968.8 353.7L969.0 433.9L969.1 422.8L969.3 602.3L969.5 606.5L969.6 519.0L969.8 386.1L969.9 403.0L970.1 593.3L970.3 212.5L970.4 483.9L970.6 561.5L970.7 530.9L970.9 532.6L971.1 430.1L971.2 404.9L971.4 519.6L971.5 596.2L971.7 570.6L971.9 601.2L972.0 476.2L972.2 488.5L972.3 470.7L972.5 600.1L972.7 649.9L972.8 649.9L973.0 542.0L973.1 547.9L973.3 400.8L973.5 525.3L973.6 466.5L973.8 649.9L973.9 649.9L974.1 570.0L974.3 427.4L974.4 649.9L974.6 370.0L974.7 463.7L974.9 530.3L975.1 649.9L975.2 537.0L975.4 649.9L975.5 446.3L975.7 429.9L975.8 511.8L976.0 569.7L976.2 649.9L976.3 649.9L976.5 474.1L976.6 649.9L976.8 428.5L977.0 357.6L977.1 521.5L977.3 384.1L977.4 549.4L977.6 649.9L977.8 561.8L977.9 527.9L978.1 649.9L978.2 577.7L978.4 370.5L978.6 572.3L978.7 497.0L978.9 578.0L979.0 346.8L979.2 468.9L979.4 495.5L979.5 459.1L979.7 270.8L979.8 548.1L980.0 565.6" fill="none" stroke="#d3d3d3" stroke-width="0.56" stroke-linejoin="round"/>
<path d="M137.3 374.2L137.5 377.1L137.6 375.6L137.8 368.7L137.9 362.1L138.1 355.4L138.3 351.3L138.4 346.0L138.6 342.4L138.7 332.4L138.9 330.7L139.1 324.9L139.2 320.8L139.4 320.8L139.5 321.3L139.7 324.0L139.9 327.8L140.0 329.8L140.2 331.7L140.3 335.7L140.5 336.6L140.7 333.0L140.8 334.0L141.0 332.7L141.1 329.0L141.3 327.7L141.5 326.5L141.6 326.9L141.8 327.9L141.9 331.9L142.1 337.6L142.2 340.6L142.4 341.8L142.6 346.2L142.7 352.8L142.9 357.4L143.0 363.8L143.2 371.3L143.4 375.5L143.5 378.8L143.7 384.9L143.8 386.6L144.0 388.0L144.2 383.6L144.3 380.3L144.5 376.9L144.6 371.0L144.8 369.6L145.0 368.7L145.1 364.5L145.3 365.0L145.4 363.9L145.6 365.1L145.8 367.3L145.9 371.1L146.1 369.7L146.2 373.2L146.4 374.0L146.6 369.0L146.7 369.5L146.9 368.0L147.0 369.4L147.2 367.9L147.4 369.9L147.5 374.1L147.7 375.5L147.8 380.3L148.0 383.1L148.2 387.4L148.3 389.2L148.5 394.3L148.6 398.3L148.8 400.9L149.0 405.4L149.1 411.0L149.3 418.3L149.4 418.0L149.6 423.1L149.8 427.8L149.9 431.2L150.1 431.3L150.2 435.1L150.4 433.1L150.6 436.1L150.7 440.7L150.9 437.6L151.0 437.5L151.2 435.1L151.4 436.7L151.5 441.5L151.7 446.8L151.8 441.7L152.0 438.3L152.1 438.0L152.3 440.2L152.5 440.3L152.6 437.2L152.8 436.4L152.9 435.0L153.1 433.5L153.3 431.0L153.4 431.7L153.6 432.3L153.7 431.7L153.9 430.8L154.1 427.5L154.2 425.9L154.4 428.3L154.5 426.7L154.7 422.1L154.9 423.9L155.0 424.0L155.2 427.6L155.3 425.5L155.5 422.0L155.7 416.7L155.8 418.0L156.0 423.1L156.1 420.1L156.3 417.5L156.5 417.5L156.6 414.1L156.8 412.7L156.9 410.7L157.1 409.5L157.3 410.4L157.4 409.0L157.6 410.1L157.7 407.6L157.9 407.2L158.1 401.0L158.2 396.3L158.4 396.9L158.5 393.8L158.7 393.4L158.9 393.1L159.0 394.8L159.2 395.7L159.3 397.1L159.5 396.2L159.7 394.3L159.8 392.6L160.0 391.6L160.1 389.5L160.3 389.2L160.5 389.9L160.6 390.9L160.8 390.0L160.9 384.8L161.1 384.1L161.2 384.2L161.4 386.0L161.6 386.2L161.7 382.5L161.9 378.1L162.0 380.4L162.2 380.0L162.4 384.3L162.5 389.7L162.7 387.7L162.8 389.1L163.0 390.8L163.2 393.7L163.3 397.1L163.5 399.7L163.6 401.1L163.8 398.6L164.0 399.4L164.1 398.6L164.3 399.9L164.4 399.8L164.6 401.9L164.8 404.5L164.9 405.7L165.1 406.8L165.2 407.0L165.4 406.0L165.6 405.8L165.7 405.2L165.9 406.6L166.0 407.3L166.2 409.4L166.4 407.7L166.5 411.8L166.7 411.9L166.8 412.2L167.0 414.2L167.2 415.3L167.3 418.2L167.5 418.9L167.6 413.9L167.8 408.6L168.0 408.7L168.1 405.3L168.3 399.3L168.4 395.8L168.6 388.0L168.8 389.2L168.9 386.8L169.1 388.6L169.2 390.4L169.4 386.9L169.6 385.8L169.7 381.5L169.9 375.9L170.0 370.1L170.2 365.3L170.4 359.0L170.5 352.9L170.7 343.0L170.8 335.3L171.0 324.0L171.1 316.4L171.3 305.5L171.5 293.3L171.6 290.2L171.8 291.6L171.9 291.4L172.1 287.5L172.3 286.9L172.4 283.6L172.6 283.3L172.7 285.5L172.9 282.1L173.1 285.3L173.2 285.7L173.4 286.7L173.5 285.3L173.7 283.3L173.9 281.1L174.0 282.5L174.2 286.1L174.3 285.3L174.5 286.7L174.7 284.6L174.8 280.5L175.0 283.9L175.1 288.2L175.3 291.1L175.5 295.7L175.6 300.6L175.8 303.6L175.9 311.6L176.1 322.2L176.3 332.9L176.4 343.3L176.6 352.3L176.7 358.2L176.9 358.6L177.1 361.8L177.2 365.2L177.4 367.9L177.5 371.1L177.7 369.6L177.9 370.7L178.0 374.9L178.2 376.2L178.3 374.6L178.5 375.3L178.7 378.2L178.8 379.3L179.0 378.5L179.1 382.8L179.3 380.2L179.5 382.1L179.6 383.2L179.8 381.2L179.9 385.4L180.1 385.6L180.2 380.9L180.4 380.3L180.6 376.8L180.7 370.0L180.9 366.2L181.0 365.6L181.2 369.2L181.4 371.2L181.5 372.4L181.7 374.3L181.8 374.5L182.0 378.4L182.2 378.2L182.3 377.9L182.5 378.3L182.6 374.8L182.8 372.4L183.0 375.5L183.1 376.0L183.3 375.4L183.4 375.9L183.6 374.6L183.8 375.2L183.9 373.8L184.1 375.0L184.2 371.9L184.4 377.6L184.6 378.9L184.7 377.9L184.9 380.0L185.0 380.5L185.2 382.8L185.4 381.9L185.5 384.1L185.7 392.6L185.8 389.8L186.0 391.2L186.2 390.6L186.3 391.3L186.5 387.7L186.6 385.6L186.8 387.4L187.0 387.1L187.1 392.1L187.3 391.5L187.4 392.8L187.6 400.8L187.8 399.7L187.9 398.7L188.1 399.8L188.2 400.9L188.4 404.1L188.6 404.9L188.7 404.2L188.9 405.8L189.0 413.4L189.2 417.9L189.4 412.7L189.5 413.1L189.7 411.5L189.8 412.3L190.0 409.7L190.1 411.5L190.3 410.7L190.5 409.3L190.6 406.1L190.8 402.5L190.9 400.0L191.1 400.0L191.3 398.4L191.4 395.7L191.6 397.0L191.7 395.9L191.9 395.3L192.1 392.9L192.2 390.7L192.4 388.8L192.5 381.3L192.7 382.2L192.9 381.8L193.0 380.0L193.2 381.1L193.3 379.9L193.5 378.3L193.7 370.2L193.8 367.1L194.0 366.3L194.1 368.9L194.3 371.9L194.5 373.3L194.6 371.7L194.8 369.0L194.9 373.4L195.1 377.3L195.3 383.8L195.4 387.4L195.6 389.9L195.7 387.0L195.9 388.8L196.1 388.7L196.2 390.4L196.4 392.2L196.5 391.7L196.7 390.9L196.9 389.4L197.0 389.3L197.2 388.8L197.3 385.5L197.5 382.0L197.7 386.2L197.8 386.5L198.0 389.5L198.1 390.8L198.3 389.6L198.5 388.7L198.6 390.0L198.8 391.9L198.9 394.3L199.1 391.2L199.2 388.1L199.4 386.4L199.6 388.7L199.7 381.8L199.9 381.2L200.0 378.1L200.2 378.4L200.4 376.8L200.5 376.5L200.7 379.4L200.8 379.1L201.0 379.1L201.2 379.1L201.3 376.5L201.5 377.5L201.6 375.0L201.8 371.0L202.0 369.0L202.1 366.0L202.3 365.3L202.4 362.3L202.6 357.7L202.8 358.0L202.9 357.1L203.1 357.3L203.2 355.6L203.4 356.2L203.6 357.2L203.7 358.7L203.9 363.9L204.0 367.3L204.2 367.1L204.4 367.9L204.5 363.9L204.7 364.1L204.8 361.4L205.0 358.1L205.2 357.4L205.3 356.4L205.5 351.2L205.6 351.7L205.8 355.4L206.0 350.4L206.1 353.7L206.3 350.9L206.4 352.7L206.6 356.0L206.8 356.0L206.9 363.5L207.1 368.9L207.2 371.0L207.4 370.9L207.6 367.0L207.7 366.3L207.9 368.6L208.0 363.9L208.2 362.3L208.3 363.6L208.5 367.9L208.7 373.2L208.8 373.8L209.0 373.4L209.1 375.4L209.3 375.6L209.5 376.4L209.6 380.2L209.8 385.8L209.9 388.1L210.1 389.5L210.3 391.9L210.4 388.6L210.6 390.2L210.7 389.4L210.9 397.5L211.1 399.3L211.2 395.6L211.4 391.2L211.5 380.9L211.7 378.7L211.9 379.3L212.0 374.3L212.2 374.4L212.3 373.8L212.5 367.9L212.7 368.2L212.8 369.8L213.0 368.8L213.1 367.0L213.3 367.9L213.5 364.5L213.6 365.6L213.8 369.5L213.9 368.0L214.1 372.3L214.3 372.6L214.4 367.0L214.6 366.1L214.7 363.0L214.9 363.2L215.1 359.8L215.2 361.3L215.4 358.7L215.5 358.5L215.7 356.1L215.9 354.5L216.0 356.5L216.2 355.7L216.3 356.0L216.5 356.1L216.7 362.2L216.8 367.8L217.0 371.2L217.1 375.3L217.3 375.7L217.5 376.7L217.6 378.1L217.8 382.1L217.9 385.9L218.1 385.7L218.2 388.0L218.4 390.3L218.6 391.1L218.7 394.1L218.9 393.4L219.0 393.3L219.2 393.2L219.4 392.2L219.5 393.5L219.7 390.1L219.8 393.1L220.0 390.6L220.2 392.5L220.3 391.6L220.5 395.5L220.6 401.6L220.8 407.1L221.0 412.2L221.1 406.7L221.3 401.8L221.4 398.0L221.6 393.3L221.8 394.0L221.9 392.2L222.1 390.4L222.2 390.0L222.4 385.7L222.6 381.7L222.7 377.6L222.9 377.1L223.0 376.7L223.2 377.1L223.4 378.9L223.5 374.8L223.7 372.4L223.8 371.5L224.0 366.9L224.2 365.0L224.3 366.4L224.5 367.6L224.6 368.9L224.8 367.3L225.0 364.5L225.1 365.2L225.3 363.3L225.4 365.1L225.6 369.3L225.8 369.1L225.9 368.6L226.1 369.4L226.2 372.0L226.4 373.1L226.6 373.0L226.7 373.9L226.9 370.0L227.0 368.3L227.2 369.5L227.3 369.5L227.5 369.7L227.7 369.6L227.8 369.7L228.0 371.5L228.1 370.8L228.3 372.6L228.5 377.9L228.6 378.3L228.8 382.1L228.9 383.2L229.1 381.2L229.3 381.3L229.4 379.6L229.6 383.0L229.7 381.8L229.9 385.7L230.1 388.1L230.2 383.6L230.4 386.6L230.5 391.1L230.7 390.7L230.9 395.3L231.0 393.4L231.2 397.4L231.3 397.0L231.5 401.0L231.7 400.0L231.8 396.3L232.0 399.8L232.1 407.6L232.3 408.3L232.5 411.6L232.6 412.8L232.8 412.9L232.9 415.8L233.1 421.3L233.3 419.8L233.4 422.0L233.6 424.0L233.7 421.3L233.9 426.4L234.1 432.0L234.2 430.4L234.4 435.3L234.5 434.8L234.7 430.8L234.9 431.1L235.0 427.7L235.2 425.5L235.3 426.5L235.5 426.6L235.7 426.5L235.8 421.0L236.0 416.0L236.1 417.9L236.3 415.5L236.5 415.5L236.6 412.5L236.8 411.3L236.9 407.7L237.1 409.9L237.2 405.5L237.4 403.0L237.6 400.4L237.7 400.7L237.9 394.9L238.0 392.3L238.2 389.2L238.4 388.0L238.5 386.8L238.7 383.0L238.8 381.0L239.0 377.5L239.2 376.1L239.3 372.9L239.5 368.3L239.6 366.1L239.8 364.4L240.0 367.9L240.1 365.3L240.3 364.8L240.4 367.0L240.6 360.7L240.8 356.0L240.9 352.2L241.1 351.0L241.2 357.1L241.4 358.3L241.6 360.7L241.7 359.4L241.9 355.4L242.0 352.6L242.2 358.4L242.4 362.2L242.5 362.0L242.7 367.2L242.8 364.7L243.0 367.8L243.2 372.0L243.3 370.3L243.5 368.4L243.6 370.6L243.8 368.7L244.0 372.9L244.1 372.2L244.3 376.0L244.4 378.7L244.6 380.0L244.8 380.5L244.9 380.8L245.1 376.6L245.2 375.8L245.4 374.7L245.6 376.2L245.7 372.8L245.9 377.5L246.0 378.0L246.2 376.6L246.3 381.5L246.5 386.8L246.7 388.3L246.8 385.8L247.0 383.3L247.1 379.4L247.3 376.7L247.5 378.5L247.6 377.1L247.8 374.8L247.9 373.2L248.1 370.4L248.3 369.6L248.4 368.8L248.6 365.2L248.7 362.2L248.9 364.4L249.1 362.3L249.2 358.7L249.4 360.7L249.5 358.0L249.7 353.2L249.9 355.2L250.0 354.8L250.2 355.9L250.3 359.3L250.5 360.9L250.7 361.4L250.8 359.9L251.0 354.6L251.1 353.8L251.3 348.0L251.5 342.1L251.6 342.3L251.8 337.1L251.9 339.9L252.1 341.9L252.3 340.0L252.4 335.5L252.6 336.2L252.7 338.6L252.9 342.4L253.1 343.6L253.2 347.0L253.4 351.2L253.5 350.1L253.7 355.6L253.9 357.8L254.0 359.1L254.2 361.3L254.3 367.7L254.5 371.6L254.7 369.1L254.8 371.3L255.0 372.6L255.1 374.3L255.3 375.5L255.5 374.2L255.6 378.6L255.8 378.5L255.9 379.6L256.1 380.2L256.2 380.3L256.4 381.1L256.6 380.4L256.7 377.2L256.9 373.0L257.0 369.9L257.2 370.4L257.4 370.2L257.5 370.8L257.7 369.5L257.8 368.4L258.0 368.9L258.2 364.1L258.3 367.6L258.5 365.2L258.6 365.5L258.8 371.1L259.0 373.5L259.1 375.5L259.3 376.1L259.4 373.8L259.6 376.2L259.8 381.2L259.9 381.1L260.1 386.2L260.2 384.8L260.4 384.6L260.6 388.4L260.7 392.0L260.9 397.9L261.0 400.3L261.2 402.3L261.4 402.3L261.5 404.2L261.7 408.2L261.8 410.5L262.0 416.9L262.2 420.8L262.3 420.9L262.5 431.1L262.6 432.1L262.8 432.5L263.0 438.8L263.1 444.2L263.3 444.0L263.4 438.3L263.6 433.4L263.8 433.7L263.9 431.2L264.1 427.2L264.2 425.2L264.4 427.1L264.6 422.9L264.7 420.8L264.9 416.1L265.0 419.7L265.2 423.4L265.3 424.5L265.5 423.3L265.7 423.4L265.8 417.7L266.0 418.2L266.1 415.0L266.3 411.6L266.5 409.8L266.6 408.8L266.8 410.0L266.9 411.2L267.1 410.7L267.3 407.4L267.4 408.6L267.6 409.4L267.7 414.1L267.9 413.7L268.1 408.6L268.2 409.0L268.4 415.6L268.5 418.3L268.7 419.3L268.9 422.8L269.0 425.4L269.2 428.8L269.3 430.2L269.5 432.9L269.7 435.9L269.8 436.9L270.0 436.7L270.1 438.7L270.3 441.9L270.5 444.4L270.6 446.0L270.8 446.8L270.9 452.7L271.1 453.1L271.3 455.3L271.4 458.8L271.6 457.8L271.7 457.8L271.9 459.8L272.1 463.9L272.2 464.9L272.4 466.2L272.5 467.1L272.7 464.8L272.9 469.0L273.0 470.2L273.2 468.0L273.3 469.8L273.5 467.3L273.7 467.1L273.8 468.7L274.0 466.4L274.1 468.5L274.3 463.8L274.5 462.9L274.6 462.7L274.8 464.4L274.9 464.9L275.1 464.4L275.2 464.3L275.4 464.0L275.6 466.9L275.7 465.8L275.9 467.0L276.0 466.4L276.2 464.9L276.4 462.5L276.5 465.5L276.7 461.8L276.8 460.1L277.0 458.3L277.2 457.7L277.3 457.2L277.5 456.8L277.6 457.5L277.8 452.7L278.0 451.8L278.1 448.2L278.3 447.7L278.4 444.0L278.6 442.7L278.8 444.4L278.9 449.5L279.1 453.3L279.2 456.2L279.4 461.6L279.6 459.9L279.7 453.3L279.9 451.1L280.0 448.7L280.2 450.0L280.4 452.9L280.5 446.8L280.7 449.1L280.8 450.3L281.0 451.2L281.2 451.4L281.3 456.6L281.5 456.7L281.6 456.0L281.8 456.2L282.0 451.1L282.1 451.4L282.3 449.9L282.4 449.7L282.6 449.4L282.8 445.6L282.9 447.7L283.1 445.1L283.2 448.3L283.4 445.8L283.6 448.3L283.7 448.6L283.9 450.7L284.0 451.1L284.2 447.9L284.3 446.7L284.5 447.6L284.7 450.0L284.8 447.3L285.0 442.7L285.1 440.5L285.3 439.7L285.5 437.9L285.6 436.0L285.8 437.6L285.9 439.3L286.1 440.8L286.3 437.9L286.4 437.1L286.6 436.1L286.7 432.0L286.9 435.2L287.1 436.1L287.2 435.3L287.4 438.8L287.5 440.7L287.7 443.2L287.9 444.3L288.0 443.5L288.2 438.3L288.3 435.3L288.5 435.5L288.7 431.4L288.8 429.1L289.0 427.5L289.1 427.7L289.3 427.6L289.5 426.4L289.6 422.2L289.8 420.6L289.9 418.7L290.1 415.0L290.3 415.2L290.4 413.1L290.6 408.6L290.7 409.2L290.9 406.3L291.1 406.0L291.2 401.4L291.4 401.0L291.5 399.2L291.7 397.2L291.9 392.9L292.0 397.9L292.2 397.2L292.3 397.6L292.5 399.8L292.7 400.0L292.8 402.2L293.0 399.8L293.1 401.6L293.3 402.7L293.5 406.3L293.6 409.0L293.8 407.6L293.9 406.2L294.1 407.3L294.2 413.4L294.4 418.9L294.6 424.1L294.7 423.2L294.9 420.3L295.0 422.6L295.2 425.8L295.4 428.8L295.5 433.5L295.7 436.2L295.8 436.3L296.0 436.4L296.2 438.9L296.3 440.1L296.5 439.8L296.6 445.0L296.8 443.6L297.0 443.1L297.1 440.0L297.3 438.2L297.4 439.2L297.6 441.7L297.8 444.0L297.9 446.7L298.1 448.3L298.2 445.3L298.4 439.7L298.6 447.8L298.7 452.0L298.9 454.5L299.0 452.5L299.2 450.4L299.4 455.3L299.5 450.2L299.7 451.0L299.8 453.7L300.0 454.5L300.2 455.5L300.3 453.6L300.5 457.2L300.6 452.9L300.8 447.6L301.0 446.5L301.1 448.5L301.3 447.1L301.4 447.8L301.6 443.7L301.8 438.2L301.9 439.6L302.1 441.7L302.2 444.0L302.4 441.3L302.6 437.2L302.7 435.6L302.9 436.6L303.0 440.0L303.2 443.0L303.3 441.1L303.5 442.8L303.7 443.8L303.8 445.0L304.0 445.7L304.1 445.7L304.3 447.7L304.5 448.5L304.6 450.2L304.8 449.5L304.9 451.4L305.1 451.1L305.3 445.6L305.4 446.4L305.6 445.2L305.7 446.9L305.9 446.1L306.1 445.4L306.2 445.0L306.4 444.5L306.5 443.3L306.7 438.9L306.9 443.1L307.0 439.0L307.2 437.6L307.3 438.2L307.5 437.5L307.7 437.0L307.8 436.9L308.0 437.8L308.1 436.6L308.3 442.0L308.5 438.0L308.6 436.8L308.8 434.7L308.9 432.5L309.1 432.8L309.3 435.5L309.4 432.6L309.6 429.0L309.7 428.5L309.9 427.8L310.1 430.7L310.2 431.3L310.4 430.1L310.5 427.8L310.7 427.0L310.9 427.5L311.0 426.4L311.2 428.3L311.3 429.4L311.5 430.2L311.7 430.6L311.8 434.9L312.0 435.1L312.1 435.8L312.3 432.9L312.5 428.8L312.6 426.8L312.8 426.1L312.9 424.5L313.1 422.9L313.2 423.6L313.4 422.7L313.6 419.0L313.7 416.7L313.9 413.5L314.0 412.6L314.2 408.8L314.4 409.8L314.5 413.8L314.7 415.8L314.8 415.4L315.0 415.4L315.2 417.5L315.3 420.3L315.5 423.9L315.6 424.2L315.8 421.3L316.0 425.4L316.1 426.9L316.3 428.9L316.4 430.3L316.6 428.1L316.8 428.7L316.9 428.4L317.1 430.0L317.2 429.0L317.4 419.9L317.6 417.0L317.7 415.2L317.9 415.5L318.0 414.7L318.2 419.2L318.4 420.8L318.5 422.1L318.7 423.0L318.8 418.3L319.0 419.5L319.2 420.6L319.3 418.2L319.5 417.1L319.6 415.1L319.8 411.3L320.0 408.3L320.1 408.0L320.3 410.1L320.4 411.2L320.6 414.6L320.8 412.0L320.9 413.2L321.1 411.2L321.2 411.8L321.4 414.6L321.6 416.1L321.7 416.8L321.9 418.0L322.0 422.8L322.2 421.2L322.3 424.6L322.5 422.3L322.7 422.7L322.8 425.4L323.0 425.3L323.1 428.1L323.3 432.3L323.5 431.9L323.6 434.3L323.8 434.7L323.9 428.8L324.1 426.9L324.3 423.4L324.4 424.5L324.6 420.0L324.7 421.1L324.9 416.5L325.1 417.6L325.2 415.6L325.4 412.7L325.5 411.2L325.7 410.1L325.9 411.5L326.0 413.9L326.2 411.2L326.3 406.4L326.5 398.5L326.7 396.5L326.8 397.9L327.0 398.4L327.1 397.8L327.3 395.8L327.5 392.9L327.6 391.5L327.8 392.1L327.9 387.6L328.1 389.1L328.3 385.7L328.4 388.5L328.6 390.4L328.7 392.7L328.9 392.9L329.1 392.6L329.2 394.6L329.4 394.6L329.5 403.0L329.7 404.0L329.9 404.2L330.0 404.5L330.2 403.7L330.3 400.2L330.5 402.2L330.7 405.4L330.8 404.1L331.0 406.2L331.1 404.7L331.3 406.0L331.4 408.2L331.6 410.4L331.8 412.3L331.9 411.1L332.1 413.4L332.2 412.7L332.4 413.8L332.6 416.3L332.7 416.3L332.9 414.6L333.0 416.4L333.2 412.5L333.4 409.9L333.5 406.6L333.7 407.1L333.8 404.8L334.0 397.3L334.2 396.8L334.3 399.2L334.5 401.1L334.6 397.2L334.8 394.6L335.0 393.1L335.1 392.8L335.3 391.3L335.4 387.1L335.6 387.2L335.8 387.1L335.9 382.5L336.1 380.0L336.2 378.6L336.4 376.7L336.6 376.7L336.7 376.7L336.9 376.1L337.0 373.6L337.2 368.2L337.4 367.6L337.5 368.9L337.7 373.5L337.8 373.2L338.0 372.3L338.2 375.3L338.3 378.5L338.5 379.8L338.6 382.1L338.8 380.7L339.0 382.5L339.1 381.9L339.3 383.2L339.4 384.7L339.6 385.2L339.8 382.0L339.9 381.6L340.1 383.6L340.2 384.3L340.4 384.2L340.6 385.6L340.7 387.4L340.9 390.0L341.0 389.0L341.2 389.9L341.3 390.3L341.5 388.9L341.7 385.5L341.8 385.4L342.0 383.5L342.1 388.3L342.3 387.7L342.5 386.4L342.6 384.9L342.8 388.6L342.9 386.2L343.1 385.2L343.3 382.9L343.4 382.1L343.6 381.5L343.7 383.6L343.9 379.6L344.1 379.0L344.2 383.0L344.4 381.9L344.5 382.1L344.7 381.6L344.9 377.5L345.0 379.7L345.2 384.9L345.3 385.8L345.5 382.9L345.7 384.4L345.8 385.0L346.0 388.0L346.1 390.4L346.3 389.4L346.5 389.8L346.6 384.7L346.8 386.9L346.9 387.1L347.1 389.8L347.3 393.1L347.4 392.8L347.6 393.0L347.7 391.8L347.9 387.9L348.1 388.9L348.2 390.3L348.4 389.1L348.5 392.5L348.7 393.6L348.9 395.4L349.0 394.3L349.2 390.6L349.3 393.4L349.5 395.7L349.7 394.7L349.8 393.1L350.0 391.2L350.1 390.2L350.3 388.6L350.4 383.4L350.6 385.8L350.8 383.4L350.9 383.6L351.1 383.4L351.2 383.9L351.4 379.8L351.6 382.2L351.7 384.1L351.9 385.8L352.0 388.3L352.2 385.2L352.4 376.9L352.5 377.2L352.7 379.9L352.8 383.1L353.0 382.1L353.2 381.7L353.3 381.8L353.5 377.4L353.6 375.7L353.8 373.9L354.0 377.8L354.1 376.8L354.3 381.1L354.4 381.4L354.6 377.0L354.8 382.5L354.9 380.5L355.1 381.5L355.2 383.9L355.4 380.9L355.6 377.1L355.7 378.6L355.9 377.7L356.0 374.2L356.2 370.7L356.4 368.1L356.5 368.7L356.7 366.0L356.8 364.8L357.0 366.2L357.2 366.2L357.3 366.8L357.5 366.9L357.6 361.1L357.8 363.1L358.0 363.6L358.1 363.4L358.3 361.6L358.4 358.3L358.6 356.6L358.8 357.5L358.9 357.3L359.1 357.6L359.2 357.7L359.4 360.6L359.6 361.1L359.7 361.9L359.9 365.9L360.0 365.7L360.2 367.6L360.3 365.5L360.5 367.0L360.7 368.5L360.8 370.1L361.0 370.1L361.1 368.1L361.3 368.4L361.5 368.1L361.6 371.6L361.8 374.5L361.9 372.3L362.1 374.7L362.3 374.1L362.4 375.8L362.6 375.7L362.7 373.2L362.9 376.9L363.1 379.5L363.2 378.3L363.4 375.2L363.5 374.1L363.7 370.7L363.9 369.0L364.0 369.0L364.2 370.6L364.3 368.2L364.5 369.4L364.7 369.9L364.8 366.2L365.0 359.5L365.1 358.5L365.3 356.9L365.5 360.1L365.6 360.8L365.8 359.7L365.9 360.8L366.1 355.4L366.3 354.3L366.4 352.2L366.6 355.4L366.7 355.9L366.9 347.6L367.1 350.2L367.2 347.4L367.4 349.0L367.5 348.0L367.7 347.6L367.9 348.4L368.0 347.9L368.2 344.6L368.3 347.0L368.5 346.6L368.7 344.9L368.8 344.9L369.0 341.5L369.1 344.6L369.3 344.1L369.4 343.9L369.6 343.7L369.8 340.3L369.9 339.2L370.1 341.7L370.2 344.5L370.4 349.6L370.6 352.1L370.7 350.4L370.9 352.3L371.0 354.6L371.2 357.8L371.4 359.5L371.5 357.5L371.7 361.2L371.8 359.7L372.0 360.6L372.2 355.9L372.3 356.2L372.5 353.5L372.6 355.2L372.8 359.6L373.0 363.1L373.1 361.0L373.3 359.3L373.4 357.9L373.6 360.6L373.8 362.6L373.9 363.4L374.1 364.4L374.2 365.9L374.4 368.2L374.6 373.4L374.7 374.7L374.9 377.0L375.0 374.5L375.2 373.1L375.4 373.1L375.5 371.8L375.7 374.1L375.8 377.7L376.0 377.7L376.2 377.2L376.3 376.2L376.5 376.8L376.6 375.8L376.8 377.0L377.0 377.8L377.1 378.0L377.3 379.3L377.4 378.5L377.6 378.1L377.8 381.7L377.9 381.4L378.1 383.5L378.2 383.9L378.4 383.2L378.6 383.1L378.7 381.8L378.9 382.7L379.0 381.8L379.2 380.5L379.3 382.8L379.5 381.8L379.7 383.9L379.8 383.0L380.0 383.1L380.1 378.9L380.3 376.3L380.5 379.8L380.6 379.3L380.8 379.7L380.9 378.0L381.1 377.7L381.3 373.5L381.4 370.3L381.6 370.5L381.7 371.8L381.9 370.7L382.1 370.2L382.2 369.1L382.4 368.9L382.5 366.9L382.7 364.3L382.9 365.2L383.0 361.9L383.2 360.6L383.3 359.7L383.5 357.8L383.7 358.8L383.8 357.6L384.0 356.9L384.1 353.9L384.3 351.2L384.5 351.5L384.6 351.3L384.8 348.9L384.9 350.0L385.1 350.3L385.3 350.6L385.4 354.5L385.6 353.7L385.7 354.9L385.9 356.2L386.1 356.0L386.2 354.0L386.4 356.3L386.5 358.0L386.7 359.2L386.9 360.7L387.0 361.9L387.2 361.9L387.3 364.9L387.5 362.8L387.7 364.9L387.8 363.7L388.0 364.8L388.1 367.0L388.3 366.1L388.4 364.8L388.6 365.1L388.8 363.2L388.9 361.1L389.1 359.2L389.2 361.7L389.4 363.9L389.6 365.6L389.7 363.5L389.9 365.0L390.0 362.8L390.2 364.8L390.4 362.8L390.5 368.3L390.7 365.2L390.8 368.3L391.0 370.2L391.2 366.1L391.3 366.4L391.5 370.5L391.6 374.5L391.8 372.2L392.0 371.5L392.1 369.1L392.3 367.5L392.4 367.3L392.6 372.3L392.8 373.0L392.9 372.7L393.1 372.1L393.2 374.5L393.4 377.5L393.6 376.6L393.7 380.8L393.9 379.0L394.0 379.2L394.2 381.0L394.4 385.4L394.5 385.0L394.7 385.5L394.8 388.3L395.0 389.4L395.2 390.9L395.3 392.1L395.5 391.0L395.6 391.7L395.8 393.5L396.0 393.0L396.1 396.5L396.3 391.6L396.4 388.4L396.6 390.9L396.8 391.0L396.9 388.9L397.1 388.6L397.2 389.9L397.4 387.6L397.6 388.8L397.7 389.1L397.9 389.6L398.0 390.4L398.2 394.1L398.3 393.2L398.5 393.8L398.7 396.9L398.8 394.5L399.0 390.4L399.1 391.4L399.3 390.2L399.5 389.0L399.6 388.4L399.8 385.0L399.9 391.3L400.1 389.0L400.3 388.6L400.4 385.8L400.6 385.3L400.7 389.7L400.9 390.1L401.1 392.2L401.2 391.1L401.4 394.5L401.5 393.9L401.7 389.9L401.9 390.8L402.0 388.9L402.2 389.9L402.3 390.4L402.5 390.5L402.7 389.9L402.8 386.7L403.0 382.3L403.1 384.4L403.3 384.2L403.5 384.8L403.6 383.5L403.8 378.3L403.9 376.2L404.1 380.6L404.3 380.0L404.4 380.3L404.6 377.4L404.7 376.7L404.9 376.8L405.1 377.0L405.2 377.3L405.4 375.9L405.5 374.1L405.7 373.4L405.9 373.4L406.0 372.5L406.2 375.6L406.3 375.2L406.5 375.1L406.7 373.4L406.8 375.5L407.0 373.5L407.1 369.8L407.3 367.6L407.4 369.5L407.6 368.7L407.8 373.6L407.9 375.1L408.1 373.1L408.2 374.2L408.4 379.5L408.6 378.5L408.7 376.6L408.9 378.5L409.0 382.2L409.2 385.4L409.4 384.6L409.5 384.6L409.7 384.8L409.8 387.5L410.0 392.5L410.2 390.5L410.3 392.1L410.5 389.7L410.6 390.1L410.8 387.2L411.0 384.8L411.1 385.5L411.3 383.4L411.4 387.4L411.6 387.7L411.8 389.0L411.9 389.1L412.1 388.8L412.2 389.7L412.4 392.8L412.6 400.6L412.7 397.4L412.9 397.9L413.0 397.4L413.2 395.0L413.4 396.9L413.5 395.6L413.7 396.1L413.8 400.1L414.0 395.8L414.2 395.5L414.3 395.6L414.5 391.9L414.6 392.4L414.8 391.9L415.0 389.8L415.1 392.3L415.3 388.8L415.4 390.2L415.6 389.4L415.8 386.9L415.9 386.8L416.1 386.2L416.2 388.1L416.4 384.1L416.6 382.6L416.7 380.9L416.9 383.9L417.0 380.7L417.2 382.2L417.3 377.1L417.5 377.4L417.7 378.0L417.8 379.1L418.0 377.8L418.1 373.3L418.3 369.7L418.5 373.0L418.6 375.6L418.8 376.1L418.9 380.1L419.1 379.2L419.3 378.9L419.4 377.4L419.6 381.1L419.7 386.4L419.9 385.0L420.1 386.4L420.2 389.0L420.4 395.0L420.5 390.6L420.7 392.0L420.9 392.7L421.0 387.9L421.2 388.1L421.3 387.3L421.5 387.7L421.7 385.1L421.8 384.5L422.0 382.0L422.1 382.5L422.3 381.8L422.5 379.5L422.6 374.9L422.8 377.6L422.9 378.8L423.1 379.2L423.3 376.1L423.4 373.8L423.6 376.8L423.7 377.9L423.9 375.6L424.1 375.0L424.2 374.4L424.4 373.4L424.5 371.6L424.7 376.0L424.9 378.8L425.0 379.5L425.2 377.0L425.3 376.3L425.5 377.3L425.7 380.8L425.8 381.9L426.0 386.5L426.1 389.1L426.3 389.5L426.4 385.2L426.6 384.5L426.8 383.5L426.9 386.1L427.1 389.0L427.2 393.7L427.4 394.7L427.6 391.7L427.7 396.2L427.9 395.7L428.0 394.1L428.2 392.1L428.4 386.8L428.5 386.8L428.7 385.8L428.8 388.8L429.0 391.5L429.2 393.2L429.3 396.4L429.5 396.0L429.6 395.7L429.8 395.9L430.0 392.1L430.1 391.8L430.3 391.0L430.4 392.0L430.6 391.9L430.8 387.2L430.9 387.0L431.1 390.7L431.2 387.1L431.4 386.1L431.6 386.8L431.7 384.2L431.9 383.7L432.0 384.6L432.2 381.9L432.4 382.6L432.5 383.2L432.7 379.5L432.8 378.7L433.0 380.2L433.2 378.5L433.3 378.2L433.5 378.4L433.6 377.8L433.8 380.5L434.0 381.5L434.1 379.5L434.3 381.2L434.4 383.3L434.6 384.4L434.8 381.0L434.9 379.7L435.1 380.7L435.2 379.0L435.4 380.0L435.6 381.3L435.7 381.0L435.9 382.8L436.0 382.5L436.2 385.7L436.3 386.4L436.5 385.9L436.7 386.5L436.8 387.1L437.0 388.9L437.1 390.9L437.3 388.7L437.5 387.1L437.6 387.7L437.8 388.8L437.9 388.9L438.1 394.4L438.3 396.0L438.4 395.3L438.6 395.6L438.7 396.4L438.9 395.0L439.1 389.3L439.2 387.6L439.4 386.1L439.5 389.5L439.7 383.3L439.9 384.7L440.0 381.8L440.2 381.4L440.3 378.4L440.5 376.1L440.7 376.6L440.8 374.5L441.0 375.2L441.1 373.1L441.3 369.9L441.5 367.8L441.6 366.1L441.8 365.7L441.9 368.5L442.1 364.8L442.3 359.5L442.4 357.6L442.6 361.4L442.7 365.6L442.9 370.8L443.1 375.5L443.2 375.4L443.4 378.5L443.5 376.0L443.7 379.0L443.9 385.3L444.0 386.3L444.2 391.9L444.3 396.1L444.5 402.0L444.7 411.0L444.8 423.0L445.0 431.4L445.1 431.7L445.3 430.0L445.4 434.7L445.6 442.2L445.8 443.7L445.9 447.3L446.1 450.2L446.2 454.3L446.4 458.0L446.6 462.3L446.7 468.1L446.9 471.7L447.0 476.4L447.2 482.5L447.4 481.4L447.5 480.3L447.7 483.0L447.8 488.9L448.0 491.5L448.2 495.8L448.3 495.6L448.5 497.6L448.6 495.9L448.8 497.2L449.0 498.2L449.1 498.9L449.3 502.7L449.4 505.3L449.6 502.9L449.8 503.9L449.9 498.7L450.1 500.3L450.2 506.2L450.4 506.7L450.6 507.1L450.7 506.2L450.9 507.5L451.0 506.1L451.2 506.9L451.4 506.0L451.5 504.2L451.7 503.8L451.8 503.4L452.0 498.8L452.2 501.2L452.3 498.8L452.5 491.7L452.6 491.6L452.8 489.1L453.0 487.7L453.1 488.5L453.3 485.1L453.4 477.4L453.6 476.5L453.8 476.4L453.9 478.3L454.1 476.1L454.2 474.4L454.4 474.6L454.5 472.6L454.7 471.4L454.9 471.1L455.0 468.2L455.2 473.2L455.3 472.0L455.5 472.8L455.7 472.3L455.8 470.6L456.0 472.3L456.1 471.1L456.3 471.0L456.5 468.7L456.6 463.6L456.8 461.6L456.9 454.7L457.1 453.0L457.3 452.7L457.4 452.4L457.6 448.7L457.7 444.1L457.9 451.4L458.1 453.4L458.2 452.9L458.4 452.8L458.5 455.2L458.7 460.7L458.9 461.7L459.0 464.7L459.2 465.0L459.3 466.0L459.5 468.7L459.7 467.9L459.8 469.3L460.0 469.1L460.1 469.2L460.3 472.7L460.5 472.7L460.6 474.7L460.8 474.4L460.9 475.7L461.1 475.6L461.3 480.0L461.4 482.2L461.6 485.0L461.7 491.6L461.9 486.9L462.1 485.9L462.2 479.5L462.4 479.9L462.5 481.4L462.7 482.5L462.9 482.5L463.0 479.3L463.2 482.3L463.3 482.6L463.5 482.4L463.7 480.2L463.8 481.3L464.0 481.0L464.1 480.5L464.3 481.8L464.4 483.1L464.6 481.1L464.8 483.5L464.9 480.4L465.1 477.1L465.2 477.3L465.4 477.0L465.6 477.3L465.7 476.0L465.9 476.7L466.0 476.3L466.2 473.1L466.4 475.7L466.5 473.2L466.7 472.9L466.8 475.1L467.0 475.0L467.2 479.9L467.3 474.7L467.5 471.3L467.6 469.8L467.8 471.6L468.0 470.4L468.1 465.7L468.3 467.3L468.4 464.8L468.6 464.2L468.8 466.2L468.9 464.0L469.1 462.9L469.2 463.8L469.4 463.4L469.6 464.7L469.7 462.3L469.9 461.7L470.0 458.6L470.2 454.6L470.4 458.6L470.5 459.5L470.7 463.4L470.8 462.3L471.0 463.3L471.2 464.3L471.3 463.0L471.5 466.4L471.6 466.2L471.8 467.2L472.0 464.9L472.1 468.4L472.3 471.1L472.4 472.9L472.6 471.4L472.8 470.4L472.9 474.1L473.1 473.6L473.2 474.6L473.4 474.9L473.5 472.1L473.7 476.3L473.9 472.0L474.0 473.0L474.2 473.2L474.3 470.6L474.5 473.6L474.7 476.3L474.8 477.8L475.0 476.7L475.1 478.0L475.3 480.8L475.5 481.3L475.6 485.0L475.8 486.4L475.9 487.6L476.1 490.5L476.3 488.1L476.4 486.2L476.6 486.9L476.7 487.8L476.9 492.0L477.1 495.2L477.2 496.1L477.4 497.0L477.5 497.0L477.7 497.3L477.9 497.6L478.0 501.0L478.2 498.7L478.3 497.1L478.5 496.7L478.7 494.5L478.8 493.3L479.0 487.1L479.1 488.5L479.3 487.8L479.5 488.2L479.6 488.8L479.8 484.0L479.9 489.4L480.1 488.9L480.3 488.3L480.4 483.0L480.6 482.7L480.7 482.6L480.9 481.0L481.1 480.5L481.2 481.9L481.4 480.1L481.5 476.5L481.7 478.1L481.9 477.2L482.0 475.6L482.2 480.0L482.3 478.9L482.5 477.3L482.7 475.4L482.8 471.9L483.0 470.4L483.1 468.7L483.3 465.7L483.4 466.0L483.6 467.6L483.8 469.2L483.9 471.5L484.1 474.1L484.2 475.2L484.4 477.4L484.6 476.7L484.7 474.3L484.9 475.8L485.0 469.7L485.2 469.8L485.4 476.5L485.5 470.6L485.7 472.6L485.8 466.6L486.0 466.2L486.2 470.1L486.3 472.9L486.5 470.6L486.6 466.7L486.8 462.6L487.0 464.0L487.1 462.8L487.3 462.1L487.4 462.1L487.6 461.8L487.8 462.6L487.9 462.0L488.1 457.5L488.2 460.4L488.4 454.9L488.6 459.4L488.7 459.5L488.9 460.2L489.0 460.8L489.2 460.8L489.4 462.2L489.5 462.2L489.7 458.6L489.8 459.7L490.0 457.1L490.2 459.0L490.3 457.4L490.5 454.3L490.6 456.1L490.8 459.5L491.0 459.2L491.1 460.4L491.3 465.7L491.4 466.1L491.6 465.0L491.8 464.2L491.9 459.9L492.1 452.7L492.2 447.1L492.4 451.3L492.5 456.7L492.7 461.3L492.9 465.0L493.0 464.1L493.2 467.9L493.3 471.5L493.5 469.8L493.7 472.5L493.8 471.4L494.0 471.9L494.1 473.3L494.3 470.1L494.5 474.2L494.6 473.8L494.8 475.6L494.9 476.2L495.1 478.6L495.3 481.4L495.4 483.8L495.6 489.3L495.7 491.9L495.9 493.3L496.1 489.0L496.2 490.8L496.4 492.7L496.5 492.7L496.7 492.4L496.9 495.2L497.0 499.0L497.2 505.2L497.3 509.1L497.5 508.3L497.7 510.1L497.8 508.3L498.0 512.1L498.1 511.1L498.3 506.5L498.5 502.4L498.6 497.3L498.8 491.3L498.9 489.9L499.1 494.0L499.3 492.8L499.4 492.2L499.6 489.2L499.7 485.3L499.9 488.2L500.1 484.9L500.2 483.1L500.4 480.3L500.5 479.3L500.7 476.9L500.9 476.2L501.0 471.3L501.2 468.5L501.3 469.2L501.5 463.9L501.7 460.2L501.8 462.5L502.0 465.5L502.1 470.9L502.3 467.9L502.4 470.1L502.6 469.7L502.8 469.3L502.9 473.0L503.1 478.0L503.2 476.9L503.4 475.8L503.6 475.4L503.7 476.4L503.9 473.4L504.0 477.7L504.2 477.1L504.4 474.2L504.5 470.8L504.7 473.6L504.8 481.2L505.0 485.4L505.2 491.1L505.3 499.1L505.5 502.0L505.6 507.2L505.8 513.3L506.0 506.2L506.1 500.4L506.3 492.3L506.4 485.7L506.6 484.3L506.8 480.3L506.9 475.1L507.1 471.1L507.2 472.6L507.4 470.4L507.6 467.2L507.7 466.2L507.9 465.8L508.0 464.8L508.2 459.6L508.4 459.1L508.5 457.7L508.7 462.0L508.8 460.7L509.0 464.8L509.2 465.2L509.3 462.7L509.5 467.4L509.6 465.6L509.8 465.6L510.0 464.0L510.1 465.4L510.3 467.6L510.4 469.7L510.6 471.1L510.8 466.8L510.9 465.3L511.1 468.9L511.2 470.4L511.4 475.8L511.5 480.3L511.7 480.6L511.9 481.3L512.0 481.0L512.2 481.7L512.3 484.2L512.5 488.1L512.7 493.1L512.8 492.1L513.0 492.5L513.1 497.6L513.3 501.2L513.5 503.8L513.6 499.3L513.8 497.9L513.9 499.6L514.1 500.1L514.3 507.2L514.4 509.5L514.6 512.2L514.7 511.6L514.9 510.9L515.1 511.6L515.2 512.2L515.4 514.3L515.5 517.6L515.7 520.2L515.9 524.0L516.0 522.0L516.2 523.7L516.3 523.3L516.5 524.2L516.7 520.8L516.8 518.6L517.0 513.8L517.1 512.1L517.3 510.5L517.5 506.5L517.6 502.9L517.8 500.1L517.9 498.4L518.1 492.2L518.3 490.9L518.4 486.7L518.6 487.2L518.7 486.6L518.9 481.1L519.1 475.4L519.2 477.1L519.4 474.7L519.5 472.3L519.7 467.6L519.9 463.2L520.0 461.6L520.2 460.0L520.3 455.8L520.5 457.5L520.7 456.7L520.8 453.2L521.0 454.5L521.1 453.1L521.3 454.3L521.4 452.4L521.6 452.4L521.8 448.5L521.9 449.4L522.1 445.8L522.2 446.0L522.4 443.3L522.6 446.6L522.7 451.4L522.9 454.8L523.0 460.3L523.2 459.9L523.4 463.6L523.5 466.8L523.7 463.3L523.8 461.7L524.0 460.2L524.2 460.5L524.3 463.6L524.5 461.5L524.6 466.8L524.8 469.5L525.0 470.2L525.1 475.8L525.3 477.0L525.4 480.4L525.6 482.5L525.8 482.6L525.9 486.8L526.1 489.8L526.2 490.0L526.4 486.7L526.6 485.9L526.7 488.2L526.9 488.5L527.0 493.7L527.2 494.9L527.4 496.0L527.5 498.4L527.7 498.3L527.8 500.3L528.0 501.2L528.2 498.1L528.3 496.9L528.5 501.8L528.6 501.8L528.8 502.1L529.0 498.6L529.1 496.4L529.3 497.7L529.4 497.3L529.6 496.0L529.8 500.4L529.9 500.7L530.1 500.8L530.2 504.7L530.4 501.7L530.5 503.3L530.7 497.7L530.9 492.8L531.0 488.3L531.2 485.0L531.3 481.4L531.5 477.7L531.7 474.8L531.8 474.7L532.0 475.6L532.1 474.0L532.3 472.6L532.5 468.2L532.6 465.8L532.8 468.0L532.9 469.4L533.1 473.0L533.3 469.7L533.4 477.4L533.6 475.8L533.7 478.0L533.9 483.1L534.1 482.4L534.2 484.5L534.4 482.6L534.5 481.6L534.7 477.8L534.9 478.1L535.0 478.7L535.2 477.4L535.3 479.5L535.5 481.6L535.7 480.0L535.8 479.1L536.0 479.5L536.1 480.0L536.3 484.9L536.5 487.3L536.6 488.2L536.8 489.4L536.9 491.8L537.1 490.4L537.3 489.9L537.4 488.6L537.6 490.3L537.7 491.9L537.9 486.9L538.1 484.9L538.2 484.9L538.4 482.4L538.5 483.2L538.7 482.3L538.9 482.4L539.0 481.3L539.2 481.3L539.3 482.8L539.5 480.7L539.7 479.9L539.8 478.9L540.0 484.6L540.1 487.3L540.3 489.5L540.4 491.0L540.6 490.1L540.8 489.1L540.9 492.0L541.1 492.1L541.2 497.0L541.4 498.4L541.6 498.6L541.7 497.3L541.9 496.6L542.0 496.5L542.2 499.8L542.4 505.4L542.5 502.4L542.7 501.8L542.8 502.9L543.0 500.3L543.2 499.1L543.3 497.9L543.5 492.2L543.6 493.9L543.8 493.1L544.0 492.1L544.1 491.2L544.3 490.2L544.4 494.3L544.6 493.2L544.8 493.8L544.9 491.3L545.1 492.0L545.2 492.3L545.4 492.8L545.6 491.6L545.7 490.7L545.9 492.8L546.0 495.7L546.2 496.0L546.4 493.3L546.5 492.6L546.7 485.0L546.8 486.0L547.0 484.5L547.2 485.6L547.3 488.9L547.5 487.8L547.6 490.2L547.8 488.8L548.0 490.0L548.1 490.2L548.3 492.3L548.4 497.3L548.6 496.4L548.8 496.0L548.9 496.6L549.1 499.1L549.2 508.5L549.4 509.7L549.5 507.3L549.7 508.4L549.9 507.6L550.0 509.7L550.2 509.7L550.3 507.1L550.5 504.6L550.7 498.6L550.8 497.6L551.0 494.4L551.1 496.3L551.3 497.8L551.5 494.7L551.6 492.8L551.8 491.3L551.9 491.7L552.1 486.5L552.3 484.8L552.4 488.1L552.6 486.4L552.7 485.6L552.9 483.7L553.1 478.8L553.2 479.3L553.4 478.8L553.5 478.0L553.7 478.7L553.9 479.2L554.0 473.7L554.2 474.2L554.3 471.9L554.5 471.7L554.7 472.8L554.8 473.3L555.0 478.2L555.1 480.6L555.3 483.1L555.5 485.5L555.6 489.5L555.8 493.5L555.9 491.5L556.1 493.3L556.3 496.0L556.4 501.0L556.6 507.3L556.7 507.5L556.9 514.6L557.1 516.7L557.2 520.1L557.4 521.4L557.5 521.7L557.7 526.3L557.9 527.2L558.0 528.7L558.2 533.0L558.3 538.1L558.5 535.1L558.7 532.4L558.8 529.8L559.0 531.7L559.1 535.3L559.3 532.6L559.4 530.6L559.6 530.1L559.8 531.5L559.9 530.4L560.1 532.1L560.2 530.0L560.4 523.9L560.6 521.5L560.7 522.5L560.9 526.0L561.0 521.8L561.2 517.7L561.4 518.4L561.5 511.0L561.7 514.9L561.8 519.0L562.0 512.8L562.2 515.7L562.3 515.3L562.5 518.7L562.6 519.7L562.8 518.1L563.0 516.9L563.1 517.6L563.3 516.8L563.4 515.3L563.6 510.1L563.8 509.6L563.9 508.5L564.1 512.2L564.2 512.3L564.4 512.1L564.6 510.2L564.7 511.1L564.9 510.4L565.0 508.7L565.2 512.3L565.4 515.1L565.5 511.3L565.7 506.2L565.8 505.7L566.0 501.3L566.2 506.2L566.3 503.6L566.5 503.2L566.6 497.1L566.8 493.1L567.0 492.4L567.1 490.1L567.3 485.8L567.4 488.5L567.6 487.3L567.8 484.8L567.9 481.4L568.1 478.9L568.2 480.7L568.4 479.6L568.5 480.4L568.7 478.9L568.9 482.4L569.0 482.8L569.2 485.1L569.3 486.0L569.5 483.1L569.7 482.7L569.8 482.9L570.0 478.2L570.1 478.4L570.3 485.2L570.5 483.1L570.6 484.0L570.8 480.0L570.9 480.9L571.1 480.0L571.3 482.2L571.4 483.0L571.6 480.6L571.7 484.2L571.9 482.8L572.1 479.7L572.2 479.3L572.4 475.8L572.5 476.3L572.7 475.4L572.9 474.2L573.0 475.1L573.2 471.0L573.3 472.6L573.5 467.1L573.7 470.1L573.8 469.9L574.0 468.3L574.1 466.9L574.3 468.5L574.5 468.8L574.6 469.0L574.8 471.8L574.9 470.8L575.1 470.5L575.3 471.7L575.4 474.4L575.6 474.0L575.7 474.5L575.9 474.6L576.1 476.6L576.2 480.6L576.4 477.1L576.5 475.2L576.7 473.6L576.9 473.3L577.0 476.1L577.2 475.1L577.3 474.7L577.5 476.5L577.6 474.5L577.8 474.3L578.0 474.4L578.1 475.8L578.3 478.2L578.4 478.1L578.6 483.1L578.8 482.0L578.9 481.7L579.1 484.4L579.2 486.2L579.4 486.3L579.6 487.5L579.7 489.7L579.9 490.6L580.0 493.2L580.2 491.2L580.4 491.4L580.5 487.7L580.7 485.8L580.8 483.8L581.0 487.3L581.2 486.8L581.3 488.6L581.5 487.9L581.6 489.0L581.8 490.2L582.0 489.1L582.1 492.5L582.3 489.4L582.4 492.3L582.6 498.7L582.8 495.9L582.9 495.3L583.1 490.5L583.2 490.1L583.4 486.6L583.6 490.1L583.7 492.7L583.9 491.4L584.0 491.5L584.2 490.7L584.4 493.5L584.5 499.0L584.7 501.5L584.8 501.6L585.0 502.0L585.2 505.4L585.3 502.4L585.5 507.1L585.6 511.0L585.8 507.3L586.0 512.9L586.1 511.5L586.3 514.0L586.4 520.4L586.6 517.4L586.8 513.0L586.9 510.1L587.1 507.3L587.2 507.2L587.4 505.9L587.5 504.8L587.7 504.9L587.9 505.7L588.0 504.3L588.2 506.0L588.3 506.6L588.5 504.7L588.7 509.7L588.8 505.9L589.0 506.1L589.1 502.2L589.3 501.1L589.5 500.0L589.6 499.3L589.8 500.4L589.9 496.2L590.1 500.6L590.3 498.8L590.4 494.3L590.6 488.6L590.7 491.4L590.9 493.2L591.1 491.9L591.2 493.1L591.4 495.2L591.5 494.9L591.7 494.1L591.9 494.0L592.0 496.8L592.2 498.5L592.3 496.8L592.5 499.8L592.7 496.6L592.8 496.1L593.0 500.1L593.1 501.3L593.3 502.8L593.5 502.4L593.6 504.8L593.8 505.5L593.9 501.1L594.1 501.9L594.3 494.8L594.4 490.4L594.6 495.7L594.7 499.7L594.9 500.3L595.1 501.2L595.2 502.2L595.4 505.8L595.5 505.2L595.7 504.2L595.9 503.6L596.0 505.2L596.2 507.3L596.3 507.8L596.5 511.2L596.6 509.7L596.8 510.8L597.0 510.7L597.1 509.8L597.3 514.9L597.4 515.7L597.6 514.6L597.8 515.3L597.9 511.3L598.1 511.6L598.2 512.0L598.4 512.5L598.6 507.6L598.7 504.3L598.9 506.4L599.0 504.0L599.2 507.3L599.4 510.7L599.5 506.4L599.7 508.9L599.8 510.2L600.0 511.9L600.2 515.6L600.3 515.8L600.5 515.9L600.6 517.1L600.8 516.3L601.0 517.9L601.1 513.3L601.3 517.7L601.4 515.3L601.6 515.5L601.8 515.6L601.9 514.9L602.1 514.3L602.2 513.7L602.4 509.4L602.6 508.2L602.7 512.4L602.9 510.8L603.0 509.1L603.2 514.6L603.4 517.6L603.5 521.6L603.7 520.9L603.8 521.0L604.0 523.2L604.2 525.5L604.3 526.3L604.5 523.8L604.6 523.2L604.8 520.4L605.0 524.1L605.1 522.8L605.3 521.9L605.4 522.3L605.6 521.1L605.8 521.9L605.9 521.9L606.1 519.8L606.2 526.1L606.4 526.2L606.5 526.9L606.7 527.0L606.9 527.1L607.0 529.2L607.2 531.7L607.3 530.1L607.5 531.5L607.7 530.3L607.8 533.9L608.0 531.8L608.1 530.9L608.3 531.5L608.5 526.9L608.6 526.0L608.8 524.8L608.9 521.4L609.1 519.4L609.3 519.8L609.4 518.0L609.6 514.4L609.7 510.9L609.9 508.6L610.1 509.0L610.2 509.0L610.4 509.4L610.5 511.5L610.7 506.8L610.9 502.7L611.0 496.6L611.2 498.6L611.3 493.6L611.5 493.7L611.7 495.2L611.8 491.2L612.0 489.2L612.1 487.7L612.3 488.6L612.5 484.2L612.6 483.5L612.8 483.6L612.9 482.2L613.1 482.5L613.3 485.9L613.4 487.0L613.6 487.5L613.7 487.2L613.9 489.1L614.1 488.5L614.2 488.8L614.4 487.6L614.5 488.7L614.7 485.1L614.9 483.3L615.0 482.3L615.2 482.8L615.3 485.1L615.5 485.7L615.6 488.0L615.8 492.7L616.0 494.9L616.1 492.9L616.3 490.2L616.4 492.5L616.6 492.5L616.8 494.5L616.9 495.1L617.1 499.0L617.2 503.2L617.4 501.4L617.6 503.2L617.7 503.4L617.9 500.9L618.0 502.5L618.2 500.1L618.4 499.3L618.5 503.7L618.7 504.6L618.8 505.3L619.0 502.2L619.2 498.7L619.3 501.7L619.5 500.7L619.6 500.9L619.8 500.0L620.0 499.9L620.1 504.1L620.3 501.6L620.4 499.5L620.6 498.7L620.8 498.2L620.9 495.0L621.1 491.6L621.2 492.4L621.4 494.3L621.6 494.9L621.7 495.1L621.9 495.1L622.0 496.2L622.2 498.3L622.4 496.9L622.5 498.0L622.7 500.9L622.8 502.4L623.0 501.4L623.2 500.4L623.3 500.1L623.5 501.8L623.6 497.5L623.8 498.6L624.0 497.1L624.1 498.5L624.3 501.8L624.4 501.1L624.6 501.0L624.8 502.7L624.9 506.3L625.1 506.1L625.2 502.9L625.4 501.3L625.5 502.3L625.7 505.3L625.9 504.5L626.0 503.8L626.2 503.3L626.3 503.5L626.5 502.5L626.7 502.8L626.8 504.7L627.0 506.5L627.1 507.8L627.3 506.0L627.5 505.1L627.6 502.4L627.8 503.8L627.9 506.2L628.1 506.0L628.3 508.6L628.4 506.7L628.6 505.0L628.7 501.1L628.9 502.9L629.1 503.9L629.2 506.1L629.4 509.1L629.5 510.1L629.7 508.9L629.9 510.2L630.0 511.2L630.2 509.9L630.3 509.7L630.5 507.2L630.7 504.7L630.8 507.2L631.0 508.0L631.1 505.9L631.3 501.4L631.5 498.4L631.6 497.8L631.8 498.8L631.9 503.3L632.1 501.5L632.3 500.7L632.4 498.6L632.6 497.5L632.7 495.5L632.9 491.9L633.1 493.3L633.2 492.2L633.4 494.4L633.5 492.7L633.7 492.2L633.9 493.2L634.0 488.7L634.2 486.1L634.3 488.6L634.5 489.7L634.6 486.0L634.8 484.6L635.0 481.5L635.1 479.8L635.3 483.0L635.4 480.3L635.6 483.3L635.8 480.3L635.9 475.5L636.1 478.0L636.2 480.0L636.4 484.1L636.6 489.6L636.7 492.7L636.9 496.6L637.0 493.1L637.2 491.1L637.4 492.3L637.5 492.8L637.7 494.6L637.8 492.9L638.0 494.6L638.2 498.3L638.3 498.1L638.5 498.1L638.6 497.1L638.8 497.4L639.0 497.0L639.1 494.9L639.3 495.1L639.4 496.8L639.6 495.0L639.8 497.3L639.9 498.8L640.1 501.0L640.2 501.3L640.4 501.5L640.6 501.7L640.7 498.9L640.9 499.0L641.0 499.9L641.2 501.2L641.4 499.4L641.5 498.1L641.7 499.6L641.8 498.6L642.0 506.3L642.2 506.5L642.3 506.6L642.5 510.3L642.6 509.2L642.8 504.3L643.0 504.6L643.1 502.8L643.3 502.2L643.4 499.3L643.6 499.4L643.8 502.9L643.9 506.2L644.1 507.0L644.2 508.6L644.4 509.5L644.5 512.7L644.7 514.5L644.9 513.6L645.0 517.0L645.2 516.9L645.3 519.5L645.5 518.7L645.7 517.2L645.8 514.9L646.0 512.8L646.1 512.2L646.3 511.2L646.5 510.2L646.6 512.2L646.8 511.7L646.9 514.2L647.1 511.4L647.3 508.3L647.4 509.6L647.6 509.3L647.7 511.7L647.9 511.2L648.1 511.0L648.2 507.3L648.4 505.3L648.5 505.7L648.7 505.4L648.9 505.3L649.0 504.4L649.2 501.3L649.3 498.7L649.5 494.9L649.7 494.9L649.8 493.0L650.0 489.5L650.1 488.0L650.3 484.1L650.5 484.6L650.6 488.5L650.8 489.5L650.9 488.1L651.1 484.4L651.3 489.8L651.4 492.0L651.6 489.3L651.7 490.4L651.9 484.8L652.1 482.1L652.2 480.0L652.4 477.3L652.5 473.1L652.7 478.0L652.9 476.4L653.0 476.4L653.2 475.3L653.3 470.1L653.5 468.0L653.6 467.6L653.8 469.7L654.0 470.7L654.1 472.8L654.3 473.3L654.4 476.2L654.6 472.8L654.8 477.0L654.9 479.1L655.1 480.7L655.2 477.2L655.4 477.4L655.6 481.7L655.7 489.7L655.9 489.5L656.0 488.4L656.2 489.9L656.4 490.9L656.5 490.2L656.7 489.9L656.8 488.6L657.0 489.7L657.2 491.8L657.3 495.8L657.5 498.0L657.6 498.9L657.8 498.7L658.0 500.2L658.1 498.1L658.3 503.6L658.4 504.6L658.6 508.4L658.8 507.4L658.9 510.8L659.1 512.3L659.2 511.8L659.4 510.4L659.6 508.3L659.7 513.1L659.9 517.1L660.0 518.3L660.2 517.8L660.4 515.0L660.5 510.2L660.7 505.7L660.8 504.0L661.0 503.3L661.2 500.8L661.3 502.6L661.5 503.3L661.6 503.3L661.8 499.3L662.0 498.1L662.1 499.4L662.3 498.8L662.4 495.7L662.6 501.5L662.8 504.1L662.9 504.2L663.1 508.2L663.2 509.6L663.4 509.9L663.5 509.9L663.7 510.9L663.9 514.8L664.0 515.2L664.2 513.1L664.3 513.0L664.5 505.1L664.7 504.4L664.8 502.5L665.0 501.5L665.1 500.6L665.3 500.1L665.5 499.2L665.6 497.9L665.8 496.5L665.9 496.5L666.1 494.1L666.3 495.6L666.4 490.9L666.6 490.3L666.7 490.5L666.9 486.6L667.1 485.7L667.2 488.1L667.4 487.2L667.5 484.3L667.7 475.6L667.9 474.7L668.0 473.7L668.2 475.1L668.3 479.8L668.5 478.7L668.7 477.8L668.8 474.9L669.0 473.8L669.1 475.2L669.3 478.4L669.5 481.4L669.6 480.9L669.8 480.6L669.9 484.6L670.1 483.1L670.3 485.4L670.4 489.6L670.6 491.3L670.7 492.5L670.9 495.8L671.1 495.9L671.2 493.5L671.4 491.0L671.5 491.8L671.7 492.0L671.9 494.3L672.0 492.4L672.2 492.5L672.3 492.5L672.5 494.7L672.6 495.7L672.8 501.0L673.0 504.5L673.1 502.4L673.3 495.1L673.4 490.4L673.6 493.7L673.8 494.1L673.9 495.1L674.1 494.5L674.2 495.3L674.4 490.8L674.6 485.9L674.7 481.9L674.9 482.3L675.0 484.9L675.2 488.5L675.4 490.2L675.5 488.6L675.7 492.2L675.8 493.6L676.0 495.9L676.2 498.3L676.3 499.4L676.5 500.2L676.6 500.9L676.8 500.5L677.0 503.3L677.1 505.7L677.3 511.0L677.4 509.6L677.6 515.1L677.8 518.2L677.9 520.8L678.1 521.7L678.2 521.5L678.4 519.9L678.6 524.0L678.7 525.5L678.9 529.2L679.0 532.5L679.2 531.9L679.4 532.1L679.5 531.8L679.7 535.0L679.8 535.7L680.0 536.6L680.2 536.6L680.3 534.1L680.5 537.2L680.6 533.1L680.8 534.1L681.0 535.4L681.1 533.6L681.3 538.1L681.4 541.3L681.6 546.3L681.7 546.4L681.9 544.1L682.1 539.7L682.2 537.3L682.4 539.7L682.5 537.7L682.7 530.9L682.9 527.0L683.0 523.7L683.2 525.8L683.3 523.7L683.5 519.1L683.7 520.2L683.8 518.9L684.0 518.7L684.1 515.8L684.3 518.1L684.5 517.0L684.6 511.4L684.8 508.0L684.9 505.3L685.1 504.0L685.3 504.9L685.4 501.8L685.6 498.7L685.7 502.4L685.9 500.9L686.1 497.8L686.2 496.1L686.4 490.8L686.5 490.5L686.7 491.2L686.9 488.4L687.0 489.6L687.2 487.8L687.3 487.5L687.5 485.0L687.7 482.3L687.8 479.9L688.0 483.6L688.1 486.4L688.3 489.0L688.5 489.1L688.6 488.9L688.8 490.0L688.9 493.0L689.1 495.5L689.3 494.8L689.4 496.0L689.6 500.2L689.7 500.8L689.9 502.4L690.1 500.0L690.2 499.8L690.4 495.7L690.5 496.2L690.7 491.9L690.9 489.7L691.0 485.5L691.2 476.9L691.3 470.0L691.5 469.6L691.6 467.6L691.8 467.8L692.0 465.2L692.1 455.0L692.3 452.8L692.4 449.0L692.6 445.4L692.8 441.9L692.9 437.8L693.1 433.4L693.2 433.9L693.4 432.2L693.6 427.7L693.7 423.9L693.9 424.3L694.0 424.2L694.2 424.2L694.4 420.3L694.5 418.8L694.7 418.8L694.8 417.2L695.0 422.2L695.2 423.4L695.3 424.1L695.5 423.0L695.6 425.1L695.8 430.5L696.0 432.1L696.1 434.1L696.3 430.5L696.4 430.9L696.6 433.1L696.8 439.4L696.9 442.1L697.1 441.9L697.2 443.8L697.4 444.9L697.6 451.3L697.7 457.3L697.9 462.5L698.0 467.8L698.2 474.2L698.4 477.7L698.5 479.9L698.7 476.5L698.8 480.1L699.0 482.6L699.2 485.0L699.3 485.8L699.5 490.2L699.6 488.9L699.8 493.0L700.0 492.4L700.1 492.6L700.3 491.6L700.4 493.8L700.6 496.2L700.7 500.4L700.9 501.9L701.1 501.2L701.2 505.0L701.4 511.0L701.5 515.7L701.7 517.8L701.9 520.5L702.0 518.5L702.2 519.9L702.3 525.1L702.5 528.4L702.7 527.9L702.8 531.2L703.0 531.9L703.1 534.9L703.3 532.8L703.5 532.5L703.6 531.8L703.8 530.1L703.9 528.9L704.1 526.4L704.3 523.4L704.4 522.2L704.6 521.5L704.7 514.6L704.9 510.9L705.1 507.3L705.2 505.2L705.4 505.5L705.5 500.2L705.7 499.9L705.9 494.3L706.0 491.2L706.2 489.0L706.3 487.2L706.5 485.1L706.7 484.0L706.8 483.3L707.0 482.4L707.1 477.4L707.3 472.6L707.5 469.9L707.6 469.9L707.8 471.1L707.9 476.0L708.1 473.9L708.3 469.9L708.4 468.3L708.6 469.1L708.7 470.8L708.9 470.1L709.1 471.1L709.2 472.8L709.4 471.5L709.5 470.3L709.7 472.6L709.9 466.6L710.0 466.5L710.2 464.6L710.3 466.6L710.5 466.4L710.6 461.9L710.8 462.6L711.0 458.6L711.1 461.0L711.3 463.1L711.4 460.4L711.6 462.0L711.8 462.6L711.9 460.9L712.1 464.0L712.2 465.2L712.4 467.7L712.6 470.7L712.7 474.0L712.9 476.7L713.0 476.9L713.2 477.3L713.4 478.6L713.5 478.1L713.7 475.8L713.8 478.5L714.0 478.1L714.2 481.2L714.3 478.0L714.5 476.5L714.6 477.5L714.8 478.7L715.0 480.4L715.1 482.5L715.3 484.0L715.4 490.5L715.6 493.5L715.8 493.0L715.9 492.7L716.1 495.7L716.2 498.8L716.4 499.0L716.6 501.5L716.7 495.3L716.9 491.3L717.0 492.7L717.2 483.8L717.4 481.1L717.5 481.8L717.7 483.7L717.8 484.5L718.0 484.5L718.2 481.6L718.3 480.8L718.5 483.2L718.6 485.6L718.8 489.5L719.0 492.6L719.1 496.4L719.3 495.9L719.4 499.1L719.6 498.8L719.7 495.9L719.9 491.1L720.1 482.6L720.2 480.2L720.4 478.1L720.5 479.8L720.7 477.5L720.9 477.1L721.0 474.3L721.2 469.4L721.3 467.5L721.5 461.7L721.7 461.2L721.8 459.9L722.0 456.1L722.1 457.3L722.3 458.1L722.5 457.7L722.6 460.2L722.8 464.8L722.9 465.4L723.1 463.8L723.3 462.9L723.4 466.1L723.6 466.0L723.7 459.3L723.9 459.0L724.1 455.8L724.2 456.4L724.4 456.0L724.5 452.8L724.7 454.7L724.9 454.3L725.0 454.4L725.2 455.8L725.3 459.0L725.5 464.4L725.7 464.6L725.8 468.6L726.0 470.5L726.1 472.0L726.3 477.3L726.5 478.7L726.6 485.1L726.8 487.8L726.9 489.1L727.1 494.7L727.3 495.0L727.4 496.9L727.6 500.8L727.7 504.2L727.9 506.9L728.1 505.5L728.2 505.3L728.4 509.3L728.5 512.5L728.7 509.6L728.9 508.7L729.0 507.5L729.2 508.0L729.3 504.2L729.5 505.6L729.6 502.6L729.8 503.7L730.0 503.6L730.1 499.0L730.3 496.6L730.4 495.4L730.6 496.2L730.8 491.8L730.9 489.5L731.1 489.6L731.2 489.8L731.4 486.5L731.6 482.3L731.7 480.2L731.9 475.5L732.0 473.7L732.2 472.8L732.4 469.3L732.5 459.3L732.7 460.0L732.8 460.2L733.0 461.3L733.2 460.7L733.3 453.5L733.5 454.0L733.6 454.8L733.8 457.3L734.0 457.3L734.1 456.7L734.3 456.9L734.4 461.4L734.6 462.8L734.8 463.0L734.9 460.3L735.1 461.5L735.2 462.0L735.4 462.9L735.6 466.1L735.7 468.9L735.9 470.0L736.0 471.5L736.2 473.0L736.4 476.0L736.5 479.0L736.7 481.3L736.8 481.1L737.0 485.2L737.2 490.1L737.3 490.6L737.5 494.3L737.6 496.4L737.8 494.8L738.0 498.2L738.1 504.0L738.3 506.1L738.4 508.3L738.6 511.4L738.7 507.3L738.9 504.0L739.1 502.1L739.2 502.2L739.4 502.7L739.5 500.3L739.7 498.1L739.9 496.6L740.0 494.2L740.2 490.1L740.3 485.1L740.5 484.7L740.7 486.0L740.8 494.4L741.0 497.1L741.1 496.1L741.3 497.0L741.5 498.7L741.6 498.3L741.8 496.8L741.9 495.3L742.1 492.4L742.3 491.4L742.4 493.7L742.6 489.7L742.7 485.7L742.9 484.2L743.1 484.2L743.2 483.6L743.4 483.7L743.5 480.4L743.7 477.0L743.9 476.6L744.0 476.3L744.2 478.8L744.3 481.6L744.5 476.1L744.7 474.7L744.8 470.1L745.0 462.9L745.1 462.3L745.3 459.9L745.5 457.7L745.6 451.6L745.8 445.0L745.9 440.4L746.1 432.6L746.3 428.1L746.4 426.7L746.6 424.7L746.7 423.7L746.9 421.1L747.1 418.0L747.2 419.6L747.4 423.9L747.5 430.8L747.7 436.0L747.9 438.5L748.0 442.0L748.2 440.8L748.3 441.8L748.5 444.8L748.6 448.5L748.8 451.3L749.0 454.1L749.1 454.8L749.3 456.9L749.4 460.5L749.6 458.9L749.8 458.4L749.9 460.0L750.1 466.0L750.2 470.1L750.4 476.1L750.6 481.0L750.7 481.3L750.9 483.1L751.0 482.4L751.2 487.5L751.4 491.9L751.5 495.7L751.7 499.4L751.8 502.0L752.0 504.3L752.2 506.9L752.3 511.7L752.5 511.7L752.6 504.8L752.8 499.4L753.0 496.8L753.1 492.8L753.3 487.8L753.4 485.6L753.6 482.8L753.8 476.3L753.9 471.9L754.1 464.2L754.2 461.5L754.4 458.2L754.6 458.6L754.7 467.1L754.9 468.8L755.0 472.0L755.2 474.2L755.4 470.8L755.5 472.9L755.7 470.8L755.8 471.0L756.0 468.8L756.2 464.9L756.3 465.3L756.5 463.8L756.6 460.7L756.8 458.2L757.0 456.1L757.1 456.8L757.3 458.9L757.4 453.9L757.6 454.9L757.7 452.9L757.9 452.3L758.1 453.5L758.2 450.1L758.4 450.9L758.5 447.0L758.7 447.2L758.9 446.7L759.0 452.1L759.2 457.2L759.3 459.4L759.5 460.7L759.7 458.5L759.8 462.3L760.0 465.7L760.1 467.8L760.3 467.8L760.5 467.1L760.6 467.1L760.8 470.6L760.9 468.4L761.1 468.6L761.3 472.2L761.4 473.7L761.6 478.0L761.7 479.3L761.9 480.9L762.1 485.6L762.2 488.3L762.4 491.0L762.5 491.8L762.7 490.3L762.9 496.4L763.0 498.5L763.2 500.1L763.3 505.4L763.5 506.0L763.7 505.1L763.8 505.6L764.0 507.1L764.1 509.6L764.3 512.4L764.5 516.2L764.6 516.5L764.8 517.6L764.9 517.2L765.1 515.5L765.3 516.7L765.4 517.7L765.6 521.6L765.7 521.2L765.9 518.0L766.1 518.2L766.2 516.6L766.4 519.9L766.5 516.1L766.7 517.2L766.9 519.0L767.0 522.5L767.2 525.5L767.3 524.1L767.5 522.1L767.6 524.0L767.8 529.3L768.0 534.8L768.1 535.2L768.3 536.9L768.4 535.7L768.6 531.2L768.8 531.9L768.9 531.2L769.1 528.2L769.2 524.9L769.4 524.3L769.6 523.0L769.7 521.2L769.9 520.5L770.0 519.2L770.2 517.4L770.4 514.6L770.5 515.6L770.7 515.6L770.8 514.0L771.0 519.2L771.2 523.4L771.3 526.1L771.5 527.2L771.6 526.2L771.8 521.3L772.0 520.3L772.1 520.1L772.3 519.2L772.4 519.9L772.6 517.1L772.8 516.7L772.9 512.3L773.1 511.5L773.2 509.6L773.4 505.6L773.6 505.1L773.7 507.0L773.9 507.3L774.0 511.1L774.2 510.4L774.4 513.8L774.5 516.6L774.7 515.8L774.8 519.9L775.0 517.7L775.2 520.4L775.3 522.5L775.5 526.1L775.6 523.2L775.8 520.5L776.0 518.9L776.1 519.5L776.3 520.9L776.4 521.7L776.6 522.6L776.7 522.8L776.9 521.6L777.1 522.4L777.2 525.7L777.4 530.0L777.5 530.9L777.7 535.3L777.9 534.2L778.0 538.5L778.2 538.8L778.3 541.7L778.5 542.2L778.7 539.0L778.8 537.0L779.0 539.2L779.1 536.5L779.3 536.5L779.5 535.4L779.6 534.5L779.8 533.9L779.9 534.0L780.1 529.9L780.3 529.0L780.4 528.7L780.6 527.7L780.7 530.4L780.9 529.2L781.1 531.9L781.2 531.6L781.4 532.2L781.5 535.1L781.7 539.0L781.9 538.9L782.0 538.1L782.2 541.3L782.3 535.4L782.5 539.5L782.7 541.3L782.8 538.0L783.0 540.3L783.1 540.0L783.3 540.4L783.5 534.7L783.6 532.9L783.8 532.9L783.9 532.5L784.1 532.4L784.3 532.0L784.4 525.6L784.6 525.5L784.7 524.3L784.9 524.0L785.1 522.8L785.2 521.6L785.4 521.1L785.5 524.0L785.7 520.5L785.9 522.6L786.0 520.5L786.2 516.7L786.3 512.0L786.5 512.7L786.6 508.0L786.8 508.8L787.0 508.0L787.1 504.5L787.3 500.9L787.4 499.8L787.6 498.7L787.8 499.7L787.9 498.6L788.1 496.2L788.2 496.5L788.4 493.2L788.6 495.8L788.7 498.6L788.9 498.0L789.0 497.6L789.2 498.8L789.4 496.7L789.5 501.7L789.7 505.2L789.8 503.8L790.0 505.2L790.2 510.8L790.3 513.4L790.5 512.8L790.6 507.5L790.8 502.9L791.0 505.5L791.1 506.4L791.3 503.3L791.4 504.5L791.6 504.2L791.8 505.0L791.9 506.4L792.1 507.2L792.2 512.9L792.4 512.5L792.6 511.4L792.7 511.7L792.9 512.6L793.0 507.7L793.2 510.0L793.4 509.9L793.5 504.3L793.7 508.1L793.8 503.6L794.0 504.7L794.2 501.8L794.3 496.9L794.5 498.7L794.6 499.3L794.8 499.1L795.0 499.1L795.1 497.9L795.3 496.6L795.4 493.7L795.6 496.0L795.7 498.6L795.9 500.6L796.1 502.0L796.2 503.4L796.4 502.4L796.5 504.1L796.7 503.5L796.9 508.0L797.0 507.0L797.2 506.7L797.3 506.9L797.5 508.8L797.7 510.4L797.8 510.1L798.0 514.9L798.1 514.4L798.3 514.7L798.5 521.2L798.6 518.1L798.8 519.3L798.9 519.7L799.1 516.0L799.3 514.5L799.4 516.3L799.6 513.8L799.7 515.6L799.9 519.9L800.1 521.3L800.2 524.4L800.4 524.6L800.5 524.7L800.7 523.9L800.9 523.5L801.0 525.5L801.2 525.4L801.3 529.6L801.5 530.5L801.7 527.9L801.8 530.4L802.0 527.2L802.1 522.4L802.3 520.0L802.5 514.7L802.6 514.2L802.8 515.7L802.9 514.9L803.1 511.7L803.3 509.1L803.4 507.7L803.6 508.7L803.7 506.4L803.9 503.9L804.1 505.1L804.2 504.4L804.4 504.0L804.5 503.9L804.7 500.3L804.8 498.5L805.0 499.5L805.2 497.0L805.3 494.7L805.5 493.4L805.6 491.4L805.8 494.7L806.0 489.9L806.1 487.7L806.3 489.8L806.4 487.0L806.6 487.7L806.8 484.9L806.9 487.8L807.1 491.0L807.2 493.8L807.4 494.4L807.6 495.6L807.7 496.1L807.9 499.1L808.0 501.0L808.2 504.7L808.4 503.4L808.5 504.2L808.7 497.3L808.8 497.1L809.0 499.4L809.2 499.1L809.3 505.0L809.5 502.4L809.6 504.1L809.8 505.3L810.0 506.8L810.1 509.1L810.3 508.6L810.4 509.4L810.6 514.7L810.8 512.8L810.9 513.6L811.1 508.9L811.2 506.8L811.4 506.8L811.6 504.7L811.7 501.8L811.9 499.7L812.0 498.6L812.2 499.6L812.4 501.5L812.5 497.1L812.7 491.3L812.8 490.2L813.0 489.1L813.2 490.1L813.3 492.0L813.5 489.0L813.6 494.3L813.8 495.6L814.0 492.8L814.1 496.8L814.3 499.0L814.4 501.7L814.6 498.7L814.7 497.0L814.9 496.2L815.1 494.4L815.2 494.7L815.4 495.5L815.5 497.4L815.7 499.9L815.9 499.0L816.0 503.2L816.2 504.8L816.3 508.2L816.5 509.4L816.7 507.7L816.8 504.1L817.0 506.9L817.1 508.3L817.3 511.1L817.5 515.6L817.6 512.6L817.8 508.9L817.9 510.2L818.1 511.8L818.3 512.3L818.4 511.7L818.6 508.6L818.7 509.9L818.9 509.6L819.1 512.1L819.2 515.4L819.4 514.3L819.5 515.6L819.7 516.7L819.9 519.0L820.0 523.2L820.2 522.6L820.3 522.2L820.5 521.6L820.7 518.0L820.8 515.2L821.0 513.7L821.1 514.6L821.3 516.0L821.5 519.4L821.6 515.2L821.8 513.2L821.9 507.4L822.1 505.0L822.3 500.5L822.4 502.2L822.6 502.5L822.7 497.7L822.9 496.2L823.1 495.1L823.2 496.6L823.4 496.1L823.5 493.7L823.7 491.2L823.8 490.4L824.0 489.6L824.2 487.2L824.3 482.8L824.5 483.9L824.6 480.6L824.8 478.7L825.0 479.1L825.1 479.4L825.3 483.7L825.4 482.8L825.6 486.2L825.8 485.0L825.9 483.7L826.1 483.9L826.2 487.0L826.4 488.5L826.6 487.9L826.7 493.2L826.9 492.9L827.0 494.8L827.2 497.9L827.4 498.7L827.5 502.0L827.7 505.9L827.8 507.9L828.0 513.1L828.2 512.5L828.3 510.9L828.5 512.6L828.6 511.4L828.8 513.5L829.0 515.1L829.1 515.3L829.3 517.9L829.4 520.0L829.6 514.1L829.8 514.7L829.9 516.2L830.1 518.6L830.2 519.2L830.4 518.0L830.6 519.8L830.7 523.7L830.9 521.4L831.0 520.1L831.2 521.1L831.4 517.3L831.5 518.7L831.7 522.8L831.8 521.8L832.0 523.2L832.2 521.8L832.3 523.2L832.5 525.2L832.6 528.6L832.8 528.7L833.0 531.1L833.1 529.9L833.3 525.2L833.4 525.3L833.6 520.7L833.7 518.1L833.9 521.2L834.1 521.6L834.2 520.4L834.4 521.7L834.5 521.3L834.7 522.5L834.9 520.6L835.0 521.9L835.2 516.1L835.3 515.2L835.5 514.6L835.7 515.0L835.8 518.9L836.0 512.9L836.1 508.5L836.3 504.9L836.5 502.8L836.6 505.0L836.8 503.9L836.9 502.0L837.1 498.8L837.3 496.7L837.4 495.2L837.6 494.3L837.7 490.4L837.9 489.2L838.1 489.6L838.2 490.0L838.4 486.9L838.5 488.8L838.7 490.6L838.9 491.7L839.0 489.6L839.2 487.9L839.3 489.8L839.5 489.1L839.7 487.4L839.8 490.5L840.0 493.6L840.1 495.4L840.3 498.4L840.5 500.0L840.6 496.5L840.8 498.6L840.9 498.0L841.1 498.5L841.3 502.0L841.4 502.7L841.6 506.5L841.7 507.1L841.9 506.8L842.1 506.2L842.2 507.2L842.4 505.5L842.5 508.3L842.7 510.6L842.8 512.1L843.0 509.1L843.2 507.2L843.3 512.0L843.5 513.2L843.6 520.0L843.8 521.3L844.0 524.4L844.1 520.4L844.3 517.1L844.4 515.6L844.6 515.9L844.8 518.9L844.9 520.0L845.1 514.9L845.2 512.9L845.4 510.8L845.6 507.6L845.7 507.3L845.9 509.3L846.0 506.3L846.2 507.8L846.4 509.7L846.5 505.4L846.7 508.3L846.8 510.5L847.0 509.5L847.2 510.9L847.3 508.5L847.5 508.7L847.6 508.3L847.8 504.7L848.0 504.5L848.1 504.1L848.3 503.3L848.4 501.5L848.6 500.4L848.8 498.4L848.9 502.4L849.1 499.6L849.2 502.6L849.4 503.5L849.6 502.5L849.7 506.5L849.9 506.4L850.0 510.7L850.2 510.7L850.4 511.7L850.5 511.7L850.7 513.0L850.8 515.4L851.0 514.0L851.2 512.1L851.3 514.5L851.5 511.9L851.6 515.5L851.8 514.1L852.0 512.5L852.1 509.9L852.3 509.7L852.4 508.1L852.6 509.4L852.7 513.8L852.9 516.4L853.1 516.8L853.2 513.9L853.4 511.7L853.5 508.0L853.7 504.6L853.9 508.3L854.0 507.9L854.2 504.5L854.3 504.8L854.5 507.3L854.7 504.8L854.8 502.6L855.0 497.7L855.1 492.6L855.3 494.6L855.5 501.2L855.6 497.5L855.8 491.0L855.9 491.5L856.1 491.7L856.3 491.5L856.4 493.6L856.6 490.8L856.7 489.9L856.9 490.4L857.1 488.9L857.2 491.2L857.4 491.7L857.5 494.3L857.7 496.7L857.9 494.3L858.0 496.7L858.2 495.8L858.3 496.4L858.5 494.8L858.7 498.4L858.8 499.4L859.0 500.4L859.1 504.2L859.3 506.3L859.5 506.5L859.6 501.9L859.8 503.9L859.9 504.1L860.1 504.7L860.3 508.2L860.4 508.0L860.6 509.0L860.7 511.9L860.9 513.4L861.1 512.2L861.2 515.7L861.4 518.1L861.5 522.4L861.7 522.1L861.8 522.4L862.0 525.0L862.2 523.9L862.3 522.9L862.5 521.1L862.6 518.9L862.8 516.6L863.0 514.4L863.1 514.5L863.3 512.5L863.4 508.4L863.6 507.8L863.8 510.6L863.9 512.9L864.1 507.2L864.2 504.3L864.4 505.3L864.6 505.4L864.7 505.4L864.9 504.8L865.0 504.8L865.2 503.2L865.4 506.6L865.5 504.7L865.7 504.9L865.8 509.3L866.0 512.5L866.2 514.1L866.3 515.0L866.5 514.6L866.6 514.6L866.8 515.5L867.0 520.1L867.1 520.1L867.3 522.2L867.4 523.7L867.6 525.0L867.8 525.2L867.9 528.3L868.1 530.0L868.2 531.4L868.4 531.8L868.6 528.0L868.7 531.3L868.9 535.0L869.0 535.3L869.2 535.9L869.4 536.7L869.5 534.5L869.7 537.0L869.8 539.3L870.0 541.9L870.2 543.0L870.3 536.7L870.5 536.2L870.6 533.6L870.8 534.2L871.0 534.9L871.1 536.0L871.3 535.5L871.4 542.0L871.6 541.6L871.7 538.8L871.9 540.7L872.1 535.5L872.2 537.6L872.4 537.8L872.5 538.7L872.7 539.1L872.9 537.5L873.0 532.4L873.2 529.9L873.3 530.8L873.5 530.0L873.7 530.5L873.8 528.2L874.0 525.7L874.1 526.4L874.3 527.5L874.5 527.3L874.6 524.8L874.8 520.7L874.9 525.1L875.1 522.2L875.3 519.7L875.4 517.1L875.6 518.3L875.7 516.0L875.9 516.9L876.1 517.5L876.2 515.4L876.4 516.6L876.5 514.6L876.7 515.4L876.9 518.4L877.0 518.6L877.2 516.0L877.3 514.7L877.5 513.8L877.7 514.4L877.8 508.6L878.0 503.6L878.1 506.5L878.3 508.4L878.5 510.7L878.6 512.7L878.8 513.2L878.9 513.2L879.1 515.0L879.3 518.2L879.4 520.9L879.6 523.1L879.7 522.6L879.9 525.1L880.1 524.0L880.2 523.7L880.4 525.3L880.5 526.5L880.7 530.2L880.8 533.1L881.0 534.3L881.2 532.0L881.3 530.7L881.5 529.3L881.6 532.6L881.8 533.1L882.0 530.9L882.1 529.4L882.3 532.8L882.4 531.9L882.6 534.0L882.8 535.4L882.9 538.4L883.1 535.1L883.2 533.3L883.4 530.9L883.6 529.8L883.7 530.7L883.9 528.3L884.0 525.9L884.2 527.3L884.4 523.9L884.5 525.1L884.7 523.4L884.8 520.8L885.0 517.5L885.2 511.8L885.3 512.1L885.5 512.3L885.6 510.6L885.8 510.6L886.0 507.5L886.1 503.4L886.3 498.4L886.4 497.9L886.6 498.1L886.8 499.1L886.9 494.9L887.1 491.9L887.2 487.0L887.4 488.2L887.6 488.8L887.7 488.5L887.9 487.0L888.0 484.6L888.2 482.0L888.4 483.2L888.5 480.9L888.7 482.3L888.8 482.3L889.0 479.5L889.2 476.4L889.3 474.3L889.5 474.2L889.6 471.5L889.8 473.8L890.0 476.7L890.1 478.3L890.3 474.9L890.4 469.6L890.6 472.1L890.7 476.5L890.9 476.4L891.1 477.5L891.2 475.1L891.4 471.6L891.5 472.4L891.7 468.9L891.9 469.3L892.0 471.5L892.2 469.6L892.3 472.1L892.5 466.9L892.7 467.4L892.8 465.7L893.0 470.5L893.1 470.8L893.3 469.0L893.5 472.9L893.6 469.3L893.8 470.9L893.9 469.5L894.1 471.9L894.3 470.9L894.4 471.2L894.6 469.5L894.7 465.4L894.9 459.2L895.1 463.4L895.2 466.8L895.4 466.3L895.5 467.6L895.7 471.5L895.9 469.6L896.0 476.7L896.2 477.3L896.3 477.3L896.5 481.5L896.7 482.3L896.8 481.2L897.0 484.8L897.1 486.7L897.3 490.6L897.5 490.3L897.6 489.4L897.8 492.7L897.9 493.8L898.1 490.5L898.3 490.7L898.4 493.6L898.6 493.7L898.7 498.8L898.9 499.1L899.1 499.3L899.2 494.3L899.4 490.8L899.5 489.7L899.7 490.3L899.8 490.0L900.0 491.5L900.2 483.6L900.3 481.1L900.5 478.2L900.6 473.3L900.8 470.9L901.0 466.5L901.1 465.3L901.3 462.2L901.4 460.4L901.6 455.2L901.8 455.2L901.9 453.2L902.1 456.0L902.2 455.9L902.4 454.7L902.6 455.4L902.7 454.9L902.9 453.6L903.0 455.2L903.2 456.8L903.4 457.3L903.5 457.8L903.7 456.7L903.8 458.0L904.0 456.0L904.2 461.5L904.3 462.9L904.5 466.0L904.6 463.7L904.8 465.2L905.0 465.8L905.1 469.9L905.3 474.0L905.4 471.7L905.6 476.5L905.8 474.7L905.9 480.0L906.1 481.1L906.2 477.8L906.4 479.2L906.6 478.9L906.7 476.8L906.9 474.8L907.0 475.4L907.2 471.1L907.4 467.8L907.5 470.6L907.7 466.6L907.8 466.2L908.0 465.7L908.2 468.9L908.3 472.8L908.5 467.9L908.6 467.8L908.8 472.2L909.0 472.0L909.1 473.8L909.3 469.5L909.4 461.4L909.6 458.2L909.7 458.2L909.9 452.4L910.1 452.3L910.2 452.3L910.4 453.0L910.5 455.4L910.7 458.8L910.9 462.4L911.0 465.2L911.2 472.2L911.3 471.3L911.5 468.1L911.7 471.0L911.8 473.5L912.0 472.6L912.1 478.2L912.3 476.6L912.5 474.0L912.6 476.1L912.8 478.5L912.9 485.5L913.1 483.6L913.3 482.3L913.4 484.0L913.6 485.6L913.7 488.5L913.9 489.3L914.1 486.7L914.2 484.5L914.4 484.9L914.5 485.6L914.7 482.7L914.9 482.2L915.0 480.9L915.2 479.6L915.3 479.1L915.5 479.5L915.7 486.8L915.8 487.5L916.0 486.2L916.1 484.4L916.3 481.0L916.5 482.4L916.6 475.8L916.8 471.4L916.9 472.0L917.1 471.5L917.3 470.9L917.4 471.7L917.6 467.1L917.7 467.1L917.9 463.6L918.1 460.0L918.2 461.8L918.4 459.9L918.5 458.6L918.7 459.5L918.8 455.7L919.0 455.9L919.2 462.5L919.3 463.5L919.5 467.4L919.6 471.2L919.8 470.2L920.0 469.4L920.1 470.1L920.3 465.3L920.4 465.6L920.6 466.1L920.8 466.5L920.9 466.7L921.1 469.3L921.2 468.9L921.4 472.4L921.6 474.2L921.7 476.0L921.9 476.1L922.0 479.5L922.2 480.5L922.4 485.4L922.5 491.5L922.7 493.1L922.8 494.0L923.0 494.6L923.2 490.8L923.3 488.2L923.5 486.7L923.6 487.8L923.8 487.8L924.0 484.4L924.1 481.0L924.3 476.5L924.4 477.4L924.6 478.7L924.8 478.1L924.9 477.7L925.1 477.8L925.2 473.3L925.4 475.0L925.6 477.5L925.7 478.3L925.9 476.6L926.0 476.8L926.2 478.8L926.4 484.4L926.5 488.3L926.7 491.1L926.8 492.4L927.0 490.4L927.2 483.9L927.3 474.9L927.5 469.2L927.6 466.0L927.8 462.5L927.9 459.0L928.1 459.0L928.3 464.0L928.4 466.8L928.6 465.9L928.7 471.0L928.9 475.9L929.1 476.0L929.2 478.5L929.4 475.4L929.5 477.0L929.7 483.0L929.9 484.5L930.0 489.8L930.2 489.1L930.3 486.2L930.5 481.2L930.7 482.0L930.8 483.0L931.0 478.8L931.1 476.5L931.3 477.5L931.5 474.0L931.6 473.8L931.8 467.8L931.9 464.6L932.1 466.9L932.3 465.3L932.4 463.2L932.6 460.6L932.7 459.7L932.9 456.3L933.1 456.4L933.2 458.8L933.4 463.3L933.5 462.9L933.7 466.5L933.9 467.1L934.0 465.8L934.2 466.7L934.3 469.7L934.5 473.0L934.7 474.7L934.8 474.1L935.0 475.4L935.1 475.7L935.3 476.2L935.5 477.4L935.6 482.1L935.8 479.4L935.9 479.2L936.1 476.8L936.3 479.5L936.4 483.0L936.6 486.7L936.7 486.2L936.9 486.3L937.1 488.2L937.2 488.7L937.4 489.7L937.5 490.9L937.7 492.3L937.8 493.3L938.0 495.8L938.2 494.3L938.3 495.3L938.5 493.8L938.6 495.6L938.8 496.1L939.0 499.3L939.1 500.3L939.3 493.6L939.4 488.0L939.6 484.9L939.8 484.7L939.9 483.2L940.1 481.8L940.2 480.3L940.4 478.2L940.6 478.8L940.7 480.2L940.9 480.9L941.0 479.8L941.2 474.8L941.4 472.0L941.5 470.7L941.7 467.4L941.8 467.3L942.0 462.5L942.2 462.7L942.3 464.5L942.5 467.3L942.6 468.5L942.8 471.9L943.0 471.0L943.1 471.3L943.3 476.4L943.4 476.7L943.6 479.2L943.8 478.3L943.9 483.9L944.1 487.3L944.2 484.9L944.4 479.6L944.6 478.6L944.7 478.0L944.9 479.8L945.0 483.6L945.2 485.3L945.4 486.3L945.5 487.3L945.7 488.8L945.8 488.7L946.0 489.4L946.2 492.8L946.3 492.2L946.5 491.9L946.6 497.5L946.8 498.0L946.9 502.1L947.1 502.6L947.3 498.3L947.4 496.2L947.6 491.5L947.7 485.3L947.9 481.4L948.1 477.5L948.2 473.9L948.4 470.3L948.5 465.0L948.7 463.6L948.9 459.0L949.0 453.7L949.2 451.7L949.3 444.6L949.5 440.3L949.7 439.6L949.8 435.4L950.0 434.9L950.1 434.9L950.3 434.9L950.5 435.9L950.6 435.8L950.8 436.7L950.9 437.5L951.1 441.0L951.3 443.8L951.4 444.7L951.6 444.4L951.7 453.8L951.9 454.9L952.1 459.9L952.2 458.5L952.4 457.9L952.5 463.1L952.7 462.7L952.9 462.8L953.0 464.8L953.2 465.6L953.3 467.8L953.5 470.4L953.7 474.0L953.8 476.1L954.0 478.7L954.1 482.9L954.3 486.7L954.5 486.7L954.6 483.3L954.8 482.2L954.9 486.0L955.1 483.4L955.3 478.1L955.4 473.1L955.6 473.0L955.7 468.8L955.9 463.4L956.1 457.5L956.2 451.9L956.4 455.9L956.5 453.3L956.7 451.5L956.8 448.6L957.0 448.8L957.2 445.8L957.3 440.5L957.5 438.9L957.6 439.3L957.8 444.9L958.0 444.9L958.1 444.3L958.3 445.4L958.4 445.5L958.6 446.0L958.8 448.5L958.9 451.2L959.1 451.5L959.2 455.3L959.4 456.0L959.6 457.1L959.7 456.8L959.9 458.4L960.0 460.7L960.2 463.8L960.4 463.1L960.5 465.4L960.7 465.0L960.8 466.7L961.0 470.0L961.2 470.3L961.3 466.1L961.5 459.5L961.6 456.4L961.8 455.7L962.0 451.4L962.1 453.9L962.3 446.2L962.4 446.3L962.6 445.6L962.8 444.3L962.9 439.1L963.1 439.1L963.2 439.4L963.4 440.0L963.6 437.4L963.7 434.8L963.9 436.2L964.0 437.0L964.2 439.6L964.4 441.1L964.5 445.5L964.7 446.2L964.8 451.4L965.0 455.4L965.2 454.1L965.3 457.7L965.5 462.7L965.6 465.8L965.8 465.2L965.9 465.6L966.1 467.9L966.3 464.5L966.4 463.3L966.6 464.9L966.7 462.8L966.9 460.6L967.1 463.7L967.2 471.2L967.4 476.5L967.5 477.7L967.7 477.8L967.9 482.0L968.0 483.1L968.2 488.7L968.3 496.5L968.5 495.1L968.7 499.5L968.8 504.3L969.0 506.3L969.1 506.1L969.3 505.1L969.5 505.7L969.6 510.7L969.8 509.6L969.9 505.6L970.1 500.5L970.3 494.7L970.4 493.9L970.6 492.0L970.7 489.9L970.9 487.0L971.1 488.3L971.2 490.7L971.4 493.2L971.5 491.7L971.7 491.4L971.9 489.3L972.0 488.7L972.2 490.5L972.3 489.3L972.5 489.8L972.7 496.4L972.8 497.3L973.0 495.0L973.1 490.8L973.3 488.7L973.5 489.7L973.6 488.2L973.8 488.7L973.9 487.0L974.1 484.3L974.3 488.7L974.4 489.7L974.6 496.6L974.7 497.5L974.9 499.2L975.1 499.8L975.2 500.6L975.4 503.2L975.5 504.0L975.7 507.8L975.8 509.3L976.0 513.4L976.2 512.3L976.3 513.6L976.5 514.9L976.6 513.1L976.8 518.2L977.0 520.9L977.1 519.0L977.3 515.3L977.4 511.8L977.6 508.9L977.8 507.1L977.9 501.9L978.1 499.4L978.2 495.0L978.4 495.9L978.6 494.2L978.7 494.3L978.9 495.9L979.0 492.8L979.2 493.3L979.4 489.7L979.5 487.1L979.7 481.3L979.8 478.2L980.0 479.0" fill="none" stroke="#0000ff" stroke-width="0.85" stroke-linejoin="round"/>
</g>
<line x1="443.30" y1="670.35" x2="443.30" y2="103.85" stroke="#000" stroke-width="1.3" stroke-opacity="0.92" stroke-dasharray="5.5 4.092"/>
<rect x="103.85" y="103.85" width="909.31" height="566.95" fill="none" stroke="#000" stroke-width="0.68" stroke-opacity="1"/>
<line x1="91.15" y1="649.90" x2="103.85" y2="649.90" stroke="#000" stroke-width="0.68" stroke-opacity="1" />
<text x="74.30" y="649.90" text-anchor="middle" font-size="21.45" transform="rotate(-90 74.30 649.90)">0.0</text>
<line x1="91.15" y1="562.42" x2="103.85" y2="562.42" stroke="#000" stroke-width="0.68" stroke-opacity="1" />
<text x="74.30" y="562.42" text-anchor="middle" font-size="21.45" transform="rotate(-90 74.30 562.42)">0.1</text>
<line x1="91.15" y1="474.94" x2="103.85" y2="474.94" stroke="#000" stroke-width="0.68" stroke-opacity="1" />
<text x="74.30" y="474.94" text-anchor="middle" font-size="21.45" transform="rotate(-90 74.30 474.94)">0.2</text>
<line x1="91.15" y1="387.46" x2="103.85" y2="387.46" stroke="#000" stroke-width="0.68" stroke-opacity="1" />
<text x="74.30" y="387.46" text-anchor="middle" font-size="21.45" transform="rotate(-90 74.30 387.46)">0.3</text>
<line x1="91.15" y1="299.98" x2="103.85" y2="299.98" stroke="#000" stroke-width="0.68" stroke-opacity="1" />
<text x="74.30" y="299.98" text-anchor="middle" font-size="21.45" transform="rotate(-90 74.30 299.98)">0.4</text>
<line x1="91.15" y1="212.50" x2="103.85" y2="212.50" stroke="#000" stroke-width="0.68" stroke-opacity="1" />
<text x="74.30" y="212.50" text-anchor="middle" font-size="21.45" transform="rotate(-90 74.30 212.50)">0.5</text>
<line x1="91.15" y1="125.02" x2="103.85" y2="125.02" stroke="#000" stroke-width="0.68" stroke-opacity="1" />
<text x="74.30" y="125.02" text-anchor="middle" font-size="21.45" transform="rotate(-90 74.30 125.02)">0.6</text>
<text x="24.30" y="387.93" text-anchor="middle" font-size="21.45" transform="rotate(-90 24.30 387.93)">bounce rate</text>
<line x1="290.65" y1="670.80" x2="290.65" y2="683.50" stroke="#000" stroke-width="0.68" stroke-opacity="1" />
<text x="290.65" y="716.20" text-anchor="middle" font-size="21.45">Fri</text>
<line x1="520.40" y1="670.80" x2="520.40" y2="683.50" stroke="#000" stroke-width="0.68" stroke-opacity="1" />
<text x="520.40" y="716.20" text-anchor="middle" font-size="21.45">Sat</text>
<line x1="750.15" y1="670.80" x2="750.15" y2="683.50" stroke="#000" stroke-width="0.68" stroke-opacity="1" />
<text x="750.15" y="716.20" text-anchor="middle" font-size="21.45">Sun</text>
<line x1="979.90" y1="670.80" x2="979.90" y2="683.50" stroke="#000" stroke-width="0.68" stroke-opacity="1" />
<text x="979.90" y="716.20" text-anchor="middle" font-size="21.45">Mon</text>
<text x="415.30" y="657.30" text-anchor="end" font-size="21.45">inset interval</text>
<polyline points="423.9,644.9 423.9,654.2 462.6,654.2 462.6,644.9" fill="none" stroke="#000" stroke-width="1.15" stroke-opacity="0.9"/>
<rect x="644.9" y="125.1" width="338.40" height="100.90" fill="#fff" stroke="#000" stroke-width="0.68" stroke-opacity="1"/>
<line x1="663.70" y1="150.30" x2="701.90" y2="150.30" stroke="#d3d3d3" stroke-width="1.0" stroke-opacity="0.7" />
<line x1="663.70" y1="175.50" x2="701.90" y2="175.50" stroke="#0000ff" stroke-width="0.7" stroke-opacity="0.9" />
<line x1="663.70" y1="201.00" x2="701.90" y2="201.00" stroke="#ff0000" stroke-width="1.6" stroke-opacity="0.5" />
<text x="720.30" y="157.20" text-anchor="start" font-size="21.45">Bounce rate</text>
<text x="720.30" y="182.60" text-anchor="start" font-size="21.45">30-minute moving average</text>
<text x="720.30" y="208.20" text-anchor="start" font-size="21.45">Linear fits at ToS change</text>
<g clip-path="url(#cr)">
<path d="M1110.1 446.0L1112.0 360.0L1113.8 422.4L1115.7 325.4L1117.6 394.0L1119.4 327.4L1121.3 430.0L1123.2 410.0L1125.0 441.2L1126.9 370.0L1128.8 422.0L1130.6 386.0L1132.5 422.0L1134.4 330.0L1136.2 294.7L1138.1 450.0L1140.0 344.0L1141.9 450.0L1143.7 468.0L1145.6 378.0L1147.5 356.0L1149.3 446.0L1151.2 291.1L1153.1 354.0L1154.9 350.0L1156.8 466.0L1158.7 474.0L1160.5 430.0L1162.4 402.0L1164.3 450.0L1166.1 350.0L1168.0 330.0L1169.9 300.8L1171.7 394.0L1173.6 426.0L1175.5 370.0L1177.3 330.8L1179.2 362.0L1181.1 394.0L1182.9 282.4L1184.8 366.0L1186.7 390.0L1188.5 394.0L1190.4 400.0L1192.3 511.8L1194.2 330.0L1196.0 342.1L1197.9 328.0L1199.8 426.0L1201.6 346.0L1203.5 298.2L1205.4 394.0L1207.2 495.0L1209.1 259.5L1211.0 398.0L1212.8 370.0L1214.7 372.8L1216.6 410.0L1218.4 394.0L1220.3 338.0L1222.2 298.2L1224.0 330.0L1225.9 534.1L1227.8 410.0L1229.6 362.0L1231.5 330.0L1233.4 396.7L1235.2 348.0L1237.1 505.7L1239.0 394.0L1240.8 406.0L1242.7 394.0L1244.6 494.6L1246.4 394.0L1248.3 362.0L1250.2 437.6L1252.1 314.0L1253.9 446.0L1255.8 316.0L1257.7 504.7L1259.5 418.0L1261.4 370.0L1263.3 366.0L1265.1 370.0L1267.0 413.1L1268.9 394.0L1270.7 506.4L1272.6 330.0L1274.5 279.7L1276.3 358.0L1278.2 318.8L1280.1 410.0L1281.9 358.0L1283.8 515.8L1285.7 539.0L1287.5 293.8L1289.4 522.5L1291.3 290.0L1293.1 183.1L1295.0 370.0L1296.9 324.0L1298.7 512.1L1300.6 386.0L1302.5 338.0L1304.3 434.5L1306.2 318.0L1308.1 294.7L1310.0 370.0L1311.8 426.0L1313.7 330.0L1315.6 226.6L1317.4 502.1L1319.3 532.9L1321.2 346.0L1323.0 354.0L1324.9 386.0L1326.8 414.0L1328.6 398.0L1330.5 414.0L1332.4 426.0L1334.2 412.0L1336.1 383.0L1338.0 473.0L1339.8 476.0L1341.7 486.0L1343.6 408.0L1345.4 460.0L1347.3 539.0L1349.2 517.9L1351.0 410.0L1352.9 596.3L1354.8 540.0L1356.6 543.0L1358.5 536.0L1360.4 551.3L1362.3 370.2L1364.1 370.2L1366.0 396.0L1367.9 544.2L1369.7 519.0L1371.6 443.0L1373.5 597.9L1375.3 428.0L1377.2 413.0L1379.1 605.2L1380.9 568.4L1382.8 440.0L1384.7 530.0L1386.5 576.8L1388.4 600.0L1390.3 529.0L1392.1 539.0L1394.0 490.0L1395.9 534.0L1397.7 438.6L1399.6 480.0L1401.5 372.0L1403.3 597.9L1405.2 572.7L1407.1 504.0L1408.9 490.0L1410.8 539.0L1412.7 418.0L1414.5 565.5L1416.4 490.0L1418.3 528.0L1420.2 576.0L1422.0 298.2L1423.9 397.3L1425.8 649.7L1427.6 430.0L1429.5 539.9L1431.4 480.0L1433.2 581.7L1435.1 482.3L1437.0 420.4L1438.8 391.3L1440.7 576.0L1442.6 510.9L1444.4 528.0L1446.3 398.4L1448.2 494.0L1450.0 249.8L1451.9 359.7L1453.8 519.5L1455.6 390.6L1457.5 594.8L1459.4 428.0L1461.2 419.0L1463.1 476.0L1465.0 539.0L1466.8 418.0L1468.7 534.0L1470.6 460.0L1472.4 430.0L1474.3 611.2L1476.2 485.0L1478.1 502.0L1479.9 418.0L1481.8 410.0L1483.7 489.0L1485.5 396.5L1487.4 325.4L1489.3 409.0L1491.1 372.0L1493.0 407.3L1494.9 546.0L1496.7 541.0L1498.6 398.0L1500.5 357.1L1502.3 576.0L1504.2 430.0L1506.1 460.0L1507.9 370.2L1509.8 430.0L1511.7 649.7L1513.5 529.9L1515.4 406.0L1517.3 464.0L1519.1 578.2L1521.0 582.0L1522.9 581.2L1524.7 430.0L1526.6 561.8L1528.5 442.0L1530.4 582.1L1532.2 375.0L1534.1 484.0L1536.0 461.0L1537.8 582.1L1539.7 508.0L1541.6 490.0L1543.4 523.0L1545.3 498.0L1547.2 600.5L1549.0 454.4L1550.9 247.2L1552.8 396.2L1554.6 474.0L1556.5 544.2" fill="none" stroke="#d3d3d3" stroke-width="0.55" stroke-linejoin="round"/>
</g>
<line x1="1333.30" y1="670.35" x2="1333.30" y2="101.15" stroke="#000" stroke-width="1.3" stroke-opacity="0.92" stroke-dasharray="5.5 4.092"/>
<line x1="1110.1" y1="391.07" x2="1332.6" y2="374.11" stroke="#ff0000" stroke-width="1.6" stroke-opacity="0.95" stroke-linecap="round"/><line x1="1334.0" y1="491.96" x2="1556.5" y2="463.48" stroke="#ff0000" stroke-width="1.6" stroke-opacity="0.95" stroke-linecap="round"/>
<rect x="1092.0" y="101.15" width="482.70" height="569.65" fill="none" stroke="#000" stroke-width="0.68" stroke-opacity="1"/>
<line x1="1079.30" y1="649.70" x2="1092.00" y2="649.70" stroke="#000" stroke-width="0.68" stroke-opacity="1" />
<text x="1062.40" y="649.70" text-anchor="middle" font-size="21.45" transform="rotate(-90 1062.40 649.70)">0.0</text>
<line x1="1079.30" y1="561.82" x2="1092.00" y2="561.82" stroke="#000" stroke-width="0.68" stroke-opacity="1" />
<text x="1062.40" y="561.82" text-anchor="middle" font-size="21.45" transform="rotate(-90 1062.40 561.82)">0.1</text>
<line x1="1079.30" y1="473.94" x2="1092.00" y2="473.94" stroke="#000" stroke-width="0.68" stroke-opacity="1" />
<text x="1062.40" y="473.94" text-anchor="middle" font-size="21.45" transform="rotate(-90 1062.40 473.94)">0.2</text>
<line x1="1079.30" y1="386.06" x2="1092.00" y2="386.06" stroke="#000" stroke-width="0.68" stroke-opacity="1" />
<text x="1062.40" y="386.06" text-anchor="middle" font-size="21.45" transform="rotate(-90 1062.40 386.06)">0.3</text>
<line x1="1079.30" y1="298.18" x2="1092.00" y2="298.18" stroke="#000" stroke-width="0.68" stroke-opacity="1" />
<text x="1062.40" y="298.18" text-anchor="middle" font-size="21.45" transform="rotate(-90 1062.40 298.18)">0.4</text>
<line x1="1079.30" y1="210.30" x2="1092.00" y2="210.30" stroke="#000" stroke-width="0.68" stroke-opacity="1" />
<text x="1062.40" y="210.30" text-anchor="middle" font-size="21.45" transform="rotate(-90 1062.40 210.30)">0.5</text>
<line x1="1079.30" y1="122.42" x2="1092.00" y2="122.42" stroke="#000" stroke-width="0.68" stroke-opacity="1" />
<text x="1062.40" y="122.42" text-anchor="middle" font-size="21.45" transform="rotate(-90 1062.40 122.42)">0.6</text>
<line x1="1113.60" y1="670.80" x2="1113.60" y2="683.50" stroke="#000" stroke-width="0.68" stroke-opacity="1" />
<text x="1113.50" y="716.20" text-anchor="middle" font-size="21.45">14:00</text>
<line x1="1225.75" y1="670.80" x2="1225.75" y2="683.50" stroke="#000" stroke-width="0.68" stroke-opacity="1" />
<text x="1225.65" y="716.20" text-anchor="middle" font-size="21.45">15:00</text>
<line x1="1337.90" y1="670.80" x2="1337.90" y2="683.50" stroke="#000" stroke-width="0.68" stroke-opacity="1" />
<text x="1337.80" y="716.20" text-anchor="middle" font-size="21.45">16:00</text>
<line x1="1450.05" y1="670.80" x2="1450.05" y2="683.50" stroke="#000" stroke-width="0.68" stroke-opacity="1" />
<text x="1449.95" y="716.20" text-anchor="middle" font-size="21.45">17:00</text>
<line x1="1562.20" y1="670.80" x2="1562.20" y2="683.50" stroke="#000" stroke-width="0.68" stroke-opacity="1" />
<text x="1562.10" y="716.20" text-anchor="middle" font-size="21.45">18:00</text>
<text x="1333.35" y="766.60" text-anchor="middle" font-size="21.45">Friday, February 21 (PST)</text>
</svg>
</body></html>
